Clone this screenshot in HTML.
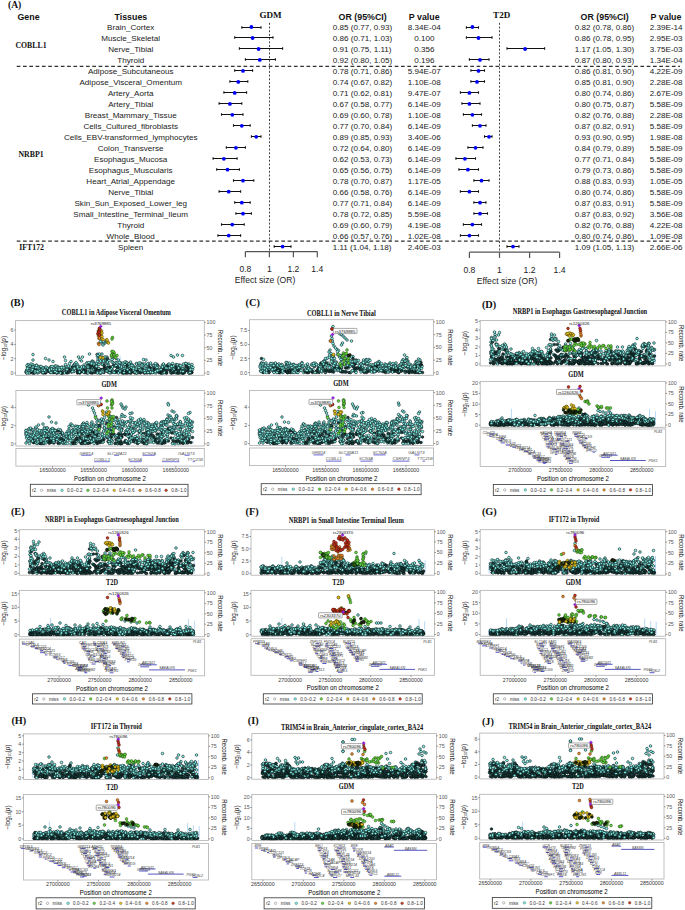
<!DOCTYPE html>
<html><head><meta charset="utf-8"><title>Figure</title><style>
html,body{margin:0;padding:0;background:#fff;width:685px;height:910px;overflow:hidden}
svg{display:block}
.s{font-family:"Liberation Sans",sans-serif}
.sb{font-family:"Liberation Sans",sans-serif;font-weight:bold;fill:#111}
.rb{font-family:"Liberation Serif",serif;font-weight:bold;fill:#111}
.fr{fill:none;stroke:#b4b4b4;stroke-width:0.85}
.lg{fill:none;stroke:#333;stroke-width:0.8}
.tk{fill:none;stroke:#555;stroke-width:0.6}
.tl{font-family:"Liberation Sans",sans-serif;font-size:5.3px;fill:#555}
.xt{font-family:"Liberation Sans",sans-serif;font-size:5.3px;fill:#333}
.yl{font-family:"Liberation Sans",sans-serif;font-size:6.4px;fill:#222}
.xl{font-family:"Liberation Sans",sans-serif;font-size:6.9px;fill:#000}
.lt{font-family:"Liberation Sans",sans-serif;font-size:4.6px;fill:#333}
.ll{font-family:"Liberation Sans",sans-serif;font-size:4.3px;fill:#111}
.gt{font-family:"Liberation Sans",sans-serif;font-style:italic;fill:#3a3a3a}
.gc{font-family:"Liberation Sans",sans-serif;font-style:italic;fill:#555}
.gb{fill:none;stroke:#2c2cb4;stroke-width:0.8}
.mcy{fill:none;stroke:none;marker-start:url(#kcy);marker-mid:url(#kcy);marker-end:url(#kcy)}.mc2{fill:none;stroke:none;marker-start:url(#kc2);marker-mid:url(#kc2);marker-end:url(#kc2)}.mc3{fill:none;stroke:none;marker-start:url(#kc3);marker-mid:url(#kc3);marker-end:url(#kc3)}.mdk{fill:none;stroke:none;marker-start:url(#kdk);marker-mid:url(#kdk);marker-end:url(#kdk)}.mdg{fill:none;stroke:none;marker-start:url(#kdg);marker-mid:url(#kdg);marker-end:url(#kdg)}.mgr{fill:none;stroke:none;marker-start:url(#kgr);marker-mid:url(#kgr);marker-end:url(#kgr)}.mye{fill:none;stroke:none;marker-start:url(#kye);marker-mid:url(#kye);marker-end:url(#kye)}.mor{fill:none;stroke:none;marker-start:url(#kor);marker-mid:url(#kor);marker-end:url(#kor)}.mre{fill:none;stroke:none;marker-start:url(#kre);marker-mid:url(#kre);marker-end:url(#kre)}.mpu{fill:none;stroke:none;marker-start:url(#kpu);marker-mid:url(#kpu);marker-end:url(#kpu)}</style></head>
<body><svg width="685" height="910" viewBox="0 0 685 910">
<defs><marker id="kcy" markerWidth="8" markerHeight="8" markerUnits="userSpaceOnUse" overflow="visible"><circle r="2.60" fill="#86f6ee" stroke="#0c1c1c" stroke-width="1.20"/></marker><marker id="kc2" markerWidth="8" markerHeight="8" markerUnits="userSpaceOnUse" overflow="visible"><circle r="2.60" fill="#4fb8b0" stroke="#0e1c1c" stroke-width="1.20"/></marker><marker id="kc3" markerWidth="8" markerHeight="8" markerUnits="userSpaceOnUse" overflow="visible"><circle r="2.60" fill="#1b3f3d" stroke="#061010" stroke-width="1.20"/></marker><marker id="kdk" markerWidth="8" markerHeight="8" markerUnits="userSpaceOnUse" overflow="visible"><circle r="2.78" fill="#1e2a10" stroke="#050a02" stroke-width="0.84"/></marker><marker id="kdg" markerWidth="8" markerHeight="8" markerUnits="userSpaceOnUse" overflow="visible"><circle r="2.78" fill="#2e6a1c" stroke="#0a1a05" stroke-width="0.84"/></marker><marker id="kgr" markerWidth="8" markerHeight="8" markerUnits="userSpaceOnUse" overflow="visible"><circle r="2.78" fill="#5fd63a" stroke="#1c2a14" stroke-width="0.84"/></marker><marker id="kye" markerWidth="8" markerHeight="8" markerUnits="userSpaceOnUse" overflow="visible"><circle r="2.78" fill="#e4c21c" stroke="#2d2505" stroke-width="0.84"/></marker><marker id="kor" markerWidth="8" markerHeight="8" markerUnits="userSpaceOnUse" overflow="visible"><circle r="2.78" fill="#e6892c" stroke="#2e1a08" stroke-width="0.84"/></marker><marker id="kre" markerWidth="8" markerHeight="8" markerUnits="userSpaceOnUse" overflow="visible"><circle r="2.78" fill="#c93219" stroke="#2e0d05" stroke-width="0.84"/></marker><marker id="kpu" markerWidth="8" markerHeight="8" markerUnits="userSpaceOnUse" overflow="visible"><circle r="2.78" fill="#9a1de0" stroke="#9a1de0" stroke-width="0.84"/></marker></defs>
<text class="rb" x="8" y="8.2" font-size="9.6">(A)</text>
<g class="sb" font-size="8.85">
<text x="28.5" y="20.3" text-anchor="middle">Gene</text>
<text x="130.9" y="20.3" text-anchor="middle">Tissues</text>
<text x="362.7" y="20.3" text-anchor="middle">OR (95%CI)</text>
<text x="424.2" y="20.3" text-anchor="middle">P value</text>
<text x="604.7" y="20.3" text-anchor="middle">OR (95%CI)</text>
<text x="666.0" y="20.3" text-anchor="middle">P value</text>
</g>
<text class="rb" x="270.5" y="18.1" font-size="9.1" text-anchor="middle">GDM</text>
<text class="rb" x="501.7" y="18.1" font-size="9.1" text-anchor="middle">T2D</text>
<g class="rb" font-size="7.8" text-anchor="middle">
<text x="31" y="47.5">COBLL1</text>
<text x="31" y="157.2">NRBP1</text>
<text x="31.6" y="250.1">IFT172</text>
</g>
<g stroke="#333" stroke-width="1.1" stroke-dasharray="3.7 2.6">
<line x1="16.7" y1="66.4" x2="680" y2="66.4"/>
<line x1="16.7" y1="241.1" x2="680" y2="241.1"/>
</g>
<g stroke="#333" stroke-width="0.9" stroke-dasharray="2 1.7">
<line x1="269.5" y1="22.8" x2="269.5" y2="251.6"/>
<line x1="499.5" y1="22.8" x2="499.5" y2="252.2"/>
</g>
<g class="s" font-size="8.1" fill="#222">
<text x="130.7" y="29.9" text-anchor="middle">Brain_Cortex</text>
<text x="332.7" y="29.9">0.85 (0.77, 0.93)</text>
<text x="424.3" y="29.9" text-anchor="middle">8.34E-04</text>
<text x="574.8" y="29.9">0.82 (0.78, 0.86)</text>
<text x="666.2" y="29.9" text-anchor="middle">2.39E-14</text>
<text x="130.7" y="40.9" text-anchor="middle">Muscle_Skeletal</text>
<text x="332.7" y="40.9">0.86 (0.71, 1.03)</text>
<text x="424.3" y="40.9" text-anchor="middle">0.100</text>
<text x="574.8" y="40.9">0.86 (0.78, 0.95)</text>
<text x="666.2" y="40.9" text-anchor="middle">2.95E-03</text>
<text x="130.7" y="51.9" text-anchor="middle">Nerve_Tibial</text>
<text x="332.7" y="51.9">0.91 (0.75, 1.11)</text>
<text x="424.3" y="51.9" text-anchor="middle">0.356</text>
<text x="574.8" y="51.9">1.17 (1.05, 1.30)</text>
<text x="666.2" y="51.9" text-anchor="middle">3.75E-03</text>
<text x="130.7" y="62.8" text-anchor="middle">Thyroid</text>
<text x="332.7" y="62.8">0.92 (0.80, 1.05)</text>
<text x="424.3" y="62.8" text-anchor="middle">0.196</text>
<text x="574.8" y="62.8">0.87 (0.80, 0.93)</text>
<text x="666.2" y="62.8" text-anchor="middle">1.34E-04</text>
<text x="130.7" y="73.8" text-anchor="middle">Adipose_Subcutaneous</text>
<text x="332.7" y="73.8">0.78 (0.71, 0.86)</text>
<text x="424.3" y="73.8" text-anchor="middle">5.94E-07</text>
<text x="574.8" y="73.8">0.86 (0.81, 0.90)</text>
<text x="666.2" y="73.8" text-anchor="middle">4.22E-09</text>
<text x="130.7" y="84.8" text-anchor="middle">Adipose_Visceral_Omentum</text>
<text x="332.7" y="84.8">0.74 (0.67, 0.82)</text>
<text x="424.3" y="84.8" text-anchor="middle">1.10E-08</text>
<text x="574.8" y="84.8">0.85 (0.81, 0.90)</text>
<text x="666.2" y="84.8" text-anchor="middle">2.28E-08</text>
<text x="130.7" y="95.8" text-anchor="middle">Artery_Aorta</text>
<text x="332.7" y="95.8">0.71 (0.62, 0.81)</text>
<text x="424.3" y="95.8" text-anchor="middle">9.47E-07</text>
<text x="574.8" y="95.8">0.80 (0.74, 0.86)</text>
<text x="666.2" y="95.8" text-anchor="middle">2.67E-09</text>
<text x="130.7" y="106.8" text-anchor="middle">Artery_Tibial</text>
<text x="332.7" y="106.8">0.67 (0.58, 0.77)</text>
<text x="424.3" y="106.8" text-anchor="middle">6.14E-09</text>
<text x="574.8" y="106.8">0.80 (0.75, 0.87)</text>
<text x="666.2" y="106.8" text-anchor="middle">5.58E-09</text>
<text x="130.7" y="117.7" text-anchor="middle">Breast_Mammary_Tissue</text>
<text x="332.7" y="117.7">0.69 (0.60, 0.78)</text>
<text x="424.3" y="117.7" text-anchor="middle">1.10E-08</text>
<text x="574.8" y="117.7">0.82 (0.76, 0.88)</text>
<text x="666.2" y="117.7" text-anchor="middle">2.28E-08</text>
<text x="130.7" y="128.7" text-anchor="middle">Cells_Cultured_fibroblasts</text>
<text x="332.7" y="128.7">0.77 (0.70, 0.84)</text>
<text x="424.3" y="128.7" text-anchor="middle">6.14E-09</text>
<text x="574.8" y="128.7">0.87 (0.82, 0.91)</text>
<text x="666.2" y="128.7" text-anchor="middle">5.58E-09</text>
<text x="130.7" y="139.7" text-anchor="middle">Cells_EBV-transformed_lymphocytes</text>
<text x="332.7" y="139.7">0.89 (0.85, 0.93)</text>
<text x="424.3" y="139.7" text-anchor="middle">3.40E-06</text>
<text x="574.8" y="139.7">0.93 (0.90, 0.95)</text>
<text x="666.2" y="139.7" text-anchor="middle">1.98E-08</text>
<text x="130.7" y="150.7" text-anchor="middle">Colon_Transverse</text>
<text x="332.7" y="150.7">0.72 (0.64, 0.80)</text>
<text x="424.3" y="150.7" text-anchor="middle">6.14E-09</text>
<text x="574.8" y="150.7">0.84 (0.79, 0.89)</text>
<text x="666.2" y="150.7" text-anchor="middle">5.58E-09</text>
<text x="130.7" y="161.7" text-anchor="middle">Esophagus_Mucosa</text>
<text x="332.7" y="161.7">0.62 (0.53, 0.73)</text>
<text x="424.3" y="161.7" text-anchor="middle">6.14E-09</text>
<text x="574.8" y="161.7">0.77 (0.71, 0.84)</text>
<text x="666.2" y="161.7" text-anchor="middle">5.58E-09</text>
<text x="130.7" y="172.6" text-anchor="middle">Esophagus_Muscularis</text>
<text x="332.7" y="172.6">0.65 (0.56, 0.75)</text>
<text x="424.3" y="172.6" text-anchor="middle">6.14E-09</text>
<text x="574.8" y="172.6">0.79 (0.73, 0.86)</text>
<text x="666.2" y="172.6" text-anchor="middle">5.58E-09</text>
<text x="130.7" y="183.6" text-anchor="middle">Heart_Atrial_Appendage</text>
<text x="332.7" y="183.6">0.78 (0.70, 0.87)</text>
<text x="424.3" y="183.6" text-anchor="middle">1.17E-05</text>
<text x="574.8" y="183.6">0.88 (0.83, 0.93)</text>
<text x="666.2" y="183.6" text-anchor="middle">1.05E-05</text>
<text x="130.7" y="194.6" text-anchor="middle">Nerve_Tibial</text>
<text x="332.7" y="194.6">0.66 (0.58, 0.76)</text>
<text x="424.3" y="194.6" text-anchor="middle">6.14E-09</text>
<text x="574.8" y="194.6">0.80 (0.74, 0.86)</text>
<text x="666.2" y="194.6" text-anchor="middle">5.58E-09</text>
<text x="130.7" y="205.6" text-anchor="middle">Skin_Sun_Exposed_Lower_leg</text>
<text x="332.7" y="205.6">0.77 (0.71, 0.84)</text>
<text x="424.3" y="205.6" text-anchor="middle">6.14E-09</text>
<text x="574.8" y="205.6">0.87 (0.83, 0.91)</text>
<text x="666.2" y="205.6" text-anchor="middle">5.58E-09</text>
<text x="130.7" y="216.6" text-anchor="middle">Small_Intestine_Terminal_Ileum</text>
<text x="332.7" y="216.6">0.78 (0.72, 0.85)</text>
<text x="424.3" y="216.6" text-anchor="middle">5.59E-08</text>
<text x="574.8" y="216.6">0.87 (0.83, 0.92)</text>
<text x="666.2" y="216.6" text-anchor="middle">3.56E-08</text>
<text x="130.7" y="227.5" text-anchor="middle">Thyroid</text>
<text x="332.7" y="227.5">0.69 (0.60, 0.79)</text>
<text x="424.3" y="227.5" text-anchor="middle">4.19E-08</text>
<text x="574.8" y="227.5">0.82 (0.76, 0.88)</text>
<text x="666.2" y="227.5" text-anchor="middle">4.22E-08</text>
<text x="130.7" y="238.5" text-anchor="middle">Whole_Blood</text>
<text x="332.7" y="238.5">0.66 (0.57, 0.76)</text>
<text x="424.3" y="238.5" text-anchor="middle">1.02E-08</text>
<text x="574.8" y="238.5">0.80 (0.74, 0.86)</text>
<text x="666.2" y="238.5" text-anchor="middle">1.09E-08</text>
<text x="130.7" y="249.5" text-anchor="middle">Spleen</text>
<text x="332.7" y="249.5">1.11 (1.04, 1.18)</text>
<text x="424.3" y="249.5" text-anchor="middle">2.40E-03</text>
<text x="574.8" y="249.5">1.09 (1.05, 1.13)</text>
<text x="666.2" y="249.5" text-anchor="middle">2.66E-06</text>
</g>
<g stroke="#111" stroke-width="1.1">
<path d="M241.8 27.5H261.0M241.8 26.2v2.6M261.0 26.2v2.6"/>
<path d="M466.4 27.5H478.5M466.4 26.2v2.6M478.5 26.2v2.6"/>
<path d="M234.7 37.5H273.0M234.7 36.2v2.6M273.0 36.2v2.6"/>
<path d="M466.4 37.5H492.0M466.4 36.2v2.6M492.0 36.2v2.6"/>
<path d="M239.4 48.5H282.6M239.4 47.2v2.6M282.6 47.2v2.6"/>
<path d="M507.0 48.5H544.6M507.0 47.2v2.6M544.6 47.2v2.6"/>
<path d="M245.4 59.5H275.4M245.4 58.2v2.6M275.4 58.2v2.6"/>
<path d="M469.4 59.5H489.0M469.4 58.2v2.6M489.0 58.2v2.6"/>
<path d="M234.7 70.5H252.6M234.7 69.2v2.6M252.6 69.2v2.6"/>
<path d="M470.9 70.5H484.5M470.9 69.2v2.6M484.5 69.2v2.6"/>
<path d="M229.9 81.5H247.8M229.9 80.2v2.6M247.8 80.2v2.6"/>
<path d="M470.9 81.5H484.5M470.9 80.2v2.6M484.5 80.2v2.6"/>
<path d="M223.9 92.5H246.6M223.9 91.2v2.6M246.6 91.2v2.6"/>
<path d="M460.4 92.5H478.5M460.4 91.2v2.6M478.5 91.2v2.6"/>
<path d="M219.1 103.5H241.8M219.1 102.2v2.6M241.8 102.2v2.6"/>
<path d="M461.9 103.5H480.0M461.9 102.2v2.6M480.0 102.2v2.6"/>
<path d="M221.5 114.5H243.0M221.5 113.2v2.6M243.0 113.2v2.6"/>
<path d="M463.4 114.5H481.5M463.4 113.2v2.6M481.5 113.2v2.6"/>
<path d="M233.5 125.5H250.2M233.5 124.2v2.6M250.2 124.2v2.6"/>
<path d="M472.4 125.5H486.0M472.4 124.2v2.6M486.0 124.2v2.6"/>
<path d="M251.4 136.5H261.0M251.4 135.2v2.6M261.0 135.2v2.6"/>
<path d="M484.5 136.5H492.0M484.5 135.2v2.6M492.0 135.2v2.6"/>
<path d="M226.3 147.5H245.4M226.3 146.2v2.6M245.4 146.2v2.6"/>
<path d="M467.9 147.5H483.0M467.9 146.2v2.6M483.0 146.2v2.6"/>
<path d="M213.1 158.5H237.1M213.1 157.2v2.6M237.1 157.2v2.6"/>
<path d="M455.9 158.5H475.5M455.9 157.2v2.6M475.5 157.2v2.6"/>
<path d="M216.7 169.5H239.4M216.7 168.2v2.6M239.4 168.2v2.6"/>
<path d="M458.9 169.5H478.5M458.9 168.2v2.6M478.5 168.2v2.6"/>
<path d="M233.5 180.5H253.8M233.5 179.2v2.6M253.8 179.2v2.6"/>
<path d="M473.9 180.5H489.0M473.9 179.2v2.6M489.0 179.2v2.6"/>
<path d="M219.1 191.5H240.6M219.1 190.2v2.6M240.6 190.2v2.6"/>
<path d="M460.4 191.5H478.5M460.4 190.2v2.6M478.5 190.2v2.6"/>
<path d="M234.7 202.5H250.2M234.7 201.2v2.6M250.2 201.2v2.6"/>
<path d="M473.9 202.5H486.0M473.9 201.2v2.6M486.0 201.2v2.6"/>
<path d="M235.9 213.5H251.4M235.9 212.2v2.6M251.4 212.2v2.6"/>
<path d="M473.9 213.5H487.5M473.9 212.2v2.6M487.5 212.2v2.6"/>
<path d="M221.5 224.5H244.2M221.5 223.2v2.6M244.2 223.2v2.6"/>
<path d="M463.4 224.5H481.5M463.4 223.2v2.6M481.5 223.2v2.6"/>
<path d="M217.9 235.5H240.6M217.9 234.2v2.6M240.6 234.2v2.6"/>
<path d="M460.4 235.5H478.5M460.4 234.2v2.6M478.5 234.2v2.6"/>
<path d="M274.2 246.5H291.0M274.2 245.2v2.6M291.0 245.2v2.6"/>
<path d="M507.0 246.5H519.0M507.0 245.2v2.6M519.0 245.2v2.6"/>
</g>
<g fill="#0000ff">
<circle cx="251.4" cy="27.0" r="1.9"/>
<circle cx="472.4" cy="27.0" r="1.9"/>
<circle cx="252.6" cy="38.0" r="1.9"/>
<circle cx="478.5" cy="38.0" r="1.9"/>
<circle cx="258.6" cy="49.0" r="1.9"/>
<circle cx="525.1" cy="49.0" r="1.9"/>
<circle cx="259.8" cy="59.9" r="1.9"/>
<circle cx="480.0" cy="59.9" r="1.9"/>
<circle cx="243.0" cy="70.9" r="1.9"/>
<circle cx="478.5" cy="70.9" r="1.9"/>
<circle cx="238.3" cy="81.9" r="1.9"/>
<circle cx="477.0" cy="81.9" r="1.9"/>
<circle cx="234.7" cy="92.9" r="1.9"/>
<circle cx="469.4" cy="92.9" r="1.9"/>
<circle cx="229.9" cy="103.9" r="1.9"/>
<circle cx="469.4" cy="103.9" r="1.9"/>
<circle cx="232.3" cy="114.8" r="1.9"/>
<circle cx="472.4" cy="114.8" r="1.9"/>
<circle cx="241.8" cy="125.8" r="1.9"/>
<circle cx="480.0" cy="125.8" r="1.9"/>
<circle cx="256.2" cy="136.8" r="1.9"/>
<circle cx="489.0" cy="136.8" r="1.9"/>
<circle cx="235.9" cy="147.8" r="1.9"/>
<circle cx="475.5" cy="147.8" r="1.9"/>
<circle cx="223.9" cy="158.8" r="1.9"/>
<circle cx="464.9" cy="158.8" r="1.9"/>
<circle cx="227.5" cy="169.7" r="1.9"/>
<circle cx="467.9" cy="169.7" r="1.9"/>
<circle cx="243.0" cy="180.7" r="1.9"/>
<circle cx="481.5" cy="180.7" r="1.9"/>
<circle cx="228.7" cy="191.7" r="1.9"/>
<circle cx="469.4" cy="191.7" r="1.9"/>
<circle cx="241.8" cy="202.7" r="1.9"/>
<circle cx="480.0" cy="202.7" r="1.9"/>
<circle cx="243.0" cy="213.7" r="1.9"/>
<circle cx="480.0" cy="213.7" r="1.9"/>
<circle cx="232.3" cy="224.6" r="1.9"/>
<circle cx="472.4" cy="224.6" r="1.9"/>
<circle cx="228.7" cy="235.6" r="1.9"/>
<circle cx="469.4" cy="235.6" r="1.9"/>
<circle cx="282.6" cy="246.6" r="1.9"/>
<circle cx="513.0" cy="246.6" r="1.9"/>
</g>
<g stroke="#555" stroke-width="1.2" fill="none">
<path d="M245.4 251.6H317.3"/>
<path d="M245.4 251.6V257.3"/>
<path d="M269.4 251.6V257.3"/>
<path d="M293.4 251.6V257.3"/>
<path d="M317.3 251.6V257.3"/>
<path d="M469.4 252.2H559.6"/>
<path d="M469.4 252.2V257.9"/>
<path d="M499.5 252.2V257.9"/>
<path d="M529.6 252.2V257.9"/>
<path d="M559.6 252.2V257.9"/>
</g>
<g class="s" font-size="8.6" fill="#222" text-anchor="middle">
<text x="245.4" y="271.6">0.8</text>
<text x="469.4" y="272.7">0.8</text>
<text x="269.4" y="271.6">1</text>
<text x="499.5" y="272.7">1</text>
<text x="293.4" y="271.6">1.2</text>
<text x="529.6" y="272.7">1.2</text>
<text x="317.3" y="271.6">1.4</text>
<text x="559.6" y="272.7">1.4</text>
<text x="265.1" y="283.3">Effect size (OR)</text>
<text x="507.0" y="283.7">Effect size (OR)</text>
</g>
<path d="M120.1 373.1V356.0M191.0 373.1V371.0" fill="none" stroke="#9cc8f2" stroke-width="0.7"/>
<g transform="scale(0.5)"><path d="M81 743m111-3m45 4m13-4m20 6m15-7m1 5m36-6m5 3m5 1m47 4" class="mc3"/><path d="M59 742m17-6m14-1m2 10m9-2m45-4m22-3m9-4m21 7m13-24m9 29m9-17m3 5m0-7m4 17m5-16m5 4m7-3m9 9m15 1m7-1m2 5m0-10m0 12m29-8m12-6m25 0m13-18m2 33" class="mcy"/><path d="M67 746m65-3m22-6m31 9m38-1m74-3m69 2" class="mc3"/><path d="M53 741m0 5m3-17m3 5m26 12m4-6m2-23m3 21m2 0m4 1m1-3m4 4m0 3m25-5m23-3m20-1m5 1m17-22m4-1m14 8m31 26m9-7m2 3m36-13m18 16m9-1m13-3m5-12m4 8m2 0m4 5m8-10m8 11" class="mcy"/><path d="M90 739m1 7m10-1m23-3m129 4m35-6m8 3m15-6m19-3m36 12m11-8m7 7" class="mc3"/><path d="M67 731m1 9m8 0m41 5m14-12m2 9m25-9m13 12m1-10m22-5m1-7m9-8m7 11m5 1m25-1m19 9m4-5m1 6m2-4m6-5m12 0m8 12m8-9m11 16m9 0m9-14m14 4m1-9" class="mcy"/><path d="M68 742m113 3m21-3m20-8m23 11m38-8m14-4m25 13m11 0m40-10m5 10" class="mc3"/><path d="M58 735m20 9m1-7m1 2m16 4m15-5m4-5m1 4m13-2m12 4m47-12m6-18m5 32m3-57m8 2m5 41m26 16m1-16m2 9m15-2m14-6m29 17m9-5m2 2m1-13m25 5m2 3m26 9m5-16" class="mcy"/><path d="M55 744m10-2m4 4m22-2m33 2m63-8m3 7m4-8m11 2m83 1m17 5m37 1m25-8" class="mc3"/><path d="M67 738m0-4m1 12m17-10m25-4m1 10m10-4m0 1m20-5m4 1m3 8m18-2m2-11m8-2m6 1m2 14m43-10m9 12m15-11m15 3m4 3m13 1m5 0m6-7m13-4m10 11m38-31" class="mcy"/><path d="M88 746m1-7m18 6m19 1m48 0m21-8m6 8m56-1m38-1m28 2" class="mc3"/><path d="M55 740m18 1m7-2m11 4m12-4m7 3m1-3m3 5m6-7m9 9m0-8m7-1m24 8m1-9m14 8m8-9m3-10m17-5m10 22m0-18m7 22m4-7m17 3m67-11m5 10m12-11m7 14m9 0m15 2m11-18" class="mcy"/><path d="M62 742m75 3m10-12m30-3m50 1m74 15m66-3" class="mc3"/><path d="M55 733m1 1m11 10m8 2m3-3m6 0m2 0m13-6m1 6m43 1m4-13m5 1m11-10m3 20m10-10m3 9m4-6m2-13m13 18m15-15m25 11m0-6m17 8m6-5m22-5m1 5m5 13m5-5m8 2m12-14m26 12m6 0m16 0" class="mcy"/><path d="M110 741m12 3m16-5m7-5m88 7m27 5m14 0m24-3m1 2m0-5m19 5m5-1" class="mc3"/><path d="M56 743m29 1m12-6m16 8m2-4m19-3m8-16m7 5m14 13m7-5m28 1m14-19m3 6m17 21m3-6m7-3m2 3m6-10m8-1m6 15m15-15m18-1m2 9m29 9m7-8m17 9m2-5m20-13" class="mcy"/><path d="M118 739m80 2m52 5m28-11m22 5m5-4m58 5m15 4" class="mc3"/><path d="M54 731m3 6m23-4m2 8m2-2m7-3m21-4m8 3m17-3m18 10m29 0m5-12m7-12m2 27m11-22m25 3m0 8m15 4m9-5m32-5m13 12m2-4m7-3m1-1m12 14m20-12m8-4m5 0m1 10m0-3m6 0m18 2" class="mcy"/><path d="M109 743m5 3m52-3m107-1m4 3m21-5m52 2m4-3m11 7m2 0" class="mc3"/><path d="M55 735m6-4m5 14m29-9m11-1m8 8m10-9m43 7m9 5m3-10m0-28m14 19m6-9m8-35m3 50m29-1m6-4m4 16m0-2m3-18m2 12m6-5m2 1m7 8m2-4m28 9m15-4m12 5m36-1m2-12" class="mcy"/><path d="M52 744m11 0m92 2m62-10m64 10m19-10m16-4m29 0m7 5m12 4m11 0" class="mc3"/><path d="M65 741m4-4m5-3m11 1m1 6m0 4m15-11m16 6m14-19m16 22m40-12m2 7m24-55m13 42m6 8m14 13m21-7m21 4m1-2m20-4m18-9m8 7m7-24m19 29m10-13m3 2m8 12m2-12m1 10" class="mcy"/><path d="M60 745m8-7m91 8m1-8m42 1m14-4m35 10m2-1m25-2m21 2m5-3m2 1m37-10m29 9" class="mc3"/><path d="M57 741m8-12m14 13m76-9m10-19m9 12m23 2m7 0m5-7m8 10m8-14m23 20m3 0m15-3m11 5m17-2m12 0m33-7m9 8m0 6m4 0m4 2m4-15m7 11m5-15m6 19" class="mcy"/><path d="M61 745m1-12m37 10m13 1m11-2m66-8m19 11m39 1m26-1m49-5m10 3" class="mc3"/><path d="M54 740m23 5m14-4m8 1m6 3m13-1m10-7m22-7m2-2m1 2m7-11m7 15m1 0m20 5m5-7m2 12m3-15m3-46m3 25m9-26m1 32m44 14m3-4m19 14m7-19m57 25m4 1m30-13m4 4" class="mcy"/><path d="M154 739m53 3m9 2m1-5m1-2m9 7m30-1m10 1m7-2m66-1m7 4m12 1m9-1" class="mc3"/><path d="M61 741m25-5m12-16m17 15m3 0m5 8m31-7m41-27m7 37m3-5m3-26m6 1m17 27m12-9m3-8m4-2m4 2m3 2m1 0m6 1m12 15m0-11m16-13m63 10m0 4m21 1m2-7" class="mcy"/><path d="M75 738m47 3m32-7m1 10m13-3m23-2m24-21m74 28m94-2" class="mc3"/><path d="M57 745m5-17m11 2m3 7m1 0m9 4m5 0m37-5m1-22m10 13m24 7m4 0m7-8m13-2m10-15m10 8m5 22m13-5m7-3m0-14m7 8m20 13m2 4m20-16m20 18m4-5m18-5m2 0m7 11m7-9m8-4" class="mcy"/><path d="M120 741m51 1m64-7m9 7m80 2m10-6m25 0" class="mc3"/><path d="M53 744m5-11m0 13m5-6m1 2m12-9m0 10m26-9m0 11m20-4m2 5m24-10m2-8m8 10m31-10m4 5m3-22m6 12m4-35m8 54m13 1m33-11m3 3m10 0m38-3m7 8m11 5m22-10m10 10m11-8m0-2m7-1m4 0" class="mcy"/><path d="M65 746m43-1m10-3m51 3m2-5m60 4m4-1m22-3m4 0m1 6" class="mc3"/><path d="M64 736m25 4m3-6m32 4m3-3m16 9m14-7m19-2m8-12m17-1m9 13m4 1m3 2m2 7m5-21m4 21m20 0m24-7m6-3m2 5m10-4m8 4m5 4m8-17m4 6m7 6m34-3m1 0m5 7m16-12" class="mcy"/><path d="M69 743m54 3m0 0m11 0m27-2m22-12m35 2m37 12m97-11m3 11m21-10m4 9" class="mc3"/><path d="M60 732m5 7m1-5m9 1m25 3m9 1m4 6m42-14m0 3m20-1m3 5m3-12m3-1m4 3m11 17m1 1m7-24m3-8m27 32m3-5m19 3m33-12m5 6m4 6m0-18m4 19m6-2m50-12" class="mcy"/><path d="M141 741m19 4m49-9m2 1m43 1m21 5m19 3m14-8m56 8m5-1m13 1" class="mc3"/><path d="M70 745m2-10m10-2m24 6m7 0m4-1m2 2m0-1m26 4m5-15m11 9m6 7m13-9m3-8m22 2m1 15m17-6m1-19m13 1m18 19m9-8m3 9m6 6m5-20m12 19m6 0m39-9m3-8m5 5" class="mcy"/><path d="M158 744m22-9m3 11m25-15m120 7m6-6m23 12m15-11" class="mc3"/><path d="M54 746m1-9m11-17m0-11m4 33m5 1m28-5m1-5m2-10m15 23m2-11m8-6m23-1m3-14m2 30m4-10m13 0m2-9m21-17m4 35m3-53m12 31m22 21m27-5m17-7m11-2m3 11m16-4m18 1m34 7m14 2m6-10" class="mcy"/><path d="M96 741m124 0m34-10m79 15m11 0" class="mc3"/><path d="M73 731m26 9m11 3m39-6m3-12m43 20m0 1m6-1m19-5m50 4m45-3m32-27m34 25" class="mcy"/><path d="M223 713m1-4m1-34m3 32m2 7m0 0" class="mgr"/><path d="M223 710m1-7m0-25m4 32m0-5m6 6" class="mgr"/><path d="M226 703m5 12" class="mgr"/><path d="M202 667m1-5m1 4m2 50m10-31m1 1" class="mye"/><path d="M201 715m1-38m2-4m2 6m7 1m1 0" class="mye"/><path d="M196 668m1 4m0 15m1-10m0 12m1-13" class="mor"/><path d="M197 662m0 0" class="mor"/><path d="M196 667m2-4m0 1m1-7m0 0m1 3" class="mre"/><path d="M199 670m0 0" class="mre"/></g>
<path d="M100.7 324.7l1.7 1.7-1.7 1.7-1.7-1.7z" fill="#9a1de0" stroke="#6a10a0" stroke-width="0.3"/>
<text x="100.9" y="324.8" text-anchor="middle" class="ll">rs3769885</text>
<path d="M193.0 443.8V441.0" fill="none" stroke="#9cc8f2" stroke-width="0.7"/>
<g transform="scale(0.5)"><path d="M93 874m44 3m9 8m23-7m7-6m16 0m23 4m1 7m17-48m25 33m36 6m0 13m43-5" class="mc3"/><path d="M62 869m20 12m26-16m22 22m2-14m2-5m2 7m16 8m29-29m1 2m24-13m1-3m18 25m4-10m32-12m35 14m6 18m7-26m12 2m0 17m1-15m4-10m31 44m4-3m10-43m7 31m3-27" class="mcy"/><path d="M68 872m11 0m41 9m68-8m12-19m66 25m49 3" class="mc3"/><path d="M71 882m22 1m4-11m10 1m20 2m8 6m3-9m5-20m4 8m0 8m9-10m5 2m11 3m11-16m11-3m9-6m14 20m1-27m6 39m0-11m34 14m18 7m9-12m26-22m3 40m0-17m7 4m2-23m0-6m13 21m8-27m6 19m6 19" class="mcy"/><path d="M79 883m27 2m77-11m3 3m37 3m21-6m0-16" class="mc3"/><path d="M55 868m5 6m12 11m16 2m4-27m3 22m4-12m7-6m27 12m47-13m7 4m6-17m4 19m16-45m5 37m20 6m20 20m23-9m8-31m7 12m5 1m1 5m2-3m6-8m4 28m14-35m15 9m1-34m4 21m13 17m2 5m13 8m6-29" class="mcy"/><path d="M73 883m8 3m56-16m8 16m8-8m5 0m17 2m196-5" class="mc3"/><path d="M74 887m1-19m9 2m16 12m3-12m9-2m7 19m2-4m27-22m9 13m9-26m8 1m5 8m5 6m40-1m20-50m7 51m23-14m7 0m7 26m5-18m18 5m3-15m3 10m5 8m3 5m0-7m1 9m4-10m9 3m38-27m3-13" class="mcy"/><path d="M99 886m1-4m19-2m43-3m9 10m73 0m51-7m17-2" class="mc3"/><path d="M85 878m0-13m20-4m2 10m3 2m16 14m4-13m11-9m17-10m28 25m5-48m6 34m1-14m5-8m19 2m21-13m2 9m0 11m4-2m3-37m5 50m27-23m3 4m6 15m2-15m22 24m0-10m19-29m3 4m9 31m25 3m6-6" class="mcy"/><path d="M68 885m10-14m0 9m23 2m4 1m53-2m79 4m88-20m60 10" class="mc3"/><path d="M55 882m7-8m0-3m20-6m25 3m5-22m10 39m1-4m5 3m5-18m9-17m0 39m29-16m14-56m5 64m2-2m0-7m48-22m25-12m3 8m4 5m5 1m16 21m8-22m4 26m19 10m5-5m5-20m6-7m26 14m11-16" class="mcy"/><path d="M61 881m32-1m75-17m51 23m43-14m120 13" class="mc3"/><path d="M78 872m21 6m22-17m14 2m0 5m5 9m8-11m3-14m16-6m6 23m5-1m5-15m15 4m20-25m10 9m13 36m3-48m26 47m1-15m6-13m0 34m4-30m0 9m25 2m12 21m3-28m1-10m4 16m6 22m16-60m5 7m1 36m8 1m21-13" class="mcy"/><path d="M85 883m24 0m132 5m2-17m76 13" class="mc3"/><path d="M80 880m17-2m1-44m0 31m3 11m1-17m1 4m0-19m2 41m12-16m0 18m21-29m10 4m17-12m2 11m20-8m11-12m25 46m18-39m24-3m0 18m12 16m13 0m3 9m6-4m2-21m10-8m3 2m1 20m2-5m27-32m7 11m13 32m7-3m2-11" class="mcy"/><path d="M60 879m25-7m37 9m79 4m35 0m23-9m50 4m8-6m22-12" class="mc3"/><path d="M52 865m22 11m0 8m12-3m0-33m6 26m26 11m43-30m4-6m3 18m2-13m21 21m27-19m1-21m12 4m5 3m3 24m10 18m24-40m2 27m6-14m10 9m2-1m3-6m18 25m25-41m4 12m15 13m19-23m0-18m1 35" class="mcy"/><path d="M184 880m24-1m69 6m41 1m18-29m10 24" class="mc3"/><path d="M54 872m14-3m9 1m18 1m17-10m4 20m22-19m9 10m2-3m9 13m14-23m10 8m1 13m3-26m6 29m1-45m6 14m37-7m23 36m1-30m0-7m2-3m6 23m13 10m12 3m15-19m19 3m5-19m2 0m1 30m1-28m14 44m5-18m6-14" class="mcy"/><path d="M93 875m15 11m0-7m38 8m16 0m40-5m21-21m98 17" class="mc3"/><path d="M52 867m5 2m10 13m39-5m4 0m8 0m34 10m4-34m13-4m16 18m2-7m9-8m20 22m2 9m3-19m6 10m13-17m1 10m9-34m9 22m10 7m2-7m7 27m28-2m5-18m25-55m0 71m27-24m3 20m10-24m0 26m9-32" class="mcy"/><path d="M155 875m34-9m43 13m43 8m4-22m72 18m7-2m8-11m12 8" class="mc3"/><path d="M52 861m0 25m12-9m4 4m32-16m58 11m8 1m3-7m2 10m19-2m9-22m1-6m6 34m2-28m1 18m3-16m13 24m5-12m3 14m5-26m26-32m11 23m6-11m9 45m12-16m19 4m8-27m25 32m6 2m4 3m19-34" class="mcy"/><path d="M88 886m13-1m164-7m8-1m28-9m5 3m47 11" class="mc3"/><path d="M72 856m9 31m3 0m3-16m11 2m20-11m7 4m1 19m4-2m0-9m26-17m1 8m10-6m5-9m2-1m1 34m17-5m4 2m0-29m8-6m3 26m13-26m33 21m29 0m14-12m14 7m20 18m1-34m7 18m13 2m16-14m5 10m1-26" class="mcy"/><path d="M120 861m40 18m61-10m73 1m50-4" class="mc3"/><path d="M74 887m1-20m2 1m22-4m3 13m1-18m4 4m0-4m0 23m18-13m3 13m1 1m13-35m4 11m14 1m28 19m0-29m17 23m1 11m15-44m12 33m8 2m1 10m7-41m3 26m5-15m36-10m5 23m5 4m4 13m13-8m15-8m15-31m21 48m11-31" class="mcy"/><path d="M98 886m70 0m2-4m159 0m13-6m35 7" class="mc3"/><path d="M52 861m6-3m21 16m3-12m7-7m31 29m7-12m4 1m8-3m19 13m6-7m19 7m8-21m5-4m1 3m1 14m38 9m0-5m2 1m15-19m2-1m5-10m31 2m9 14m37-24m6 19m8-8m7 21m2-31m1 1m2 9m3 1m7-9m6 4" class="mcy"/><path d="M179 870m14 14m42 3m30-30m48 22m32 7m33-2" class="mc3"/><path d="M52 870m1 6m1-8m16 17m5-21m3 7m0 12m1-20m16-7m2 11m18 7m1 0m23 0m4 7m15-21m6 4m1-15m2 29m22-52m18 36m13-25m21 9m11 19m8 14m4-12m12 19m1-24m2 0m9-21m13 14m20 31m31-51m8 24" class="mcy"/><path d="M109 880m68-2m19-9m55 12m39 3" class="mc3"/><path d="M58 858m5 1m7 14m5 2m10-14m23-2m12 24m3-15m23 9m14-23m6 0m14 9m3-16m5 25m27-29m2 25m1-14m0-9m3-12m16 35m5-60m4 8m5 36m12 4m7 17m26-5m2 3m7-22m16 27m6-26m19 27m1-30m6-9m3 37m8-26" class="mcy"/><path d="M92 884m88 2m18-3m16-19m28 19m30-4m22-14m21 20m10 1m4 0m27-36m11 29" class="mc3"/><path d="M70 872m7-22m7 12m3 11m1-11m5 8m7 1m1-7m17 11m3-15m10 19m7-26m9 13m4-4m41 5m17 6m6-30m8 30m2-10m31-20m5 15m21-14m1 40m2-25m15-6m2 23m20-3m57-15" class="mcy"/><path d="M149 887m34-4m45-29m7 33m2-12m49 4m89 5" class="mc3"/><path d="M65 860m0 22m1-22m1 6m0-1m22-8m4 0m24 2m22 7m2 15m4-20m9-8m13 23m3-16m0 1m2 2m12-19m1 38m13-12m6-24m19 34m11-9m19 14m12-9m9-23m13 28m1-42m20 18m4-5m12 31m0-29m30-21m31 30" class="mcy"/><path d="M92 864m71-1m0 6m30 2m57-2m58 5m16 13" class="mc3"/><path d="M80 882m13-20m16 6m14 12m3-2m0 3m1-6m6-3m16-14m7 14m1-9m2-9m39 10m6 3m5-16m14-13m1 19m16 14m10-53m11 17m2 48m23-27m9 19m2-28m9 5m7 3m13-9m8-2m19 21m3-17m4 0m9 34m4-17" class="mcy"/><path d="M79 886m86-3m190 0" class="mc3"/><path d="M53 867m5 10m24 0m10-5m2-9m5 6m5-11m1-1m8 21m4-3m34-14m13 2m12 15m3-21m6 24m9-17m11 5m9-27m12 7m9 38m4-36m7-3m17 20m3-3m13-19m9 4m11 26m5-23m6-3m13 10m7-1m2-9m14 5m4 13m12 5m11-18m6 18" class="mcy"/><path d="M65 878m51 8m34-5m44 6m3-1m8-6m17-6m53 11m40-17m25-10" class="mc3"/><path d="M65 873m7-4m10 6m25-14m0 5m1 18m17-17m27 2m16-16m4 19m4-12m52-4m5-10m4 5m6 11m8-16m8 40m11-2m2-30m7 8m22 11m21 5m1 4m1-2m3-16m1-20m25-12m2 16m20 0m7-4" class="mcy"/><path d="M115 862m42 4m56-19m37 37m5 3m32-20" class="mc3"/><path d="M67 865m0 5m6 6m1-10m2 14m5-1m1 0m4-1m2 8m22-25m4 17m14-2m8-9m1 0m30-11m1-7m9-39m11 77m4-23m28 15m40-7m17-32m12 7m9 7m0-4m1 18m16 5m5-15m14-20m0 12m6-18m40 11m1-1m1 14" class="mcy"/><path d="M97 877m69 8m8-12m11-9m14-13m43 36m32-10" class="mc3"/><path d="M55 873m7 5m12-8m17 12m7-14m3-8m1 2m12 9m11-5m20-15m31 0m5 25m6 2m3-5m2-21m17-17m12-2m0 18m13 0m5-12m5 9m11 11m33 23m4 4m1-37m28 6m3 0m2 17m1-3m20-9m2 16m30-7m1-14" class="mcy"/><path d="M79 886m81-11m16 12m190 0" class="mc3"/><path d="M58 882m1 5m16-28m0 21m4-19m10 5m5-10m0 23m13-2m11-4m14-5m3 19m24-7m0-13m0 2m13 8m3-13m37-35m31 31m10 22m3-9m6-15m8 26m4-7m19-26m9 6m12 24m8-34m9-3m3-5m14 13m15 22m5-6m1-6m6 16m9-25" class="mcy"/><path d="M66 884m17 3m44-7m100-12m10 17m138 1" class="mc3"/><path d="M69 863m13 19m10 4m13-25m45 3m10 17m1 1m26-61m0 59m13-38m3 34m2-31m4 26m3-7m2-4m5 18m0 9m0-37m16 6m11-24m14-5m5 34m21 9m6 17m4-21m1-1m32 5m4 10m1-16m0-25m8-4m6 21m23-9m3-4" class="mcy"/><path d="M67 885m54-17m1 9m43 10m65 0m8-18m11-1m18 15m44-1m18 0m32 4" class="mc3"/><path d="M59 863m2-7m8 20m2-20m5 28m0-11m14-12m53 1m0 11m24-20m16 30m9-30m17 3m5 16m8-28m31 0m7-2m2 34m6-24m10 33m45-12m11 4m6-20m5-14m0 44m3-33m2-5m6 9m13-22" class="mcy"/><path d="M153 877m90-8m42 15m3 3m13-16" class="mc3"/><path d="M65 882m4-16m2 9m1-21m35 27m7-2m6-9m32-15m14-2m4 33m4-41m4 9m4 3m89-11m31 38m9-32m2-7m24-35m7 50m15 7" class="mcy"/><path d="M198 859m16-57m3 61m6-53m1-10m0 2" class="mgr"/><path d="M214 867m3-14m6-6m1-39m1-3m0 31" class="mgr"/><path d="M191 835m24-19m7 35m2-17m1-27m2 26" class="mgr"/><path d="M217 849m0-17m2 6m5 2m0-24m2 48" class="mgr"/><path d="M223 803m4 56" class="mgr"/><path d="M205 822m1 2m0 5m10 0m1-5m2 0" class="mye"/><path d="M214 829m3-3" class="mye"/><path d="M197 811m0 0" class="mor"/><path d="M202 809m0 0" class="mre"/></g>
<path d="M101.2 396.4l1.7 1.7-1.7 1.7-1.7-1.7z" fill="#9a1de0" stroke="#6a10a0" stroke-width="0.3"/>
<rect x="76.9" y="399.6" width="23.6" height="5.2" rx="0.6" fill="#fff" stroke="#555" stroke-width="0.5"/>
<text x="88.7" y="403.7" text-anchor="middle" class="ll">rs3769885</text>
<text class="rb" x="10.4" y="305.7" font-size="10.3">(B)</text>
<text class="rb" x="116.4" y="315.0" font-size="7.2" text-anchor="middle" textLength="109.1" lengthAdjust="spacingAndGlyphs">COBLL1 in Adipose Visceral Omentum</text>
<text class="rb" x="109.2" y="386.8" font-size="7.2" text-anchor="middle" textLength="15.5" lengthAdjust="spacingAndGlyphs">GDM</text>
<rect x="15.6" y="320.6" width="188.7" height="54.7" class="fr"/>
<path d="M15.6 373.1h-1.5M15.6 358.7h-1.5M15.6 344.4h-1.5M15.6 330.0h-1.5M204.3 373.1h1.5M204.3 360.4h1.5M204.3 347.8h1.5M204.3 335.1h1.5M204.3 322.4h1.5" class="tk"/>
<g class="tl" text-anchor="end">
<text x="13.4" y="375.0">0</text>
<text x="13.4" y="360.6">2</text>
<text x="13.4" y="346.3">4</text>
<text x="13.4" y="331.9">6</text>
</g><g class="tl">
<text x="206.5" y="375.0">0</text>
<text x="206.5" y="362.3">25</text>
<text x="206.5" y="349.6">50</text>
<text x="206.5" y="337.0">75</text>
<text x="206.5" y="324.3">100</text>
</g>
<text class="yl" transform="translate(5.8 348.0) rotate(-90)" text-anchor="middle">&#8722;log<tspan font-size="3.6" dy="1.2">10</tspan><tspan dy="-1.2">(</tspan><tspan font-style="italic">p</tspan>)</text>
<text class="yl" transform="translate(217.6 348.0) rotate(90)" text-anchor="middle" textLength="36.4" lengthAdjust="spacingAndGlyphs">Recomb. rate</text>
<rect x="15.9" y="390.5" width="188.4" height="55.5" class="fr"/>
<path d="M15.9 443.8h-1.5M15.9 425.6h-1.5M15.9 407.4h-1.5M204.3 443.8h1.5M204.3 431.1h1.5M204.3 418.5h1.5M204.3 405.8h1.5M204.3 393.1h1.5" class="tk"/>
<g class="tl" text-anchor="end">
<text x="13.7" y="445.7">0</text>
<text x="13.7" y="427.5">2</text>
<text x="13.7" y="409.3">4</text>
</g><g class="tl">
<text x="206.5" y="445.7">0</text>
<text x="206.5" y="433.0">25</text>
<text x="206.5" y="420.4">50</text>
<text x="206.5" y="407.7">75</text>
<text x="206.5" y="395.0">100</text>
</g>
<text class="yl" transform="translate(5.8 418.2) rotate(-90)" text-anchor="middle">&#8722;log<tspan font-size="3.6" dy="1.2">10</tspan><tspan dy="-1.2">(</tspan><tspan font-style="italic">p</tspan>)</text>
<text class="yl" transform="translate(217.6 418.2) rotate(90)" text-anchor="middle" textLength="36.4" lengthAdjust="spacingAndGlyphs">Recomb. rate</text>
<rect x="15.9" y="448.5" width="188.4" height="17.6" class="fr"/>
<g class="xt" text-anchor="middle">
<text x="52.5" y="472.1">165000000</text>
<text x="93.6" y="472.1">165500000</text>
<text x="134.7" y="472.1">166000000</text>
<text x="175.8" y="472.1">166500000</text>
</g>
<path d="M52.5 466.1v1.6M93.6 466.1v1.6M134.7 466.1v1.6M175.8 466.1v1.6" class="tk"/>
<text class="xl" x="110.0" y="480.9" text-anchor="middle" textLength="72" lengthAdjust="spacingAndGlyphs">Position on chromosome 2</text>
<rect x="30.3" y="484.3" width="157.7" height="12.0" class="lg"/>
<text x="32.1" y="492.0" class="lt">r2</text>
<circle cx="41.6" cy="490.3" r="1.2" fill="none" stroke="#777" stroke-width="0.5"/>
<text x="46.7" y="492.0" class="lt">miss</text>
<circle cx="62.0" cy="490.3" r="1.35" fill="#74e6dc" stroke="#555" stroke-width="0.35"/>
<text x="67.0" y="492.0" class="lt">0.0−0.2</text>
<circle cx="87.9" cy="490.3" r="1.35" fill="#62d43c" stroke="#555" stroke-width="0.35"/>
<text x="93.1" y="492.0" class="lt">0.2−0.4</text>
<circle cx="114.2" cy="490.3" r="1.35" fill="#e3c11e" stroke="#555" stroke-width="0.35"/>
<text x="119.0" y="492.0" class="lt">0.4−0.6</text>
<circle cx="140.0" cy="490.3" r="1.35" fill="#e58a2e" stroke="#555" stroke-width="0.35"/>
<text x="145.3" y="492.0" class="lt">0.6−0.8</text>
<circle cx="166.1" cy="490.3" r="1.35" fill="#c8341c" stroke="#555" stroke-width="0.35"/>
<text x="171.2" y="492.0" class="lt">0.8−1.0</text>
<g class="gc" font-size="4.2" text-anchor="middle">
<text x="86.4" y="454.9">GRB14</text>
<path d="M81.2 455.4H91.5" stroke="#8f8fe2" stroke-width="1.25"/>
<text x="102.0" y="460.6">COBLL1</text>
<path d="M94.1 461.6H109.9" stroke="#8f8fe2" stroke-width="1.25"/>
<text x="116.9" y="454.9">SLC38A11</text>
<path d="M114.0 455.4H119.1" stroke="#8f8fe2" stroke-width="1.25"/>
<text x="135.0" y="460.6">SCN3A</text>
<path d="M129.3 461.6H141.6" stroke="#8f8fe2" stroke-width="1.25"/>
<text x="149.0" y="454.9">SCN2A</text>
<path d="M142.6 455.4H154.9" stroke="#8f8fe2" stroke-width="1.25"/>
<text x="170.7" y="460.6">CSRNP3</text>
<path d="M162.0 461.6H179.4" stroke="#8f8fe2" stroke-width="1.25"/>
<text x="186.5" y="454.9">GALNT3</text>
<path d="M184.5 455.4H189.6" stroke="#8f8fe2" stroke-width="1.25"/>
<text x="195.1" y="460.6">TTC21B</text>
<path d="M192.7 461.6H195.2" stroke="#8f8fe2" stroke-width="1.25"/>
</g>
<path d="M422.5 372.6V371.0" fill="none" stroke="#9cc8f2" stroke-width="0.7"/>
<g transform="scale(0.5)"><path d="M538 741m15-8m64 12m4-6m22 3m8 3m30-2m50-15m19 12m0-8m22 11m26 2m8-11m12 6" class="mc3"/><path d="M543 739m4 4m26-13m7 14m1-5m1-5m56 4m14-7m12-19m0-35m3 67m1-14m4 3m1-9m1-25m14 11m3 8m6 18m11-8m15-1m1 8m27 8m25-8m3 8m19-12m11-21" class="mcy"/><path d="M551 741m118-7m1-5m17 14m99-2m3-4m31 7m8 0" class="mc3"/><path d="M523 732m15 6m22 1m12-6m1 11m3-12m5 8m18 1m1-9m4-7m37 3m6 7m1-13m16 16m1-2m12-35m2 31m7-60m18 57m8-9m11 10m3 13m11-20m9 21m14-8m26 2m9-4m5-4m30 9m4-13m4 18m3-8" class="mcy"/><path d="M523 717m115 28m70-18m61 15m53-1m21-11" class="mc3"/><path d="M527 719m5 14m4-2m27-2m10-3m2 19m5-10m9 3m6-7m22 4m1 4m30-12m4-9m11-46m3 59m16-62m21 13m6 53m1-7m13 9m5 6m27-15m3-4m2 6m5 1m10 7m10 3m13 2m9-14m12 5m7 2m2-6m9-3m1 2" class="mcy"/><path d="M559 745m36-1m38-2m0 1m9-17m17 16m0-12m4 13m16-8m31 8m1-3m18 5m28-3m1-15m60 10" class="mc3"/><path d="M522 728m3 4m1 12m20-3m17-8m35 0m9 12m40-22m8-7m1 24m3-7m2 9m1-35m20 4m6 9m8 5m22 13m3-10m3 7m23-4m16 6m5 6m52-3m2-5m0 5" class="mcy"/><path d="M554 739m27 6m5-6m104-18m1 15m80 9m17-4m8 3m22 1m0 0m13-2m12-12" class="mc3"/><path d="M526 743m1-2m23-3m3-1m3-8m64 9m6 1m24-14m20 1m5-17m9 22m4 13m5 0m2-25m17 19m35 3m4-14m7 15m2-8m22-1m2 7m4-9m3-2m15 3m7-16m3 6m2 9m5 13" class="mcy"/><path d="M547 729m136 7m5-8m36 2m27 12m46 3m33 0m11-1" class="mc3"/><path d="M527 727m1 11m3-1m19-10m1 11m4-6m6 13m14-17m4 8m8-7m27 16m13-18m19 3m3 10m7-8m11-20m4 16m2 10m9-2m9-27m6 13m13 3m1 17m12-13m17 4m8 11m10-21m6 16m10-9m10 10m0 3m32-1" class="mcy"/><path d="M592 744m6-6m123 2m11-2" class="mc3"/><path d="M523 726m2 15m21-7m14 1m5-5m3 9m0-5m4-9m17 12m1 0m8-5m52 9m0-17m10-24m5 20m2 10m7 8m11-52m5-10m3 50m1-10m22 20m3-4m21 10m5-2m25-12m5 10m32-16m0 2m7-3m1 4m6 4m5 14m6-20m0 2m9 12" class="mcy"/><path d="M545 734m34 8m35 3m10-3m5-9m30 10m3-2m19-2m32-3m14 5m16-4m49 0m14-5" class="mc3"/><path d="M591 742m0-10m7 5m3-8m4 6m8-1m3 1m7-5m17 1m10 6m18-20m15-27m8 32m8 10m29 10m8-13m2-10m6 17m12-3m7-6m7 14m1-8m24 10m4-1m11-19m28 13m6-3" class="mcy"/><path d="M548 739m23 3m177-2m40 3m19-3m6-6m5 8" class="mc3"/><path d="M538 744m5-4m6-2m9-10m4 3m18-3m13 3m21 1m0 2m19-5m1 15m6-3m4-6m4-12m3-6m0 21m13-9m2-76m13 61m1-3m5 1m25 9m20 17m7-1m18-12m2 8m23-6m7 5m16-5m10-4m4 16m9 4m6-13" class="mcy"/><path d="M613 742m5 0m35-2m48 5m65-2m19 0m24-20m30 22" class="mc3"/><path d="M530 740m12-4m21 6m4-6m12 5m2 3m12-7m37-11m4 18m0-1m3-11m3 2m3 5m4-4m5-7m1-2m3 0m12 6m0-40m23 30m9 9m5 1m29 11m32-7m8 4m15-12m3-2m20-5m2-6m20 9m1 12m4-8" class="mcy"/><path d="M653 727m15 10m30 8m41-6m5-6m9 3m76 8" class="mc3"/><path d="M523 726m0 2m22-1m7 3m27 8m7-9m2 0m5 15m12-11m17 6m30-9m19-34m4 45m8-22m6 11m8-6m2-3m4 1m11-1m13 2m4 0m6 16m6 5m9-4m9 1m1-1m6-4m21-2m24-3m5-3m4 4m5 8m12-13" class="mcy"/><path d="M562 743m52-3m18 4m134-2m38-3m33 6" class="mc3"/><path d="M521 731m10-1m5 5m5-8m12 17m3-11m20 12m18-7m2 7m8-18m20 1m1 15m25 1m13-23m2-2m2 11m3 10m5-37m7 16m7 8m11 6m32-14m2 10m4 8m10 5m1 1m2-13m1 0m21 2m12 12m6-12m15 1m31-15m3 2" class="mcy"/><path d="M526 745m8-4m75-1m1 4m15 1m84-6m46 0m41 1m49 5" class="mc3"/><path d="M522 737m7 7m11-10m8 11m4-8m5 4m9 4m6-10m12 0m27 5m15-9m13 5m4 1m1-3m1-9m13-21m7-22m1 5m17 47m2-21m7 30m8-17m14-4m22 5m30 16m5-12m27 4m5 7m3-23m23 18m1-6" class="mcy"/><path d="M555 737m20 7m10 0m33 0m6-1m70-7m13 5m29 2m76 1m30-19" class="mc3"/><path d="M521 742m21-12m6 1m50 6m1-8m12 2m6 3m4 6m19-5m3-2m4-1m18-8m5 0m1 1m17-11m6 12m12-13m9 14m6 10m6-17m32 19m4 3m1-5m2 4m13-5m22 1m9 8m20-11m1-2m4-5" class="mcy"/><path d="M634 742m2-5m60-4m19 3m117-3m2 12" class="mc3"/><path d="M533 740m18-14m21 8m2-9m21 13m4-6m34-3m7 5m7-5m19-16m3 14m10-60m25 56m3 7m5 13m9-6m8 1m1 4m3-21m1-1m3 15m6-6m3 1m21 7m3 3m2-10m8-4m8 6m14-4m6 11m21-6m7-1m0 11m7-6" class="mcy"/><path d="M538 745m22-6m13 3m2 3m5-2m104 1m26-16m58 14m14-4m43 5" class="mc3"/><path d="M522 743m6-6m4-11m1 19m9-18m3 12m11-7m8 4m12-9m11 15m3-2m10-5m28-4m2 14m9-7m5 6m15-34m8 34m14-3m1-16m18-3m3 21m1-14m18-1m18-7m37 23m26-7m2-15m11 11m22-7" class="mcy"/><path d="M579 744m68-11m9 9m10 1m12-7m29-2m13 3m34-5m38 9m27 0m5 3" class="mc3"/><path d="M521 731m20 4m14-5m10 12m12-4m2-12m6 18m3 1m17-12m10-5m1 10m1-1m10-10m16 15m7-8m9 1m0-20m4 2m4 14m23-6m13-11m40 24m17 0m2 3m8-3m8-9m32-7m1 9m29 14" class="mcy"/><path d="M558 745m20-5m72 2m35 1m6 1m15-27m27 28m19-14m41 12m2-6m16 6" class="mc3"/><path d="M526 736m76 5m12 0m33-13m16-5m6-6m5 16m2 7m3-11m15-8m11 20m5-19m2 23m5-24m5 23m3-13m2-6m7 2m5 9m12-8m3 10m17-2m1 1m15-3m4-2m1 4m12-13m17 11m17 6" class="mcy"/><path d="M558 745m38-4m207 1m38-12" class="mc3"/><path d="M520 734m6-6m3 9m18-6m7 14m28-14m8 0m8 4m8-3m14 8m68-32m6-28m1 50m36 6m19 0m6-9m20 17m2-13m8-4m14 8" class="mcy"/><path d="M682 732m3-19m2-7m0 5m3-3m4-8" class="mgr"/><path d="M677 709m11 13m1 6m4-21m3 13m1-4" class="mgr"/><path d="M680 727m10-10m7 9" class="mgr"/><path d="M667 710m0-1" class="mye"/><path d="M697 711m1 0m2-1" class="mdk"/><path d="M661 682m0 0" class="mor"/><path d="M664 658m0 0" class="mre"/></g>
<path d="M332.5 332.8l1.7 1.7-1.7 1.7-1.7-1.7z" fill="#9a1de0" stroke="#6a10a0" stroke-width="0.3"/>
<rect x="333.4" y="328.4" width="23.6" height="5.2" rx="0.6" fill="#fff" stroke="#555" stroke-width="0.5"/>
<text x="345.2" y="332.5" text-anchor="middle" class="ll">rs3769885</text>
<path d="M422.8 443.5V440.7" fill="none" stroke="#9cc8f2" stroke-width="0.7"/>
<g transform="scale(0.5)"><path d="M559 874m43 2m9 9m22-8m7-6m15 0m23 4m2 8m16-48m24 32m36 7m0 12m41-5" class="mc3"/><path d="M528 868m20 12m26-16m22 22m2-14m1-4m2 6m16 8m28-29m1 2m24-13m0-3m18 25m4-9m31-13m35 15m6 18m6-26m12 2m0 17m1-15m4-11m30 45m4-3m10-44m7 31m3-26" class="mcy"/><path d="M534 871m11 0m40 9m67-7m12-19m64 24m48 4" class="mc3"/><path d="M538 881m21 2m4-11m10 0m19 2m8 6m3-9m5-19m3 8m1 7m8-9m5 2m11 2m11-15m11-3m9-6m13 20m1-27m6 38m1-10m33 13m17 7m9-11m25-23m3 41m1-18m6 4m2-22m0-7m13 21m8-27m5 19m6 20" class="mcy"/><path d="M546 882m26 2m75-10m3 3m36 3m21-6m0-16" class="mc3"/><path d="M522 867m5 6m12 11m15 3m4-28m3 22m4-12m7-6m26 12m46-13m7 4m6-17m3 20m16-46m5 37m20 7m20 20m22-10m8-30m6 11m5 2m1 4m3-2m6-9m3 28m14-34m15 9m1-34m4 21m13 16m1 5m13 9m6-29" class="mcy"/><path d="M540 883m7 2m55-16m8 16m8-8m5 0m17 2m191-5" class="mc3"/><path d="M540 886m2-18m9 1m15 13m3-13m8-2m8 19m1-3m27-22m9 13m9-26m7 1m5 8m5 5m39 0m20-50m7 51m22-15m7 0m7 26m5-18m17 5m3-15m4 11m4 8m3 4m0-7m1 9m3-10m10 4m37-28m2-13" class="mcy"/><path d="M565 886m1-5m19-2m42-2m9 10m71-1m50-7m17-2" class="mc3"/><path d="M551 877m0-13m20-3m2 9m3 3m16 13m3-13m11-9m16-9m28 24m5-47m5 33m1-13m6-8m19 2m20-14m2 10m0 11m4-3m3-36m5 49m26-22m3 3m5 16m3-16m21 25m0-11m19-29m3 4m8 31m25 4m6-6" class="mcy"/><path d="M534 884m10-14m0 9m23 2m3 1m52-2m78 4m86-19m59 9" class="mc3"/><path d="M522 881m7-8m0-2m19-7m25 4m4-23m10 39m2-4m4 3m6-18m8-17m0 39m28-16m14-55m5 63m2-1m0-7m47-22m24-12m3 8m4 4m5 1m16 22m8-22m4 25m18 11m5-6m4-19m7-8m25 14m11-16" class="mcy"/><path d="M527 880m32-1m74-16m49 22m43-14m117 14" class="mc3"/><path d="M545 871m20 6m21-17m14 3m1 4m4 10m8-12m3-13m15-6m6 22m5 0m5-15m14 4m21-25m9 8m12 37m4-48m26 46m0-14m6-14m0 34m4-29m0 9m24 1m13 21m2-27m1-10m4 15m6 23m15-60m6 7m1 35m7 2m21-13" class="mcy"/><path d="M552 882m23 0m129 5m2-17m74 14" class="mc3"/><path d="M546 880m17-3m1-43m0 30m3 11m1-17m1 4m0-18m2 41m11-16m0 18m21-30m10 4m17-12m1 12m20-9m11-11m24 46m18-40m23-2m1 18m11 16m12 0m4 8m6-4m2-21m9-8m3 3m1 20m2-6m27-31m6 11m13 31m7-3m1-11" class="mcy"/><path d="M527 878m24-7m37 9m77 5m34 0m22-10m50 4m8-6m21-11" class="mc3"/><path d="M519 865m21 11m1 7m11-3m1-32m5 25m25 11m42-30m5-6m2 19m2-14m21 21m27-18m1-22m11 5m5 2m3 24m9 18m25-40m1 28m5-14m11 9m1-1m3-6m19 24m24-40m4 11m14 13m19-22m0-18m1 35" class="mcy"/><path d="M648 879m23-1m68 6m40 1m18-28m10 23" class="mc3"/><path d="M521 872m14-3m8 0m18 2m17-10m4 20m21-19m9 10m2-4m9 13m14-22m9 8m1 12m3-25m6 29m1-45m6 13m36-6m22 36m1-31m0-7m2-2m6 22m13 11m12 2m15-18m18 3m4-19m3-1m1 30m1-27m14 43m5-17m5-14" class="mcy"/><path d="M559 875m14 11m1-7m37 8m16-1m38-4m21-21m96 16" class="mc3"/><path d="M519 867m5 1m10 14m38-6m3 0m8 1m34 10m4-35m12-3m16 17m2-7m9-7m20 22m1 8m3-18m7 9m11-16m2 9m9-34m8 23m10 7m2-7m7 26m27-2m6-18m24-55m0 72m26-25m3 21m10-25m0 26m8-32" class="mcy"/><path d="M620 875m33-9m42 12m42 8m4-22m70 19m7-2m8-11m11 7" class="mc3"/><path d="M519 861m0 25m12-10m3 5m32-17m56 11m8 2m3-8m2 10m19-2m9-21m1-7m5 34m3-28m0 18m4-16m12 24m5-12m3 15m5-26m25-33m11 23m6-11m9 45m12-16m18 5m7-28m25 32m7 2m3 3m19-34" class="mcy"/><path d="M554 886m13-2m160-6m8-1m28-9m5 2m45 12" class="mc3"/><path d="M539 856m9 31m3-1m2-16m11 2m20-11m7 5m0 18m4-1m0-9m26-17m1 7m9-6m5-9m2-1m2 35m16-6m3 3m1-29m8-6m2 26m13-26m32 20m29 0m14-11m13 6m20 19m0-34m8 17m13 3m15-14m5 10m0-26" class="mcy"/><path d="M585 861m39 18m60-10m72 1m48-5" class="mc3"/><path d="M541 886m0-19m3 0m21-3m3 13m1-18m4 4m0-4m0 23m18-14m2 14m2 0m12-34m4 11m13 1m28 19m0-29m16 23m2 10m14-43m12 32m8 2m0 10m8-40m3 25m4-15m35-9m6 22m4 5m4 12m14-8m14-7m14-32m21 48m11-30" class="mcy"/><path d="M564 885m69 1m2-5m155 0m13-5m34 7" class="mc3"/><path d="M519 860m5-2m21 16m3-12m8-8m30 30m7-12m4 1m7-3m18 13m7-8m18 8m8-22m5-4m1 4m1 14m36 8m1-4m2 0m15-18m1-1m6-11m29 2m10 15m36-25m6 19m7-8m7 22m2-32m1 2m2 8m3 1m7-9m6 5" class="mcy"/><path d="M644 869m12 14m42 4m29-30m47 21m32 7m32-1" class="mc3"/><path d="M519 870m1 5m1-8m15 17m6-21m2 7m0 12m1-20m16-6m2 10m18 7m0 0m23 0m3 8m15-21m6 4m1-15m3 29m21-52m18 36m12-25m21 9m11 19m7 13m4-12m12 19m1-23m2 0m9-22m13 14m19 32m31-51m7 24" class="mcy"/><path d="M575 879m67-2m17-9m55 13m37 3" class="mc3"/><path d="M525 858m4 0m7 15m5 2m10-14m22-3m12 24m4-14m21 8m15-22m5 0m14 8m3-16m5 26m26-29m3 24m0-13m1-10m2-11m16 34m5-59m4 8m4 36m12 3m7 17m26-4m2 2m6-22m17 27m5-25m18 27m2-30m5-10m3 38m8-26" class="mcy"/><path d="M558 883m86 2m18-3m15-19m28 20m29-5m22-14m20 20m10 1m4 1m27-37m10 30" class="mc3"/><path d="M536 871m7-21m7 12m3 10m2-11m4 9m7 1m1-8m17 12m2-15m10 19m8-27m8 13m3-4m41 5m17 6m5-29m8 29m2-10m31-19m4 14m21-14m1 41m2-26m15-5m1 22m20-2m56-16" class="mcy"/><path d="M614 886m33-3m44-30m7 34m2-13m48 4m87 6" class="mc3"/><path d="M531 860m1 21m0-21m2 5m0-1m21-7m4-1m24 2m21 7m2 16m4-21m8-7m13 22m3-15m1 0m1 2m12-18m1 38m13-13m6-24m19 35m10-10m19 15m12-10m8-23m12 29m2-42m19 17m4-5m12 32m0-30m29-21m31 31" class="mcy"/><path d="M558 863m69 0m1 5m29 3m56-2m56 5m16 12" class="mc3"/><path d="M547 881m12-20m16 7m13 12m3-2m0 3m2-6m5-3m15-14m7 14m2-9m1-9m39 9m5 3m5-16m14-12m1 19m16 14m10-53m11 16m2 48m21-27m10 20m2-29m8 6m7 3m13-10m8-1m18 20m4-17m3 1m9 34m4-18" class="mcy"/><path d="M546 886m83-3m186-1" class="mc3"/><path d="M520 867m5 9m23 0m10-5m2-8m5 5m5-11m1 0m8 21m4-4m33-14m12 3m12 14m4-20m5 24m9-17m11 5m8-28m12 8m9 37m4-35m7-3m16 19m3-2m13-19m9 4m10 25m5-23m6-2m13 9m7 0m2-9m13 4m5 13m11 6m11-18m6 18" class="mcy"/><path d="M532 878m50 7m33-4m42 6m3-1m9-7m16-6m52 12m40-18m23-10" class="mc3"/><path d="M531 872m7-3m10 5m25-14m0 6m0 17m17-17m27 3m15-16m4 19m4-12m51-4m5-11m4 5m6 12m8-16m7 39m11-1m2-30m7 8m22 11m20 4m1 4m1-1m3-17m1-20m24-12m2 17m20-1m7-3" class="mcy"/><path d="M580 862m42 4m55-20m35 37m5 4m32-21" class="mc3"/><path d="M533 865m1 4m6 7m0-11m2 15m6-2m0 1m4-1m2 7m22-25m3 17m14-2m8-8m1 0m30-11m0-8m9-38m11 76m4-22m27 14m39-6m17-33m12 7m8 8m1-5m1 19m15 4m6-14m12-21m0 13m6-18m40 10m0 0m2 13" class="mcy"/><path d="M563 876m68 9m8-13m10-9m14-12m42 36m31-10" class="mc3"/><path d="M522 872m7 5m11-7m17 12m7-15m3-8m1 2m11 9m11-5m20-15m30 0m5 26m6 1m3-5m2-21m17-17m12-1m0 18m12-1m5-11m5 8m10 12m33 23m4 3m1-36m27 5m3 1m2 17m1-3m20-10m2 16m29-7m1-14" class="mcy"/><path d="M546 886m79-11m15 12m186 0" class="mc3"/><path d="M525 881m1 5m16-27m0 20m3-18m10 4m5-10m0 23m13-1m10-5m14-5m3 20m23-8m1-12m0 2m13 8m2-14m37-35m29 31m10 23m4-10m5-14m8 25m4-6m19-26m9 6m11 23m8-34m9-3m3-5m13 13m15 23m5-6m1-6m5 15m9-25" class="mcy"/><path d="M533 883m16 4m44-8m97-11m10 17m135 0" class="mc3"/><path d="M536 863m13 18m9 4m13-25m44 4m10 16m1 1m25-60m0 59m13-38m3 34m2-32m4 26m3-7m1-4m5 19m1 9m0-37m15 5m11-24m14-5m4 34m21 9m6 18m4-22m1 0m31 4m4 10m1-16m0-25m8-4m6 22m22-9m3-4" class="mcy"/><path d="M534 884m52-17m1 10m43 9m63 0m8-18m11-1m17 15m43-1m18 1m31 4" class="mc3"/><path d="M525 863m3-7m8 20m1-21m5 28m0-10m14-12m52 0m0 11m23-20m16 30m8-29m17 3m5 15m9-28m30 1m7-2m1 34m6-25m10 33m44-12m11 5m6-20m4-14m1 44m2-34m3-5m5 10m13-22" class="mcy"/><path d="M617 876m89-7m41 15m3 2m13-15" class="mc3"/><path d="M532 882m4-17m2 9m0-20m35 27m7-3m5-9m31-15m14-1m5 32m3-41m4 10m4 2m87-10m30 37m9-31m2-7m24-35m7 49m14 8" class="mcy"/><path d="M661 859m16-57m3 60m7-52m0-10m1 1" class="mgr"/><path d="M677 867m4-14m5-7m2-38m0-3m0 31" class="mgr"/><path d="M655 835m23-20m7 36m2-17m1-27m2 25" class="mgr"/><path d="M681 849m0-17m1 5m5 2m1-24m1 48" class="mgr"/><path d="M687 802m3 57" class="mgr"/><path d="M669 822m1 1m0 5m10 0m0-4m3 0" class="mye"/><path d="M677 829m4-4" class="mye"/><path d="M661 811m0 0" class="mor"/><path d="M665 809m0 0" class="mre"/></g>
<path d="M333.0 396.2l1.7 1.7-1.7 1.7-1.7-1.7z" fill="#9a1de0" stroke="#6a10a0" stroke-width="0.3"/>
<rect x="309.0" y="399.4" width="23.6" height="5.2" rx="0.6" fill="#fff" stroke="#555" stroke-width="0.5"/>
<text x="320.8" y="403.5" text-anchor="middle" class="ll">rs3769885</text>
<text class="rb" x="245.6" y="305.7" font-size="10.3">(C)</text>
<text class="rb" x="341.3" y="315.7" font-size="7.2" text-anchor="middle" textLength="68.8" lengthAdjust="spacingAndGlyphs">COBLL1 in Nerve Tibial</text>
<text class="rb" x="340.9" y="385.6" font-size="7.2" text-anchor="middle" textLength="15.5" lengthAdjust="spacingAndGlyphs">GDM</text>
<rect x="249.5" y="319.7" width="184.1" height="55.6" class="fr"/>
<path d="M249.5 372.6h-1.5M249.5 358.6h-1.5M249.5 344.5h-1.5M249.5 330.5h-1.5M433.6 372.8h1.5M433.6 360.1h1.5M433.6 347.4h1.5M433.6 334.6h1.5M433.6 321.9h1.5" class="tk"/>
<g class="tl" text-anchor="end">
<text x="247.3" y="374.5">0.0</text>
<text x="247.3" y="360.5">2.5</text>
<text x="247.3" y="346.4">5.0</text>
<text x="247.3" y="332.4">7.5</text>
</g><g class="tl">
<text x="435.8" y="374.7">0</text>
<text x="435.8" y="362.0">25</text>
<text x="435.8" y="349.2">50</text>
<text x="435.8" y="336.5">75</text>
<text x="435.8" y="323.8">100</text>
</g>
<text class="yl" transform="translate(235.1 347.5) rotate(-90)" text-anchor="middle">&#8722;log<tspan font-size="3.6" dy="1.2">10</tspan><tspan dy="-1.2">(</tspan><tspan font-style="italic">p</tspan>)</text>
<text class="yl" transform="translate(447.6 347.5) rotate(90)" text-anchor="middle" textLength="36.4" lengthAdjust="spacingAndGlyphs">Recomb. rate</text>
<rect x="249.5" y="390.4" width="184.1" height="55.1" class="fr"/>
<path d="M249.5 443.5h-1.5M249.5 425.4h-1.5M249.5 407.2h-1.5M433.6 443.5h1.5M433.6 430.8h1.5M433.6 418.1h1.5M433.6 405.3h1.5M433.6 392.6h1.5" class="tk"/>
<g class="tl" text-anchor="end">
<text x="247.3" y="445.4">0</text>
<text x="247.3" y="427.2">2</text>
<text x="247.3" y="409.1">4</text>
</g><g class="tl">
<text x="435.8" y="445.4">0</text>
<text x="435.8" y="432.7">25</text>
<text x="435.8" y="419.9">50</text>
<text x="435.8" y="407.2">75</text>
<text x="435.8" y="394.5">100</text>
</g>
<text class="yl" transform="translate(235.1 417.9) rotate(-90)" text-anchor="middle">&#8722;log<tspan font-size="3.6" dy="1.2">10</tspan><tspan dy="-1.2">(</tspan><tspan font-style="italic">p</tspan>)</text>
<text class="yl" transform="translate(447.6 417.9) rotate(90)" text-anchor="middle" textLength="36.4" lengthAdjust="spacingAndGlyphs">Recomb. rate</text>
<rect x="249.5" y="448.0" width="184.1" height="17.6" class="fr"/>
<g class="xt" text-anchor="middle">
<text x="285.4" y="471.9">165000000</text>
<text x="325.6" y="471.9">165500000</text>
<text x="365.8" y="471.9">166000000</text>
<text x="406.0" y="471.9">166500000</text>
</g>
<path d="M285.4 465.6v1.6M325.6 465.6v1.6M365.8 465.6v1.6M406.0 465.6v1.6" class="tk"/>
<text class="xl" x="341.5" y="480.6" text-anchor="middle" textLength="72" lengthAdjust="spacingAndGlyphs">Position on chromosome 2</text>
<rect x="261.2" y="483.7" width="159.9" height="11.0" class="lg"/>
<text x="263.0" y="490.9" class="lt">r2</text>
<circle cx="272.7" cy="489.2" r="1.2" fill="none" stroke="#777" stroke-width="0.5"/>
<text x="277.8" y="490.9" class="lt">miss</text>
<circle cx="293.3" cy="489.2" r="1.35" fill="#74e6dc" stroke="#555" stroke-width="0.35"/>
<text x="298.4" y="490.9" class="lt">0.0−0.2</text>
<circle cx="319.6" cy="489.2" r="1.35" fill="#62d43c" stroke="#555" stroke-width="0.35"/>
<text x="324.9" y="490.9" class="lt">0.2−0.4</text>
<circle cx="346.3" cy="489.2" r="1.35" fill="#e3c11e" stroke="#555" stroke-width="0.35"/>
<text x="351.1" y="490.9" class="lt">0.4−0.6</text>
<circle cx="372.4" cy="489.2" r="1.35" fill="#e58a2e" stroke="#555" stroke-width="0.35"/>
<text x="377.8" y="490.9" class="lt">0.6−0.8</text>
<circle cx="398.9" cy="489.2" r="1.35" fill="#c8341c" stroke="#555" stroke-width="0.35"/>
<text x="404.1" y="490.9" class="lt">0.8−1.0</text>
<g class="gc" font-size="4.2" text-anchor="middle">
<text x="318.5" y="454.4">GRB14</text>
<path d="M313.5 454.9H323.5" stroke="#4848c8" stroke-width="0.85"/>
<text x="333.8" y="460.1">COBLL1</text>
<path d="M326.1 461.1H341.5" stroke="#4848c8" stroke-width="0.85"/>
<text x="348.4" y="454.4">SLC38A11</text>
<path d="M345.5 454.9H350.5" stroke="#4848c8" stroke-width="0.85"/>
<text x="366.1" y="460.1">SCN3A</text>
<path d="M360.5 461.1H372.6" stroke="#4848c8" stroke-width="0.85"/>
<text x="379.8" y="454.4">SCN2A</text>
<path d="M373.5 454.9H385.6" stroke="#4848c8" stroke-width="0.85"/>
<text x="401.0" y="460.1">CSRNP3</text>
<path d="M392.5 461.1H409.5" stroke="#4848c8" stroke-width="0.85"/>
<text x="416.5" y="454.4">GALNT3</text>
<path d="M414.5 454.9H419.5" stroke="#4848c8" stroke-width="0.85"/>
<text x="424.9" y="460.1">TTC21B</text>
<path d="M422.5 461.1H425.0" stroke="#4848c8" stroke-width="0.85"/>
</g>
<path d="M489.5 364.0V360.0M655.3 364.0V351.0" fill="none" stroke="#9cc8f2" stroke-width="0.7"/>
<g transform="scale(0.5)"><path d="M989 708m15 19m11-13m7 6m4 0m0 4m56-2m3-2m11-6m26 13m21 1m18-8m3-7m8 5m2-2m13 12m5-24m26 16m24 6m6-8m15 4m24 3m8-3" class="mc3"/><path d="M1038 705m4 12m18-4m4-6m0-2m29-10m30 14m10-8m45 10m19 3m42-9m6-11m19 9m20-10m7-2m2 12m15-17" class="mcy"/><path d="M995 703m1 18m51 4m5 2m13-11m16 8m13 4m6-6m20-4m8 4m9 1m33-7m40-1m20 2m9-1m11 12m10-1m3-14m10 15" class="mc3"/><path d="M987 699m11 6m24-7m13 17m24-7m38-4m44-17m17 14m31 17m2-20m1 5m3-5m23 15m6-9m6 11m5-4m18-2m18-11m9 7m24 5m5-11" class="mcy"/><path d="M982 707m8-3m28 21m32-9m1 10m8 2m2-9m22-9m42 13m43 4m5-1m1-13m12 4m28-15m6 16m48 0m7 10m14-1m14-3m2 3" class="mc3"/><path d="M983 685m1 10m31 10m13 21m34 0m13-19m3 1m48-13m21 4m1 1m15 6m9-9m25 21m2-5m18-9m10 2m13 4m4 1m21-15m33-9" class="mcy"/><path d="M983 713m34 12m3 3m4 0m1-7m14 0m16-5m18 9m11 3m11-7m1 0m5-42m12 39m2-29m8 35m0-13m16 5m12-2m28-9m29 16m2-15m70 19" class="mc3"/><path d="M982 690m4 29m12-15m11-16m5 18m13 6m45 1m0-1m29-13m49 11m14 10m31-17m23 3m13 5m10-7m21-9m10 28m34-23" class="mcy"/><path d="M1062 718m12-10m48 1m22 16m22-10m9 11m40 2m5-8m32 7m25-1m11-1m6-21" class="mc3"/><path d="M983 692m1 16m13 1m2-12m8-5m7 7m2 6m12 9m19-4m4 11m8-7m13-5m21 10m6-16m27 6m10-10m13 18m26 6m17-24m1-18m7 30m23 3m6 0m1 5m35-9m5-15m9 7m10 14" class="mcy"/><path d="M985 712m53 10m37 2m15 0m32-12m33 12m16-11m16 10m2-12m1-2m33 7m12 9m19-1m1-2m18 6m2-26m2 23m2-1m7 3" class="mc3"/><path d="M1044 710m5 4m7 8m16-12m1-5m0 11m12-1m43-14m33 8m0 3m9 6m3-7m3 13m8-6m6-8m5-2m50 11m4-10m13 1m1 5m32-17" class="mcy"/><path d="M1004 720m21 6m22 0m32-8m12 8m5 1m28-2m15 2m8-1m1 1m31-4m4 1m14-13m65-4m2 0m3 8m18-3m4 1m17 7" class="mc3"/><path d="M983 675m7-6m17 53m3-2m4-19m16 9m12-2m43 0m13-18m27 10m13-7m7 31m35-3m1-12m5-5m42 11m12-12m32 4m13-13m11 8m2 11" class="mcy"/><path d="M996 720m27-3m7 7m46 4m13-3m26 3m39-5m2 1m7-16m6 17m3 1m6-16m3 7m5-4m5 7m22 0m31-2m7 3m4-4" class="mc3"/><path d="M995 711m2-2m8 3m16 1m10 4m8-2m4-9m5 16m4-12m6 12m1-4m6-3m22-3m4 8m28 3m18-7m16-12m52 12m64-11m20-14m19 30" class="mcy"/><path d="M1000 716m25 7m0 5m34-5m28-5m6 2m6 7m25-1m2-3m12 1m27-2m26 2m16-5m30 2m1-4m3-5m14 11m9-13m1-4m5-7m10 21m4 7m2-13" class="mc3"/><path d="M982 684m8-11m15 26m16 15m12-7m8 6m61-21m20 18m90 0m8-1m4-6m43 16m20-9m1-23m8 5m7 3m1 29" class="mcy"/><path d="M996 717m27-5m0 8m26 6m13-7m16-5m39 10m59 3m2-8m2 6m3 0m9-15m19 15m18-13m5 2m48 0m23 13" class="mc3"/><path d="M985 709m9-2m1-18m16 1m42 17m4 3m13-8m26 4m21-23m32 28m33-1m5 6m5-12m13 10m20 1m6-13m2 0m17 17m23-17m16-14m8-1m3 18m6 10" class="mcy"/><path d="M985 684m2 44m11-31m13 26m18 3m7-1m0-3m26-10m8 14m6 0m24-11m2 1m11 0m34 11m13 0m9 1m2-14m1 11m84-2m1-1m3-6m13 10" class="mc3"/><path d="M982 703m26-4m33 20m4-3m59-26m13 6m5 14m10 17m2-29m15 5m34 1m29-3m4 18m5-20m45-9m8-13m19 43m3-22" class="mcy"/><path d="M991 720m20 6m9 0m6-9m12 9m39 2m6-9m24 8m33-2m5-18m66 16m25-13m12 15m4 3m7-10m10-10m24-7" class="mc3"/><path d="M983 709m52 3m19 13m15-3m10 4m4-10m20-48m6 9m3 0m4 23m4 12m1 3m19-23m7 12m1 6m36-3m27 0m24 16m10-21m9 4m7-5m34 4m13-5" class="mcy"/><path d="M1015 727m18-10m29 10m8-2m16 2m25-16m0 2m35 8m39-2m5-6m23 0m28 14m10-8m7 9m3-6m3-1" class="mc3"/><path d="M990 680m5 45m2-55m8 21m15 26m19-10m26 1m14-4m3-1m19-5m11-18m26 28m18 1m4-3m26-4m3 3m13-3m17 15m0-18m18 3m15 10m20-2m17 5m17-16" class="mcy"/><path d="M991 719m9 6m40-12m8 7m45 8m90-19m1 17m35-10m14-7m24-1m11 1m11 17" class="mc3"/><path d="M984 678m5 43m28-3m16-8m3-2m26 20m32-14m2-2m10-31m1 28m24-21m47 34m17-6m6-7m11 8m2-4m1-4m19-5m13 7m0-7m7-3m4 3m1 16m4-23m1 6m24 6m1 7m9-29" class="mcy"/><path d="M1006 708m2 13m9-2m26 9m25-14m16 3m8 6m4 0m1-4m61 7m12 1m7-12m1 13m10-11m0 5m14 5m17-12m6-4m10 17m4-13m23-11m6 15m22 0" class="mc3"/><path d="M1016 706m53-4m11 14m14-7m26-12m10 4m2 9m18 12m35-19m22 4m26 5m2 14m3-23m7 8m10-6m25-1m17-3" class="mcy"/><path d="M1005 716m16 11m3 0m17-10m11 5m3 6m4-1m9-8m61 3m41 6m9-9m11 3m54-1m7 4m27-15m14 4" class="mc3"/><path d="M986 681m3-17m10 1m8 30m5 6m4 18m7-11m5 8m12-6m28-5m3 9m8 1m18-14m12-31m32 24m14 16m4-11m8-3m19 24m10-19m71-9m9 17m5 14m16-33" class="mcy"/><path d="M983 714m21 13m11 1m0 0m38-6m48 6m10-5m17-2m0 1m18 6m12 0m4-26m22 22m23-2m17 6m9-10m65 10m11-16" class="mc3"/><path d="M982 704m45 13m8-3m18-1m4 14m7-18m8 3m5-6m0-9m6 16m1-9m35-5m28 6m15-4m3 25m0-29m8 5m19 6m58 17m18-5m23-31m14 11" class="mcy"/><path d="M1092 727m2-9m9 7m8-1m4-21m14 11m102 1m18 1m7 8m4-2m4-1m28 4" class="mc3"/><path d="M981 719m2-42m28 31m5 9m3-11m2 13m4-6m0-4m7 3m16 3m5-4m15 17m1-17m3 1m19-1m12-38m7 5m8 46m1-33m4 20m30 0m22 12m3-15m9-8m47 24m23-25m11-6m38 24" class="mcy"/><path d="M981 726m9-7m35-2m3 9m45-10m7 7m7-1m45-10m0-3m6 19m13-7m13-1m8-1m24 8m18 1m19-18m54 2m6 7m2 5" class="mc3"/><path d="M983 706m10-26m1 12m5 9m20 19m3 0m28-4m15-14m13 3m5-2m18 1m37 13m11-12m45-5m37 11m16-1m10-14m7 22m14-17m23-3m0 13" class="mcy"/><path d="M992 707m14 20m11-1m2-6m2 5m13 0m15 0m3-2m1-1m30 2m16-16m1-2m17 10m1-15m10 21m4-22m35 23m8-4m6-1m15-2m22 1m17 11m33-11m10-13m2 6m3-7m6-10m9 34m3-4" class="mc3"/><path d="M1061 707m13 8m9 6m21-44m31 16m20 17m18-8m20-2m16 22m26-28m62-2" class="mcy"/><path d="M992 688m11 26m10 0m14 6m72 3m10-13m7 5m8-1m2-19m5 24m17-6m9-7m1 18m0 1m4 2m1-19m16 13m5-14m0 21m22-1m16-7m9 1m49-6" class="mc3"/><path d="M988 713m21-19m24 33m9-18m36-2m17 11m4-6m1-23m58 15m11 2m11 13m3-13m7 4m43 4m53-17m10-1m3 5" class="mcy"/><path d="M986 724m9-4m18 5m7-10m4 10m18 2m1 0m26-8m6 7m13-9m6 11m2-2m6-23m56 18m14 5m19-21m50 11m4-2m16 10m17-7" class="mc3"/><path d="M990 674m5 54m69-20m7-5m59-11m4 32m12-31m0 6m15 12m28 14m12-16m17-9m7 23m3-15m13-2m6 12m11-25m7 23m5-28m16 4" class="mcy"/><path d="M1010 700m0 25m23-15m16 15m0 1m6-5m19 0m5-10m3 3m1 12m9 1m20-27m24 13m41 12m3 2m42-23m4 22m4 1m25-1m1-12m13-2" class="mc3"/><path d="M987 713m13-20m13 1m33 17m13 3m15-8m30-28m31 19m81 12m0-2m2 8m20 1m22-18m5-5m12 12m6 7m2-22m12 24m4-10" class="mcy"/><path d="M989 726m9-28m0 27m2-5m35-3m19 5m9-6m5-7m28 18m6-2m7-36m56 35m2-8m57 10m61 0m10 0m6-1" class="mc3"/><path d="M985 703m8-14m19 21m22-3m5 13m6-7m1 0m1-10m6 20m12-20m75 3m11 18m22-19m14-5m4 20m24-9m20 5m37-5m22-3m5 8m1 4m4-24m0 27" class="mcy"/><path d="M1088 728m29-15m33 11m7 1m41-8m4 2m26 1m9-2m62-10" class="mc3"/><path d="M984 698m26 24m12-14m7 8m16 5m16 1m4-25m77 20m76-13m9 3m12 15m33-3" class="mcy"/><path d="M1131 702m14-3m17-8m1-5m17 4m28 2" class="mgr"/><path d="M1137 699m2-19m11 3m16 9m4-4m25 8" class="mgr"/><path d="M1139 700m7-21m66 18m5-5m5 4m0-4" class="mgr"/><path d="M1129 695m7-1m3 0m6 2m11-18m27 15" class="mgr"/><path d="M1131 693m9-14m11-1m2 11m27-4m26 6" class="mgr"/><path d="M1138 700m16-23m5 12m3-2m1 4m39 4" class="mgr"/><path d="M1131 700m19-14m18 4m8 4m11 2m2-3" class="mgr"/><path d="M1129 699m14-21m5 13m2 11m17-16m32 6" class="mgr"/><path d="M1140 699m39-3" class="mgr"/><path d="M1149 681m6-3m2 3" class="mdk"/><path d="M1138 669m1-3m6 4" class="mye"/><path d="M1149 678m2 4" class="mdk"/><path d="M1135 669m0 0" class="mye"/><path d="M1156 679m0 0" class="mdk"/><path d="M1135 668m0 0" class="mye"/><path d="M1136 682m18-2m2-1" class="mdk"/><path d="M1133 668m6 4" class="mye"/><path d="M1136 681m14 0" class="mdk"/><path d="M1136 667m6 0m3 1m0 3m2-1" class="mye"/><path d="M1148 681m0 0" class="mdk"/><path d="M1161 665m1 7m0-3" class="mor"/><path d="M1136 657m24 0m1 4" class="mre"/></g>
<path d="M579.2 323.9l1.7 1.7-1.7 1.7-1.7-1.7z" fill="#9a1de0" stroke="#6a10a0" stroke-width="0.3"/>
<text x="579.3" y="324.7" text-anchor="middle" class="ll">rs1260326</text>
<path d="M490.3 425.2V421.0M511.4 425.2V408.9M649.5 425.2V409.0M655.4 425.2V411.3" fill="none" stroke="#9cc8f2" stroke-width="0.7"/>
<g transform="scale(0.5)"><path d="M1013 842m5 7m48-5m24 5m2-6m57 3m16 4m5 0m14-1m15 0m0 0m48-2m4-1m31 2m1 1m21-1m2-4" class="mc3"/><path d="M1015 845m18-6m3 6m4 3m24-8m2 7m15-7m4 1m19-3m11 2m0 6m25-6m36-7m3 15m10-3m24-1m17-11m8 10m11-6m4 9m28 0m8-8m1 11" class="mcy"/><path d="M987 850m16-7m4 7m19-1m2 0m4 0m46 1m15-5m17 4m13-1m12 2m20-4m7 3m24-10m19-1m4 10m16 2m25 0" class="mc3"/><path d="M997 848m8-5m21 2m2-1m5 1m41-4m0 5m1-2m33-6m14 4m37 2m14-12m10 13m18-2m14-11m3-10m9 9m0 10m5-10m34 6m3-1m23 2" class="mcy"/><path d="M982 849m12 1m2 0m18-3m13 3m24-1m4 1m11 0m17-8m40 7m1 0m32-2m2 1m32 2m44-15m16 10m13 4m8-8m18 8" class="mc3"/><path d="M993 842m21 7m19-2m9-4m5-3m2-1m9 2m8 9m12-4m5-1m24-10m15 11m4 4m17-16m38 5m3 3m53 4m21-16m2 2m4 8m17-2" class="mcy"/><path d="M995 849m26-5m9 2m19 0m42 3m32-5m6-3m14-1m4 10m6 0m23-6m42 1m1 4m10-4m8 3m20-6m12 0m15 4m18 3" class="mc3"/><path d="M992 849m28-9m37 4m25-7m23 1m3 3m20-6m25 14m15-11m8 4m19 1m5 4m10-16m12 13m15 2m15-3m26-6m12 8m5 4m2-8m1 6" class="mcy"/><path d="M992 850m57 0m9-7m51 5m15 1m15-1m36-4m43 6m6-13m32 13m23-5m9-9m9 14m5-2" class="mc3"/><path d="M1002 848m15 0m11 1m19-9m47 1m1 3m18-4m1 2m1-7m1 3m26 5m15-10m3 6m6 6m43-6m12-10m1 9m1-2m6-1m12 8m6-12m4 6m20 3m5-6m1 1m7 5" class="mcy"/><path d="M981 846m9 0m27 2m2 0m1 0m7-4m22 2m9 1m6-4m4-3m11 9m50 0m53-2m2 3m5 0m3-9m38-1m11 6m34 1m31-7" class="mc3"/><path d="M1008 845m15 5m8-10m2 2m3-1m5 2m9 2m8 3m24-10m3 1m45-5m40-1m13 13m5-14m16 1m2-9m13 14m4-7m15 1m64 14" class="mcy"/><path d="M988 849m35-1m36 1m47-5m22 1m12-2m1-2m0-2m42 9m3-5m1-2m17 9m9-2m28-8m3 8m18 1m30 1" class="mc3"/><path d="M996 844m20 1m1-3m17-2m57 4m32-2m11 7m3-18m0 12m28-14m1 7m8-5m21 8m6 1m2-8m8 5m2 0m9-1m14-3m7-2m1 2m4 6m28-3" class="mcy"/><path d="M985 849m15 1m1 0m37 0m34-9m29 5m5 3m20-12m46 11m16-2m30-1m19 4m18-5m5 6m15-6m30 4" class="mc3"/><path d="M982 844m2 5m11-7m8-2m24 7m17-5m27 2m33 4m1-8m34-10m7 10m11-7m5 11m11-13m11 2m7 5m5-3m29-4m6 10m8-1m38 3m8-4m3 5m9-4" class="mcy"/><path d="M995 850m17-1m0-1m7 0m5-1m34 3m4-5m18 4m9 1m49-10m7 1m5-4m1 3m5 1m22 8m23-1m15 0m1-2m32 3" class="mc3"/><path d="M989 849m14-8m83-3m1 2m0-3m12-2m1 2m26-5m10 11m2 7m4-18m0 3m0-3m8 13m48-10m30 13m1-9m30 3m23 7m4-16m11 11" class="mcy"/><path d="M992 847m15 3m1-2m1 2m20-5m6 4m68 0m5 1m3-8m4 7m37 0m59-2m30-2m22 1m1 1m16 2m4-2m2-7m2 9m19-1" class="mc3"/><path d="M1004 836m29 3m13 3m34 6m12-4m18-1m14 3m4-9m13 4m3 6m2 0m12-31m29 32m25-22m25 13m11-7m3 2m37 2m1 1m13 7" class="mcy"/><path d="M981 849m5-5m10 2m3-2m27 3m61 0m2-4m14 7m30-1m5 1m57-8m38 8m23-3m11-4m17 6m12-7" class="mc3"/><path d="M999 844m1-3m3 9m43-7m11 5m10-5m3-12m8 18m10-10m9-2m25-4m11 8m18-2m6 4m5-9m28 5m10-16m19 13m31 8m15-3m3 1m2 5m30 1m7-1" class="mcy"/><path d="M1018 846m4 2m1 1m7 1m22-6m16 3m25 2m14 0m1-4m6 3m8-4m56 2m35-3m4-2m9 7m39-3m37 5" class="mc3"/><path d="M983 843m29-1m19-1m12 0m29 0m11-4m28 3m8 7m20-11m12 2m37-5m9 13m4-4m1-2m1-5m5 9m6-9m7 2m2 0m31 3m5-7m8 7m11-8" class="mcy"/><path d="M988 849m16-1m4-1m10-2m20 3m1-1m33 0m1-4m24 1m77 5m0-4m17 0m2-8m57-4m14 14m25-1m8 3m1-3" class="mc3"/><path d="M1000 840m20 0m11 1m8 5m10-4m9-3m10 8m41-7m10 4m17-6m3 11m11-12m1 12m10-7m2-3m32-3m10 6m7 0m12-3m14-4m22 4m36 6" class="mcy"/><path d="M997 844m1 6m16-3m43-1m45-4m2 5m26 3m33-12m36 6m1 6m2-3m4-1m13-3m10 2m1-10m26 14" class="mc3"/><path d="M993 847m3-6m46 8m26-7m48-4m4-4m10 13m5-13m10 0m17 2m2 5m19-4m4-4m9 14m46-1m1-14m7-1m2 2m13 2m1 14m1-8m18-2m10 6m12-7" class="mcy"/><path d="M1004 849m25 1m6-2m28 2m18-5m47 0m6 5m3-4m4 3m5-7m2-7m7 12m3 3m1-8m6 1m8-4m40 9m0-2" class="mc3"/><path d="M995 846m12 0m32 4m3-9m6 2m3 3m6-8m2 5m23-2m6-2m5 3m5 3m12-9m6-1m25-3m5 4m0-5m8 6m9-3m11 6m18 6m40-10" class="mcy"/><path d="M995 848m2 2m19 0m4-4m43 2m2 2m3-8m13 6m3-1m7-4m18 7m48-8m23 5m8 3m30-12m14 9m52 3m2-3m5-4m4 7" class="mc3"/><path d="M995 844m19-2m3 4m0-6m74 5m12-7m36-5m11 2m19-4m30 8m22-13m5 17m30-8m7 7m0-4m7 5m3 3m6-11m3 9m22-3" class="mcy"/><path d="M1000 849m4-5m20 4m2-1m21 3m29-1m30 1m59-3m10 1m23-2m13-7m0 8m7 1m8-10m35 11m23 0m14 1m9-5" class="mc3"/><path d="M989 849m12-1m11-5m1 0m21-3m22 2m6-3m2 2m3 1m7-1m6-3m6 0m32-5m38 7m12-3m72 6m38-8m1 5m17 1m0 1m3-4m5 0" class="mcy"/><path d="M998 848m18-3m20 5m32-3m40 0m1-9m14 0m17 9m17-7m5 9m19 1m6-3m24-2m3-5m1 5m8 3m25-4m13 6m23-3m17 2m4-6" class="mc3"/><path d="M996 843m48 4m20-5m12 4m8-7m23 6m10-6m4 0m18-4m5-2m43 0m9 8m5-1m35 5m1 1m31-11m19 5m4 0m10-2" class="mcy"/><path d="M981 847m18 0m45-3m7 5m52-2m13 3m39-2m12 1m11-5m2 4m22-4m2 5m4-1m6-2m13-8m19 8m4-2m14 5m32 1" class="mc3"/><path d="M996 848m35-8m3-1m13 7m24-5m18-1m7 0m20-6m16 3m43-1m0 7m41-3m2-2m20 9m14-15m6 6m9-2m13-5m0 1m19 17m1-11" class="mcy"/><path d="M982 850m8 0m17 0m4 0m4-9m21 8m10-7m42 6m1-8m2 8m14-10m27 7m12-5m16 9m60-3m18 2m6 1m8-6m34 7" class="mc3"/><path d="M991 845m6-2m11 0m1-1m20 2m22-2m19 2m5 0m2-1m1-5m4 3m18-2m32-2m6-6m8 14m11-1m0 3m49-10m3 8m17-6m62-1" class="mcy"/><path d="M998 850m1-2m18-4m2 2m23 1m17 2m78 0m39 1m7-9m44 8m43-10m0 7m20 2m13 1" class="mc3"/><path d="M987 846m4-2m13-3m13-1m38 2m5 4m9 4m6-6m2-1m14-3m8-3m0 9m5 1m23-11m7-2m11 7m9-2m40-9m0 6m8-3m14 0m32 4m13-2m29 9m3-2m10-1" class="mcy"/><path d="M981 848m64 0m40-7m27 7m16-9m26 10m8-12m8-9m2 13m8 8m9 1m4-9m20-3m26 11m15-3m21-8m8 2m14 10m2 0m2 0" class="mc3"/><path d="M987 844m17 2m13-5m11 5m1 1m29 2m28-1m6-7m4 5m3-9m38 6m3-12m8 2m3 10m10 2m14-7m27-5m15 17m28-14m57 13" class="mcy"/><path d="M987 847m3 1m15-1m2 3m4-2m50 1m3 1m10-2m0 1m73-4m19-16m2 15m34 6m23 0m13-9m43 7m4 0m11 2m10 0" class="mc3"/><path d="M1005 841m19 0m2 0m3 0m9 6m3-6m16-1m3 1m2 0m29 7m7-10m2-1m57 11m39-27m24 10m9 4m3 0m1 7m38 2m3-9m2 11" class="mcy"/><path d="M1001 845m13 4m43 1m19-3m83 3m3 0m3-2m27 2m12-2m2-5m4 4m17 0m3-1m15-4m6 8m7-14m0 10m6 2m34 1m3-2" class="mc3"/><path d="M983 847m24-3m14-1m14 7m3-5m7 5m17-1m5-6m8 1m13-4m87 0m12-2m1 5m29-5m2-7m15 0m28 4m2 1m27 3m16 0" class="mcy"/><path d="M1000 845m50-1m220 2" class="mc3"/><path d="M1029 849m15-8m34-2m4 9m51-14m61 1" class="mcy"/><path d="M1159 822m11-19m8 5m19 7m1 0m15 1" class="mgr"/><path d="M1144 826m11-1m19-22m1-1m28 13m18 1" class="mgr"/><path d="M1142 819m2 2m12-2m19-16m28 10m13 3" class="mgr"/><path d="M1149 822m4 5m8-3m13-20m20 8m3 2" class="mgr"/><path d="M1146 819m0 0" class="mgr"/><path d="M1130 825m18 1m1-5m1 5m2-3m10-3" class="mdk"/><path d="M1143 825m0 0" class="mdk"/><path d="M1128 816m0 0" class="mye"/><path d="M1127 820m10 2" class="mdk"/><path d="M1131 814m3 4m9-8m4 2" class="mye"/><path d="M1132 826m6-6m3 2" class="mdk"/><path d="M1145 817m1 0" class="mye"/><path d="M1135 825m5 0" class="mdk"/><path d="M1133 813m0 0" class="mye"/><path d="M1152 824m0 0" class="mdk"/><path d="M1135 815m15 2" class="mye"/><path d="M1159 825m0 0" class="mdk"/><path d="M1159 790m2 4m2 3" class="mor"/><path d="M1137 774m23-1m3 9" class="mre"/></g>
<path d="M579.2 387.1l1.7 1.7-1.7 1.7-1.7-1.7z" fill="#9a1de0" stroke="#6a10a0" stroke-width="0.3"/>
<rect x="556.5" y="389.4" width="23.6" height="5.2" rx="0.6" fill="#fff" stroke="#555" stroke-width="0.5"/>
<text x="568.3" y="393.5" text-anchor="middle" class="ll">rs1260326</text>
<text class="rb" x="481.9" y="308.0" font-size="10.3">(D)</text>
<text class="rb" x="580.0" y="313.7" font-size="7.2" text-anchor="middle" textLength="134.3" lengthAdjust="spacingAndGlyphs">NRBP1 in Esophagus Gastroesophageal Junction</text>
<text class="rb" x="576.0" y="376.8" font-size="7.2" text-anchor="middle" textLength="15.5" lengthAdjust="spacingAndGlyphs">GDM</text>
<rect x="480.2" y="320.6" width="185.5" height="45.3" class="fr"/>
<path d="M480.2 364.0h-1.5M480.2 355.5h-1.5M480.2 347.0h-1.5M480.2 338.4h-1.5M480.2 329.9h-1.5M480.2 321.4h-1.5M665.7 363.9h1.5M665.7 353.4h1.5M665.7 342.9h1.5M665.7 332.4h1.5M665.7 321.9h1.5" class="tk"/>
<g class="tl" text-anchor="end">
<text x="478.0" y="365.9">0</text>
<text x="478.0" y="357.4">1</text>
<text x="478.0" y="348.9">2</text>
<text x="478.0" y="340.3">3</text>
<text x="478.0" y="331.8">4</text>
<text x="478.0" y="323.3">5</text>
</g><g class="tl">
<text x="667.9" y="365.8">0</text>
<text x="667.9" y="355.3">25</text>
<text x="667.9" y="344.8">50</text>
<text x="667.9" y="334.3">75</text>
<text x="667.9" y="323.8">100</text>
</g>
<text class="yl" transform="translate(467.1 343.2) rotate(-90)" text-anchor="middle">&#8722;log<tspan font-size="3.6" dy="1.2">10</tspan><tspan dy="-1.2">(</tspan><tspan font-style="italic">p</tspan>)</text>
<text class="yl" transform="translate(678.5 343.2) rotate(90)" text-anchor="middle" textLength="36.4" lengthAdjust="spacingAndGlyphs">Recomb. rate</text>
<rect x="480.2" y="381.4" width="185.5" height="45.9" class="fr"/>
<path d="M480.2 425.2h-1.5M480.2 414.6h-1.5M480.2 404.1h-1.5M480.2 393.5h-1.5M480.2 382.9h-1.5M665.7 425.0h1.5M665.7 414.5h1.5M665.7 403.9h1.5M665.7 393.4h1.5M665.7 382.9h1.5" class="tk"/>
<g class="tl" text-anchor="end">
<text x="478.0" y="427.1">0</text>
<text x="478.0" y="416.5">5</text>
<text x="478.0" y="405.9">10</text>
<text x="478.0" y="395.4">15</text>
<text x="478.0" y="384.8">20</text>
</g><g class="tl">
<text x="667.9" y="426.9">0</text>
<text x="667.9" y="416.4">25</text>
<text x="667.9" y="405.8">50</text>
<text x="667.9" y="395.3">75</text>
<text x="667.9" y="384.8">100</text>
</g>
<text class="yl" transform="translate(467.1 404.4) rotate(-90)" text-anchor="middle">&#8722;log<tspan font-size="3.6" dy="1.2">10</tspan><tspan dy="-1.2">(</tspan><tspan font-style="italic">p</tspan>)</text>
<text class="yl" transform="translate(678.5 404.4) rotate(90)" text-anchor="middle" textLength="36.4" lengthAdjust="spacingAndGlyphs">Recomb. rate</text>
<rect x="480.2" y="429.0" width="185.5" height="37.5" class="fr"/>
<g class="xt" text-anchor="middle">
<text x="520.0" y="472.1">27000000</text>
<text x="560.6" y="472.1">27500000</text>
<text x="601.1" y="472.1">28000000</text>
<text x="641.7" y="472.1">28500000</text>
</g>
<path d="M520.0 466.5v1.6M560.6 466.5v1.6M601.1 466.5v1.6M641.7 466.5v1.6" class="tk"/>
<text class="xl" x="572.9" y="481.1" text-anchor="middle" textLength="72" lengthAdjust="spacingAndGlyphs">Position on chromosome 2</text>
<rect x="493.3" y="484.4" width="159.3" height="11.1" class="lg"/>
<text x="495.1" y="491.6" class="lt">r2</text>
<circle cx="504.7" cy="489.9" r="1.2" fill="none" stroke="#777" stroke-width="0.5"/>
<text x="509.9" y="491.6" class="lt">miss</text>
<circle cx="525.3" cy="489.9" r="1.35" fill="#74e6dc" stroke="#555" stroke-width="0.35"/>
<text x="530.4" y="491.6" class="lt">0.0−0.2</text>
<circle cx="551.5" cy="489.9" r="1.35" fill="#62d43c" stroke="#555" stroke-width="0.35"/>
<text x="556.7" y="491.6" class="lt">0.2−0.4</text>
<circle cx="578.1" cy="489.9" r="1.35" fill="#e3c11e" stroke="#555" stroke-width="0.35"/>
<text x="582.9" y="491.6" class="lt">0.4−0.6</text>
<circle cx="604.1" cy="489.9" r="1.35" fill="#e58a2e" stroke="#555" stroke-width="0.35"/>
<text x="609.5" y="491.6" class="lt">0.6−0.8</text>
<circle cx="630.5" cy="489.9" r="1.35" fill="#c8341c" stroke="#555" stroke-width="0.35"/>
<text x="635.6" y="491.6" class="lt">0.8−1.0</text>
<g class="gt" font-size="3.4">
<text x="482.5" y="433.5">C2orf70</text>
<path d="M489.8 434.1h4.2" class="gb"/>
<text x="486.5" y="435.7">CENPA</text>
<path d="M489.3 436.3h2.7" class="gb"/>
<text x="491.7" y="437.9">SLC35F6</text>
<path d="M500.7 438.5h3.0" class="gb"/>
<text x="495.9" y="440.1">OST4</text>
<path d="M498.3 440.7h3.9" class="gb"/>
<text x="500.2" y="442.3">AGBL5</text>
<path d="M500.7 442.9h4.2" class="gb"/>
<text x="505.1" y="444.5">TCF23</text>
<path d="M505.8 445.1h4.4" class="gb"/>
<text x="510.1" y="446.7">ABHD1</text>
<path d="M512.3 447.3h3.6" class="gb"/>
<text x="514.4" y="448.8">TMEM214</text>
<path d="M521.1 449.4h2.4" class="gb"/>
<text x="519.0" y="451.0">EMILIN1</text>
<path d="M524.3 451.6h3.8" class="gb"/>
<text x="523.6" y="453.2">FNDC4</text>
<path d="M528.8 453.8h2.4" class="gb"/>
<text x="527.7" y="455.4">MRPL33</text>
<path d="M532.1 456.0h3.1" class="gb"/>
<text x="532.5" y="457.6">UCN</text>
<path d="M533.3 458.2h3.3" class="gb"/>
<text x="536.9" y="459.8">GAREM2</text>
<path d="M538.3 460.4h2.8" class="gb"/>
<text x="542.2" y="462.0">KHK</text>
<path d="M542.4 462.6h4.8" class="gb"/>
<text x="540.1" y="433.5">HADHA</text>
<path d="M545.3 434.1h2.7" class="gb"/>
<text x="540.9" y="436.0">FNDC4</text>
<path d="M544.3 436.6h4.4" class="gb"/>
<text x="542.1" y="438.6">CENPA</text>
<path d="M544.5 439.2h4.6" class="gb"/>
<text x="543.6" y="441.1">SLC4A1AP</text>
<path d="M549.5 441.7h3.4" class="gb"/>
<text x="545.2" y="443.6">C2orf16</text>
<path d="M547.4 444.2h4.6" class="gb"/>
<text x="545.7" y="446.2">KCNK3</text>
<path d="M546.2 446.8h3.6" class="gb"/>
<text x="547.8" y="448.7">EMILIN1</text>
<path d="M552.4 449.3h4.5" class="gb"/>
<text x="549.2" y="451.2">TRIM54</text>
<path d="M555.7 451.8h3.0" class="gb"/>
<text x="550.2" y="453.8">GPR113</text>
<path d="M554.9 454.4h2.4" class="gb"/>
<text x="553.8" y="433.5">TRIM54</text>
<path d="M555.7 434.1h4.9" class="gb"/>
<text x="554.5" y="435.9">CENPA</text>
<path d="M559.5 436.5h3.4" class="gb"/>
<text x="556.2" y="438.4">IFT172</text>
<path d="M556.8 439.0h4.6" class="gb"/>
<text x="556.6" y="440.8">CCDC121</text>
<path d="M565.6 441.4h3.0" class="gb"/>
<text x="557.6" y="443.2">C2orf70</text>
<path d="M560.2 443.9h4.4" class="gb"/>
<text x="559.2" y="445.7">MAPRE3</text>
<path d="M564.5 446.3h4.6" class="gb"/>
<text x="560.3" y="448.1">EMILIN1</text>
<path d="M563.1 448.7h4.8" class="gb"/>
<text x="561.4" y="450.6">SUPT7L</text>
<path d="M567.2 451.2h2.8" class="gb"/>
<text x="561.8" y="453.0">EIF2B4</text>
<path d="M566.8 453.6h2.4" class="gb"/>
<text x="563.1" y="455.4">FAM59B</text>
<path d="M563.4 456.0h2.3" class="gb"/>
<text x="564.6" y="457.9">RBKS</text>
<path d="M566.5 458.5h4.3" class="gb"/>
<text x="565.2" y="460.3">ABCG5</text>
<path d="M569.0 460.9h4.4" class="gb"/>
<text x="567.0" y="462.8">PPM1G</text>
<path d="M568.9 463.4h3.9" class="gb"/>
<text x="572.2" y="433.5">PREB</text>
<path d="M573.7 434.1h3.9" class="gb"/>
<text x="574.0" y="435.8">IFT172</text>
<path d="M574.6 436.4h4.5" class="gb"/>
<text x="576.2" y="438.0">DNAJC5G</text>
<path d="M584.8 438.6h2.9" class="gb"/>
<text x="577.0" y="440.2">GCKR</text>
<path d="M578.2 440.9h3.4" class="gb"/>
<text x="579.0" y="442.5">CAD</text>
<path d="M579.1 443.1h3.5" class="gb"/>
<text x="580.8" y="444.8">GCKR</text>
<path d="M582.4 445.4h4.2" class="gb"/>
<text x="582.0" y="447.0">GCKR</text>
<path d="M583.9 447.6h2.5" class="gb"/>
<text x="583.7" y="449.2">HADHB</text>
<path d="M588.6 449.9h2.9" class="gb"/>
<text x="585.9" y="451.5">IFT172</text>
<path d="M592.6 452.1h2.5" class="gb"/>
<text x="533.9" y="457.5">SNX17</text>
<path d="M537.0 458.1h2.7" class="gb"/>
<text x="535.5" y="460.1">CGREF1</text>
<path d="M536.6 460.7h4.9" class="gb"/>
<text x="538.1" y="462.8">GTF3C2</text>
<path d="M543.2 463.4h2.5" class="gb"/>
<path d="M601.3 455.2H617.7" class="gb"/>
<text x="609.5" y="454.8" text-anchor="middle">ABCG11</text>
<path d="M601.3 457.3H610.0" class="gb"/>
<text x="605.6" y="456.8" text-anchor="middle">GPR113</text>
<path d="M610.0 460.5H645.8" class="gb"/>
<text x="627.9" y="460.0" text-anchor="middle">SAEALKN</text>
<text x="648.6" y="462.4">PGK1</text>
<text x="654.0" y="433.2">PLB1</text>
</g>
<path d="M28.6 573.4V569.4M194.4 573.4V560.4" fill="none" stroke="#9cc8f2" stroke-width="0.7"/>
<g transform="scale(0.5)"><path d="M67 1127m15 19m11-13m7 6m4 0m0 4m56-2m3-2m11-6m26 13m21 1m18-8m4-7m8 4m1-1m13 12m6-24m25 16m24 6m6-8m15 3m24 4m8-3" class="mc3"/><path d="M117 1124m3 12m19-4m3-7m1-1m28-10m30 14m10-8m45 10m20 2m41-9m6-10m19 8m20-9m7-2m2 11m15-16" class="mcy"/><path d="M73 1121m1 19m52 4m5 2m12-12m16 9m13 3m6-5m20-5m8 5m9 1m33-7m40-1m20 2m9-1m12 12m9-1m3-14m10 15" class="mc3"/><path d="M65 1118m11 6m24-8m14 18m23-7m38-4m45-17m16 14m31 17m2-20m2 4m2-5m23 15m7-8m5 11m5-5m18-1m18-11m9 7m24 5m5-12" class="mcy"/><path d="M61 1126m8-3m28 21m32-10m0 11m8 2m2-9m22-10m42 14m43 4m5-1m1-13m12 4m28-15m6 16m48 0m7 9m15 0m14-3m1 3" class="mc3"/><path d="M61 1104m1 10m31 10m14 21m34 0m12-20m3 1m49-12m21 4m0 1m15 6m9-9m25 21m2-5m18-9m11 2m13 4m4 1m20-15m33-9" class="mcy"/><path d="M61 1132m34 12m4 2m3 0m2-6m14 0m15-5m19 8m10 4m12-7m0 0m5-42m13 39m1-29m8 34m0-12m16 5m13-2m27-9m29 16m2-15m70 19" class="mc3"/><path d="M60 1109m4 29m12-15m11-16m5 18m13 6m45 1m0-1m29-13m49 11m15 9m30-16m24 3m12 5m10-8m22-9m9 29m34-23" class="mcy"/><path d="M140 1137m12-10m48 1m22 16m22-11m9 12m40 2m5-9m32 8m25-1m11-1m6-21" class="mc3"/><path d="M62 1111m0 15m13 2m2-12m8-5m8 7m1 6m12 9m19-4m5 10m7-6m13-5m21 9m6-16m28 6m9-10m13 19m26 6m17-24m1-18m7 30m23 3m6 0m1 5m35-9m5-15m9 7m10 14" class="mcy"/><path d="M63 1131m53 10m37 1m15 0m32-11m34 12m16-11m16 10m1-12m2-2m32 7m13 8m18 0m2-2m17 6m3-26m1 23m2-1m7 3" class="mc3"/><path d="M123 1129m5 4m7 8m15-12m1-6m1 12m11-2m43-14m33 9m1 2m8 7m3-7m3 13m9-7m5-7m5-2m50 11m4-11m13 1m1 6m32-17" class="mcy"/><path d="M82 1138m21 7m22 0m33-8m11 8m5 1m28-2m15 2m9-1m0 1m31-4m4 1m14-14m66-3m2 0m2 7m19-2m3 0m18 8" class="mc3"/><path d="M62 1094m6-6m17 53m3-2m4-19m16 9m12-2m44 0m12-18m28 10m12-8m8 32m35-3m0-12m5-5m42 11m12-12m32 4m13-13m11 7m2 12" class="mcy"/><path d="M74 1139m27-3m7 7m46 4m13-3m26 3m39-5m2 1m7-16m6 17m3 1m7-16m3 7m4-4m5 7m23 0m30-2m7 3m5-4" class="mc3"/><path d="M73 1130m2-3m9 4m16 1m9 4m8-2m4-9m5 16m4-12m7 12m0-5m6-2m22-3m4 8m28 3m18-8m16-11m52 12m65-11m20-14m18 30" class="mcy"/><path d="M79 1135m24 7m0 5m34-6m29-4m5 2m6 7m25-1m2-3m13 1m27-2m25 2m16-5m30 2m1-4m3-5m14 11m9-13m1-4m5-7m10 21m4 6m2-12" class="mc3"/><path d="M60 1103m8-11m16 25m15 15m12-6m8 6m61-22m21 19m89 0m9-1m3-7m43 17m20-10m1-23m8 6m8 2m0 30" class="mcy"/><path d="M74 1135m27-5m0 8m26 7m13-7m16-5m39 9m59 3m2-8m2 7m3 0m10-15m18 15m19-13m4 2m48-1m23 14" class="mc3"/><path d="M63 1128m9-3m1-17m16 1m42 17m5 3m12-8m26 4m21-23m32 28m33-1m6 6m4-13m13 11m21 1m5-13m2 0m17 16m23-16m16-14m8-2m3 19m6 10" class="mcy"/><path d="M63 1103m2 43m11-30m13 25m18 4m7-1m1-4m25-9m8 14m7 0m23-11m2 1m12 0m34 10m13 1m9 0m1-13m1 11m84-3m1 0m3-6m13 10" class="mc3"/><path d="M60 1122m26-5m33 21m4-4m60-25m12 6m6 14m9 17m3-30m14 5m35 2m28-3m5 18m4-21m46-9m7-12m20 43m3-22" class="mcy"/><path d="M70 1139m19 6m10 0m6-10m12 10m38 2m6-9m24 8m34-2m4-18m66 15m25-12m12 15m4 3m7-10m10-10m24-7" class="mc3"/><path d="M61 1128m52 3m20 13m14-4m10 5m4-10m20-48m6 9m4 0m4 23m3 12m2 3m19-23m7 12m0 6m36-3m27 0m24 16m11-21m9 4m6-6m34 5m13-5" class="mcy"/><path d="M93 1145m18-9m30 9m7-1m17 2m24-16m1 2m34 7m40-1m4-6m23 0m28 14m10-9m7 9m3-6m3 0" class="mc3"/><path d="M68 1099m5 44m2-54m8 21m15 26m19-10m27 0m13-3m3-1m19-6m11-17m26 28m18 1m4-3m26-4m3 3m13-3m17 15m1-18m17 3m15 10m20-2m17 5m17-16" class="mcy"/><path d="M69 1137m9 7m40-12m9 6m44 9m90-19m1 17m35-10m15-7m23-1m12 1m11 17" class="mc3"/><path d="M62 1097m5 43m28-3m17-9m2-1m26 20m32-14m2-2m10-31m1 28m25-22m46 35m17-6m6-8m11 9m2-5m2-3m18-5m13 7m0-8m8-3m4 3m0 17m4-23m1 6m25 6m1 7m8-29" class="mcy"/><path d="M84 1127m2 12m9-2m26 9m26-14m16 4m7 6m4 0m1-5m61 7m12 2m8-12m0 13m10-12m0 6m14 4m17-11m6-4m10 16m5-12m22-11m6 15m23 0" class="mc3"/><path d="M94 1125m53-4m11 13m15-6m25-12m10 3m2 10m18 12m36-19m21 3m26 6m2 14m3-23m8 8m9-6m25-2m17-3" class="mcy"/><path d="M83 1135m16 11m3-1m17-9m11 5m3 6m4-2m9-7m61 3m41 6m9-10m11 4m54-1m8 3m26-15m14 4" class="mc3"/><path d="M64 1100m3-17m11 1m7 30m5 6m4 17m7-10m5 8m12-6m28-5m4 8m7 2m18-14m12-31m32 24m15 15m3-10m9-3m18 23m10-18m71-9m9 16m5 15m16-33" class="mcy"/><path d="M62 1133m21 13m10 0m1 0m37-5m49 6m10-5m16-2m1 1m17 6m13 0m3-26m22 21m24-1m16 6m10-10m64 10m11-16" class="mc3"/><path d="M60 1122m45 14m8-4m18 0m4 14m8-18m8 2m4-5m0-9m6 16m1-9m35-6m28 6m15-3m3 25m0-30m8 5m20 7m57 17m18-5m23-31m14 11" class="mcy"/><path d="M171 1146m1-10m9 8m8-1m4-21m14 11m102 1m19 1m6 8m4-2m4-1m29 4" class="mc3"/><path d="M59 1138m3-42m28 31m5 8m2-10m3 13m3-6m0-4m8 3m16 2m5-3m14 16m1-17m4 2m18-2m12-37m7 5m8 46m1-33m4 20m31-1m21 13m3-16m9-7m47 24m23-26m11-5m38 24" class="mcy"/><path d="M59 1145m9-7m36-2m2 9m45-10m8 6m6-1m45-10m0-2m6 19m13-7m13-1m8-1m25 8m17 1m19-18m54 2m6 7m2 4" class="mc3"/><path d="M61 1125m10-26m1 12m5 9m20 19m3-1m28-3m16-14m13 3m4-3m18 2m37 12m12-11m44-5m38 10m15-1m10-13m8 22m14-17m22-3m1 13" class="mcy"/><path d="M70 1126m14 20m12-1m1-6m2 5m14 0m14 0m3-2m1-1m30 2m17-16m0-2m17 10m2-15m10 21m4-22m34 23m8-4m6-1m15-3m22 2m17 11m33-11m10-13m2 6m4-7m6-11m9 35m3-4" class="mc3"/><path d="M139 1126m13 8m9 6m22-44m30 16m20 17m18-8m21-2m16 21m25-27m62-2" class="mcy"/><path d="M70 1107m12 26m9 0m14 6m72 3m10-13m7 5m8-1m2-20m6 25m16-6m10-7m0 18m1 1m3 2m1-19m16 13m5-14m0 21m22-2m16-6m10 1m48-6" class="mc3"/><path d="M66 1132m21-19m24 33m10-18m35-2m18 11m3-6m1-23m58 15m11 2m11 12m3-12m7 4m43 4m53-17m10-1m3 5" class="mcy"/><path d="M64 1142m9-4m19 6m7-10m3 10m19 2m0-1m26-8m6 8m13-9m6 10m2-1m6-23m56 18m14 5m19-22m50 12m4-2m16 10m17-7" class="mc3"/><path d="M69 1093m5 54m68-20m8-5m58-11m4 32m12-31m0 6m15 12m28 13m12-15m17-9m8 23m2-16m13-1m6 12m11-25m7 23m5-28m16 4" class="mcy"/><path d="M88 1119m1 24m22-14m16 15m0 0m7-4m19 0m4-10m3 2m2 13m9 1m19-27m24 13m41 12m3 2m42-23m4 22m4 1m25-1m1-12m13-2" class="mc3"/><path d="M65 1131m13-19m13 1m33 16m13 3m16-8m29-27m31 18m81 13m1-2m1 7m21 2m21-19m5-4m12 11m6 8m2-22m12 24m4-10" class="mcy"/><path d="M67 1145m9-28m0 27m2-5m35-3m20 5m8-6m5-7m28 18m6-2m7-36m56 35m2-8m57 10m62 0m9 0m6-2" class="mc3"/><path d="M63 1122m8-14m19 21m22-3m5 13m6-7m1 0m1-10m6 20m12-20m76 3m10 18m22-19m15-5m3 20m24-10m20 6m37-6m22-2m6 8m0 4m4-24m1 27" class="mcy"/><path d="M166 1147m29-15m33 10m7 2m42-8m3 2m26 1m9-3m62-10" class="mc3"/><path d="M62 1117m26 24m12-15m7 9m16 5m16 1m5-25m76 20m76-13m9 3m13 15m32-3" class="mcy"/><path d="M209 1120m14-2m18-8m0-6m17 5m28 1" class="mgr"/><path d="M216 1118m1-19m11 3m16 8m4-4m26 9" class="mgr"/><path d="M217 1118m7-20m66 18m6-5m4 3m0-3" class="mgr"/><path d="M207 1114m7-1m3 0m6 2m11-18m27 15" class="mgr"/><path d="M209 1112m10-14m10-1m2 10m27-3m26 6" class="mgr"/><path d="M216 1119m16-23m5 12m3-3m1 5m39 4" class="mgr"/><path d="M210 1118m18-13m18 4m8 4m11 1m2-2" class="mgr"/><path d="M208 1118m14-21m5 13m1 11m17-16m32 6" class="mgr"/><path d="M218 1118m39-3" class="mgr"/><path d="M227 1100m6-3m2 3" class="mdk"/><path d="M216 1088m1-3m6 3" class="mye"/><path d="M227 1097m2 4" class="mdk"/><path d="M213 1087m0 0" class="mye"/><path d="M234 1098m0 0" class="mdk"/><path d="M213 1087m0 0" class="mye"/><path d="M214 1101m18-2m2-1" class="mdk"/><path d="M211 1086m7 5" class="mye"/><path d="M214 1099m14 1" class="mdk"/><path d="M214 1085m6 1m3 1m0 3m2-1" class="mye"/><path d="M227 1099m0 0" class="mdk"/><path d="M240 1084m0 7m0-3" class="mor"/><path d="M215 1076m24 0m0 4" class="mre"/></g>
<path d="M118.3 533.3l1.7 1.7-1.7 1.7-1.7-1.7z" fill="#9a1de0" stroke="#6a10a0" stroke-width="0.3"/>
<text x="118.4" y="534.1" text-anchor="middle" class="ll">rs1260326</text>
<path d="M50.5 634.7V617.9M188.5 634.7V619.0M194.4 634.7V621.3M29.5 634.7V632.0" fill="none" stroke="#9cc8f2" stroke-width="0.7"/>
<g transform="scale(0.5)"><path d="M77 1269m7 0m7 0m17-1m26 1m1-5m103 0m6 5m20 0m4 0m39-6m13 0m15 6m10-1m3 1m1-3m16-2m21-2" class="mc3"/><path d="M75 1263m3 2m28-7m15 5m9 0m1-5m10 4m23-1m14-4m7 2m1-9m25 12m38-4m8 3m50 1m4-2m7 9m17-4m4-5m1-6m29 10m4-2" class="mcy"/><path d="M100 1268m1-2m14-2m9 3m21 2m10-5m6 4m2 0m40-1m31-6m6 6m12 2m7-4m13-2m9-2m2 2m34 5m10-1m11 2" class="mc3"/><path d="M86 1260m48-3m5 0m1 4m26 4m0 1m6-10m17-1m11 2m17 12m4-8m15 5m8-7m6-17m11 23m11 0m27-7m2 8m31-4m18 4m2 2" class="mcy"/><path d="M120 1269m29-3m67-2m31 1m7 3m0 1m5-2m8 0m12-1m18 3m12-7m13 4m13-2m5-3m10 2m34 4" class="mc3"/><path d="M65 1265m20-2m11-1m64-10m25 16m1-11m1-1m26 1m5-1m3 9m5-3m21-4m2 5m21 2m0-7m16 2m1-1m3 5m5 0m12-5m48 7m2-8m2 4m25-1" class="mcy"/><path d="M86 1266m19 0m43 2m2-5m5 5m12-2m53-2m30 3m23-1m8 2m5-2m29 3m12-2m24-3m7 3m13 0m5 2" class="mc3"/><path d="M61 1267m5 1m5-6m9-1m13 1m3-11m2 5m50 9m4 0m23-4m9 5m51-4m6-5m6 1m15-1m23 5m7-1m38 1m4 0m3 1m1 5m6-7m9 0" class="mcy"/><path d="M94 1267m27 2m32-1m62 1m5-3m1-4m37 4m9 2m35 0m38-1m19 2m3-3" class="mc3"/><path d="M71 1263m3-4m13 0m5 7m4-8m45 0m1 2m12 1m28 4m26-9m3-1m21 12m9-11m5 4m11 8m5-9m14 4m2 2m1-6m2 4m24 3m1-3m1-3m2 3m23 6m13-8m16 6m8-2" class="mcy"/><path d="M64 1268m1 1m75-2m20-6m19 7m1 0m17-1m9-3m76 3m23 1m16-1m5 2m5-1" class="mc3"/><path d="M63 1263m27 2m9-8m5 7m16-2m10 4m16-5m13 2m3-2m1-3m5 9m16-8m32 5m11-7m3-1m20 6m15 0m6-1m32 6m6-8m11 1m20 1m20 3m10 1m2-3m5-2m8 5" class="mcy"/><path d="M66 1265m20 4m20-3m32-1m8 1m0 1m14-4m67-4m40-2m9 8m22 1m1 0m15 0m6-7m10 10m21 0m24 0" class="mc3"/><path d="M116 1255m8 5m1 9m0-7m8-4m14 3m26-8m15 11m18-7m15 3m2 7m3-3m7-3m6-5m11 8m3 0m16 2m2-5m3 7m13-9m50 1m18 3m17-10" class="mcy"/><path d="M83 1269m23-3m1 2m8-2m20 1m32-2m2-5m11 2m5 4m21-1m11-1m38 2m0-1m3-1m28-4m11 6m14 3m37-5" class="mc3"/><path d="M60 1266m14-3m38-7m9 10m0 2m7-8m0 9m9-13m7 9m6-8m6 3m14 4m2-7m0-1m8 11m12-5m26-1m15-4m26 9m12 2m72-9m17-4" class="mcy"/><path d="M65 1269m12-1m16 0m2-1m40 0m3 1m27-5m43 1m21 2m8 0m9 1m19-3m22 2m24 0m21 1m2 1m13 1m6-5m26 5m5 0" class="mc3"/><path d="M62 1261m2 4m12-6m9 3m16-1m7 5m8-11m51 7m17 4m29-5m14-6m10 7m2-4m28-1m19 7m49 0m11-2m4 3m4-6m29 3" class="mcy"/><path d="M67 1266m14 0m5-7m15 10m60-1m5-6m49 7m51-3m27 3m21-3m4-1m8 3m7-6m1 7m22-1m10 1m21 0" class="mc3"/><path d="M68 1267m4 0m13-5m1 2m12-3m11-2m9 1m1 0m2 1m2 6m15-4m8 0m2 3m4-3m30 1m50 5m3-11m29 1m72 4m12 1m7-6m22 2m3-5" class="mcy"/><path d="M89 1269m26-1m9-2m42 1m42-7m26 8m5-1m51-3m0 1m13-1m2-4m9 5m14-1m31-4" class="mc3"/><path d="M79 1261m28-5m11 11m1 2m2-4m4-5m5-3m22 5m3 3m6-8m2 6m2-5m4-2m0 2m25-1m1 5m4 7m38-9m16 0m22 3m6-5m7 7m31-7m8 7m1-4m58 1" class="mcy"/><path d="M107 1265m12 3m0-1m7 2m74-6m7 6m17-6m19 4m13 2m2-5m18-2m9-3m1 10m21-3m13 2m37 0m27 0" class="mc3"/><path d="M63 1264m18-3m1 2m3 5m19-18m36 17m2-8m16 6m54-2m3-1m5-7m6 13m5-6m25-3m14 9m13 1m5-4m13-4m2-1m21 4m23 3m6-1m34 3" class="mcy"/><path d="M78 1262m12 4m8-5m5 7m21-1m48-7m17 9m30-5m1-3m0 8m11-1m4-3m29-2m4 1m11 1m56-4m18 8" class="mc3"/><path d="M82 1262m44-5m8-1m8 12m4-9m27 6m51-9m17-1m0 9m15 1m7-9m8 2m1 3m2-1m14 0m24 7m4-7m17 5m4-5m8 7m7-7m7 1m4 3" class="mcy"/><path d="M72 1268m53 0m31 0m102 1m8-2m19 2m15-2m22 0m25-1m12 2m22-2" class="mc3"/><path d="M65 1261m4 0m11-1m5 1m8 1m1 7m45-13m9 8m1-6m3 7m82 4m4-1m21-5m11 2m1-8m3 3m7 5m2 2m16-8m7 1m0 3m1-2m5 2m8-10m8 7m7 1m18-2m2 2m15 0" class="mcy"/><path d="M71 1269m12-8m1 8m32 0m28-6m15 5m10 1m14-1m8 1m11-2m23-5m0 6m11 0m2-2m9 0m24-4m49 1m17 6m10-1m9-2" class="mc3"/><path d="M75 1266m20-2m6 3m11-2m8-3m21 1m1 6m0-11m4 6m62 4m23-7m15 8m10-29m32 29m31-2m21-4m12-4m24 6m4 2m4-6" class="mcy"/><path d="M60 1269m2-4m0-2m3 6m6-2m1-3m0 5m20-1m1-1m10 0m10 2m4-7m45 3m50 2m36-3m5 1m34 2m1 2m17-10m28 9m1-5m40 4m4-2m0 4" class="mc3"/><path d="M74 1269m16-5m23-7m7-11m16 14m3 2m20-5m4 5m11-8m23 15m49-7m12-4m5-2m59 4m3-1m13 7" class="mcy"/><path d="M69 1268m22 0m10-7m30 8m10-6m10 5m38 1m35-2m7 0m32 2m14-3m13-2m13 1m72 2" class="mc3"/><path d="M60 1261m10 7m10-15m10 5m52 7m23-8m11 7m7 5m1-3m19-11m23 6m10-1m1 5m10-3m7 4m14-6m6 3m50-2m6 3m4 3m6-6m1 0m4 4m6-2m23-4m2 4" class="mcy"/><path d="M101 1263m68 3m1-4m7 7m12 0m3 0m23-3m27-1m22-2m9 5m1 1m22 0m51-5m27 5m8-7" class="mc3"/><path d="M74 1264m19-5m29 10m10-18m10 8m16 8m6-5m17 1m7-5m1 1m0 5m6-5m6 1m12 1m1-5m29-17m1 28m48-3m4 2m22 1m24 0m27-1m11-5m4 2m1 0" class="mcy"/><path d="M61 1268m13 1m22-5m38 4m39-9m15 6m42 4m1-5m8 0m26 2m1 3m32-1m57-2m17 2m15-2" class="mc3"/><path d="M69 1266m6-7m6 4m7 0m10 2m24-3m9 4m5-10m3 1m10 10m6-11m21-8m15 14m5-5m22 7m0 1m11-5m17 1m4 6m38-4m22 5m18-1m8-4m35-3m9 3" class="mcy"/><path d="M81 1267m19 0m26-5m26 2m19-2m60 7m51-8m30 5m15 2m30-7" class="mc3"/><path d="M85 1262m9-4m1-2m1 3m1-4m3 5m16 4m6 2m18-1m9 2m9 1m18-14m16 10m14 0m29-4m14 3m20-6m4 5m1-3m1 1m9-1m9 5m3-3m29 2m24-1m15 7m9-9m4 2m8-1m1 3" class="mcy"/><path d="M83 1269m20-5m26 2m9 3m88-1m5 1m1-1m26-1m4-1m25 0m13 2m2-4m16 0m21 3m17 2m17-6" class="mc3"/><path d="M83 1265m27-7m1-3m81 4m13 6m12-5m8 5m1 2m10-3m2 1m0 0m7-7m3 6m11-3m11-1m2 0m18 1m23 2m1 1m32-1m7 3m9-6m5 2m14 5" class="mcy"/><path d="M60 1269m5-2m33 2m28-5m1 5m77-8m1-2m15 4m14 5m19-3m36 1m28 3m17-6m27 6m8 0m11-1" class="mc3"/><path d="M73 1259m3 4m20 1m4-5m20 1m3 2m4 0m10-6m13-6m44-3m10 13m19-5m16 14m3-6m32-17m19 17m6 6m1-8m1 0m6-2m1 2m11-2m38 7m14-4" class="mcy"/><path d="M62 1269m7-4m6 0m6 2m9-1m4 2m3-2m11 0m19 3m62-3m13-10m29 12m39-2m32 3m3-2m3 1m7 0m6-4m58 3" class="mc3"/><path d="M81 1260m70-2m0 3m14 7m11-8m65 4m7-6m33 6m12-1m5 1m2-5m0-5m17 4m6 3m5 0m7 6m12 1m5-9m0 8m10-2m11-2" class="mcy"/><path d="M77 1269m25 0m11 0m42-2m24-5m3 5m16 0m15-3m14 5m5-1m29 0m0-4m14 0m2 4m8 1m11-6m59 5m1-9m26 9" class="mc3"/><path d="M65 1260m21 4m12-4m30 1m4 5m1-6m1-4m47 1m16-4m2 8m23 2m1-9m3 5m32 5m10-22m25 22m14-4m43 9m10-8m1-1m22 1" class="mcy"/><path d="M65 1269m74-1m54-3m6-1m5 1m41 4m20-1m16 0" class="mc3"/><path d="M81 1259m42 7m75-2m8-15m39 19m5-8m1 4m11-20m8 15m41 2m7 1m2-2m33-1m5 0m27 8" class="mcy"/><path d="M215 1226m19 2m18 9m11 5m5 0m31 3" class="mgr"/><path d="M212 1219m13 7m9 0m2-6m15 18m3-7" class="mgr"/><path d="M215 1226m0-8m7 8m3-5m19 15m19 5" class="mgr"/><path d="M209 1220m5-2m28 20m21-1m16 7m21 2" class="mgr"/><path d="M207 1222m5 20m40-5m3 2m15-2m23 9" class="mgr"/><path d="M238 1222m29 17" class="mgr"/><path d="M211 1218m1 1m14 7m9-3m2-3m21 19" class="mdk"/><path d="M211 1228m12-6m42 15" class="mdk"/><path d="M230 1222m0 0" class="mye"/><path d="M218 1220m0 0" class="mdk"/><path d="M220 1222m0 0" class="mye"/><path d="M210 1218m9 2" class="mdk"/><path d="M221 1220m0 0" class="mye"/><path d="M212 1219m11-2m11 10m3-7m21 19m5 2" class="mdk"/><path d="M221 1216m0 0" class="mye"/><path d="M211 1228m2 0m1-3" class="mdk"/><path d="M229 1218m0 0" class="mye"/><path d="M208 1225m44 14m12 0" class="mdk"/><path d="M238 1197m2 7m0 3" class="mor"/><path d="M215 1195m24 6" class="mre"/></g>
<path d="M118.3 594.3l1.7 1.7-1.7 1.7-1.7-1.7z" fill="#9a1de0" stroke="#6a10a0" stroke-width="0.3"/>
<text x="118.6" y="595.1" text-anchor="middle" class="ll">rs1260326</text>
<text class="rb" x="10.9" y="515.4" font-size="10.3">(E)</text>
<text class="rb" x="111.9" y="521.9" font-size="7.2" text-anchor="middle" textLength="133.8" lengthAdjust="spacingAndGlyphs">NRBP1 in Esophagus Gastroesophageal Junction</text>
<text class="rb" x="112.1" y="585.3" font-size="7.2" text-anchor="middle" textLength="12.0" lengthAdjust="spacingAndGlyphs">T2D</text>
<rect x="19.3" y="529.7" width="185.3" height="45.5" class="fr"/>
<path d="M19.3 573.4h-1.5M19.3 564.9h-1.5M19.3 556.4h-1.5M19.3 547.8h-1.5M19.3 539.3h-1.5M19.3 530.8h-1.5M204.6 573.9h1.5M204.6 563.3h1.5M204.6 552.8h1.5M204.6 542.2h1.5M204.6 531.6h1.5" class="tk"/>
<g class="tl" text-anchor="end">
<text x="17.1" y="575.3">0</text>
<text x="17.1" y="566.8">1</text>
<text x="17.1" y="558.3">2</text>
<text x="17.1" y="549.7">3</text>
<text x="17.1" y="541.2">4</text>
<text x="17.1" y="532.7">5</text>
</g><g class="tl">
<text x="206.8" y="575.8">0</text>
<text x="206.8" y="565.2">25</text>
<text x="206.8" y="554.6">50</text>
<text x="206.8" y="544.1">75</text>
<text x="206.8" y="533.5">100</text>
</g>
<text class="yl" transform="translate(5.8 552.5) rotate(-90)" text-anchor="middle">&#8722;log<tspan font-size="3.6" dy="1.2">10</tspan><tspan dy="-1.2">(</tspan><tspan font-style="italic">p</tspan>)</text>
<text class="yl" transform="translate(217.6 552.5) rotate(90)" text-anchor="middle" textLength="36.4" lengthAdjust="spacingAndGlyphs">Recomb. rate</text>
<rect x="19.3" y="590.4" width="185.3" height="46.3" class="fr"/>
<path d="M19.3 634.7h-1.5M19.3 621.0h-1.5M19.3 607.4h-1.5M19.3 593.7h-1.5M204.6 634.7h1.5M204.6 624.2h1.5M204.6 613.8h1.5M204.6 603.4h1.5M204.6 592.9h1.5" class="tk"/>
<g class="tl" text-anchor="end">
<text x="17.1" y="636.6">0</text>
<text x="17.1" y="622.9">5</text>
<text x="17.1" y="609.3">10</text>
<text x="17.1" y="595.6">15</text>
</g><g class="tl">
<text x="206.8" y="636.6">0</text>
<text x="206.8" y="626.1">25</text>
<text x="206.8" y="615.7">50</text>
<text x="206.8" y="605.2">75</text>
<text x="206.8" y="594.8">100</text>
</g>
<text class="yl" transform="translate(5.8 613.5) rotate(-90)" text-anchor="middle">&#8722;log<tspan font-size="3.6" dy="1.2">10</tspan><tspan dy="-1.2">(</tspan><tspan font-style="italic">p</tspan>)</text>
<text class="yl" transform="translate(217.6 613.5) rotate(90)" text-anchor="middle" textLength="36.4" lengthAdjust="spacingAndGlyphs">Recomb. rate</text>
<rect x="19.3" y="639.1" width="185.3" height="36.7" class="fr"/>
<g class="xt" text-anchor="middle">
<text x="59.1" y="682.1">27000000</text>
<text x="99.7" y="682.1">27500000</text>
<text x="140.2" y="682.1">28000000</text>
<text x="180.8" y="682.1">28500000</text>
</g>
<path d="M59.1 675.8v1.6M99.7 675.8v1.6M140.2 675.8v1.6M180.8 675.8v1.6" class="tk"/>
<text class="xl" x="112.0" y="690.6" text-anchor="middle" textLength="72" lengthAdjust="spacingAndGlyphs">Position on chromosome 2</text>
<rect x="32.4" y="693.8" width="159.5" height="10.2" class="lg"/>
<text x="34.2" y="700.6" class="lt">r2</text>
<circle cx="43.8" cy="698.9" r="1.2" fill="none" stroke="#777" stroke-width="0.5"/>
<text x="49.0" y="700.6" class="lt">miss</text>
<circle cx="64.5" cy="698.9" r="1.35" fill="#74e6dc" stroke="#555" stroke-width="0.35"/>
<text x="69.5" y="700.6" class="lt">0.0−0.2</text>
<circle cx="90.7" cy="698.9" r="1.35" fill="#62d43c" stroke="#555" stroke-width="0.35"/>
<text x="95.9" y="700.6" class="lt">0.2−0.4</text>
<circle cx="117.3" cy="698.9" r="1.35" fill="#e3c11e" stroke="#555" stroke-width="0.35"/>
<text x="122.1" y="700.6" class="lt">0.4−0.6</text>
<circle cx="143.4" cy="698.9" r="1.35" fill="#e58a2e" stroke="#555" stroke-width="0.35"/>
<text x="148.7" y="700.6" class="lt">0.6−0.8</text>
<circle cx="169.8" cy="698.9" r="1.35" fill="#c8341c" stroke="#555" stroke-width="0.35"/>
<text x="174.9" y="700.6" class="lt">0.8−1.0</text>
<g class="gt" font-size="3.4">
<text x="21.6" y="643.5">SLC5A6</text>
<path d="M22.0 644.1h4.4" class="gb"/>
<text x="25.8" y="645.7">DPYSL5</text>
<path d="M30.3 646.3h4.7" class="gb"/>
<text x="30.9" y="647.8">CCDC121</text>
<path d="M34.7 648.4h3.4" class="gb"/>
<text x="35.1" y="650.0">TMEM214</text>
<path d="M40.2 650.6h3.0" class="gb"/>
<text x="39.7" y="652.1">CCDC121</text>
<path d="M40.1 652.7h5.0" class="gb"/>
<text x="44.1" y="654.3">UCN</text>
<path d="M45.0 654.9h2.4" class="gb"/>
<text x="49.1" y="656.4">KCNK3</text>
<path d="M52.7 657.0h4.8" class="gb"/>
<text x="53.5" y="658.6">MPV17</text>
<path d="M56.0 659.2h2.3" class="gb"/>
<text x="58.2" y="660.7">PREB</text>
<path d="M61.6 661.3h2.8" class="gb"/>
<text x="62.8" y="662.8">ABCG5</text>
<path d="M63.4 663.4h2.1" class="gb"/>
<text x="66.8" y="665.0">EIF2B4</text>
<path d="M68.4 665.6h4.7" class="gb"/>
<text x="72.2" y="667.1">TMEM214</text>
<path d="M77.7 667.7h4.4" class="gb"/>
<text x="76.6" y="669.3">CAD</text>
<path d="M77.2 669.9h3.6" class="gb"/>
<text x="80.8" y="671.4">GAREM2</text>
<path d="M84.0 672.0h2.4" class="gb"/>
<text x="79.0" y="643.5">CAD</text>
<path d="M80.7 644.1h2.8" class="gb"/>
<text x="80.3" y="646.0">TMEM214</text>
<path d="M82.8 646.6h3.4" class="gb"/>
<text x="81.1" y="648.5">SELI</text>
<path d="M82.4 649.1h3.9" class="gb"/>
<text x="82.9" y="651.0">CCDC121</text>
<path d="M86.6 651.6h3.5" class="gb"/>
<text x="84.2" y="653.4">PREB</text>
<path d="M86.5 654.0h3.6" class="gb"/>
<text x="85.3" y="655.9">C2orf16</text>
<path d="M93.3 656.5h2.2" class="gb"/>
<text x="86.8" y="658.4">CAD</text>
<path d="M87.8 659.0h2.4" class="gb"/>
<text x="88.3" y="660.9">EMILIN1</text>
<path d="M94.6 661.5h4.6" class="gb"/>
<text x="89.6" y="663.4">C2orf16</text>
<path d="M91.6 664.0h4.1" class="gb"/>
<text x="92.5" y="643.5">SLC30A3</text>
<path d="M93.7 644.1h2.2" class="gb"/>
<text x="93.8" y="645.9">CGREF1</text>
<path d="M97.0 646.5h3.5" class="gb"/>
<text x="95.3" y="648.3">DPYSL5</text>
<path d="M99.0 648.9h3.8" class="gb"/>
<text x="95.8" y="650.7">ATRAID</text>
<path d="M101.4 651.3h3.2" class="gb"/>
<text x="96.7" y="653.1">MIR4263</text>
<path d="M103.6 653.7h3.7" class="gb"/>
<text x="97.7" y="655.5">XAB1</text>
<path d="M99.9 656.1h4.1" class="gb"/>
<text x="99.5" y="657.8">AGBL5</text>
<path d="M102.5 658.4h3.5" class="gb"/>
<text x="100.3" y="660.2">CIB4</text>
<path d="M101.8 660.8h3.0" class="gb"/>
<text x="101.4" y="662.6">MAPRE3</text>
<path d="M102.8 663.2h4.3" class="gb"/>
<text x="102.8" y="665.0">HADHB</text>
<path d="M108.7 665.6h2.5" class="gb"/>
<text x="103.0" y="667.4">CAD</text>
<path d="M105.1 668.0h2.2" class="gb"/>
<text x="104.4" y="669.8">ATRAID</text>
<path d="M110.2 670.4h2.9" class="gb"/>
<text x="105.5" y="672.2">EMILIN1</text>
<path d="M109.7 672.8h3.8" class="gb"/>
<text x="111.7" y="643.5">EMILIN1</text>
<path d="M112.8 644.1h3.1" class="gb"/>
<text x="113.2" y="645.7">EMILIN1</text>
<path d="M121.4 646.3h3.6" class="gb"/>
<text x="115.1" y="647.9">MRPL33</text>
<path d="M115.2 648.5h3.2" class="gb"/>
<text x="116.5" y="650.1">EMILIN1</text>
<path d="M123.5 650.7h2.5" class="gb"/>
<text x="117.8" y="652.3">ABCG5</text>
<path d="M121.7 652.9h4.0" class="gb"/>
<text x="119.8" y="654.5">MPV17</text>
<path d="M121.9 655.1h3.4" class="gb"/>
<text x="121.2" y="656.7">ZNF512</text>
<path d="M122.3 657.3h2.2" class="gb"/>
<text x="122.8" y="659.0">FNDC4</text>
<path d="M127.3 659.6h3.1" class="gb"/>
<text x="124.6" y="661.2">PPM1G</text>
<path d="M126.9 661.8h3.0" class="gb"/>
<text x="72.6" y="667.0">SLC30A3</text>
<path d="M77.7 667.6h4.8" class="gb"/>
<text x="75.3" y="669.6">ABCG5</text>
<path d="M77.9 670.2h3.4" class="gb"/>
<text x="77.4" y="672.2">EMILIN1</text>
<path d="M84.8 672.8h2.5" class="gb"/>
<path d="M140.4 664.8H156.8" class="gb"/>
<text x="148.6" y="664.3" text-anchor="middle">ABCG11</text>
<path d="M140.4 666.8H149.1" class="gb"/>
<text x="144.7" y="666.3" text-anchor="middle">GPR113</text>
<path d="M149.1 669.9H184.9" class="gb"/>
<text x="167.0" y="669.4" text-anchor="middle">SAEALKN</text>
<text x="187.7" y="671.9">PGK1</text>
<text x="193.1" y="643.2">PLB1</text>
</g>
<path d="M281.8 573.4V556.9M419.4 573.4V558.0M425.2 573.4V560.3M261.0 573.4V571.0" fill="none" stroke="#9cc8f2" stroke-width="0.7"/>
<g transform="scale(0.5)"><path d="M534 1145m42-1m26 0m39 0m3-16m13-8m20 21m2 0m6-6m8 11m94-3m5-2m15 5" class="mc3"/><path d="M527 1132m0 2m18 1m6 1m6-1m1 4m4 4m30 1m2-9m18 7m0-8m10-2m9 12m14-13m10-2m3-3m18 7m6 1m17 11m36-12m15 1m2 0m50-7m15 13m6-6m6-8m8 9" class="mcy"/><path d="M566 1147m15-1m11-10m18 10m28 0m12-23m14 7m25 5m9 9m9-2m10 1m27-5m6 5m1-8m55 11" class="mc3"/><path d="M528 1141m15-1m8 4m22 0m5-4m3-5m31 11m5-6m3-3m44-17m3 3m3 16m10-7m10 4m50-1m12-1m18-1m11-3m3 3m1-2m10 5m34 3m0-5m2 2m9 1" class="mcy"/><path d="M584 1147m13-1m1 0m5-1m11 1m13-5m37-2m4-4m44 12m13-3m18-5m24 3m27 5m36-5m6-3" class="mc3"/><path d="M546 1132m20 4m3 3m28-3m7 3m5 7m15-6m1 6m17-11m15-7m2 0m7 6m14 4m24 1m25 2m13-8m15 6m4 7m17-14m15 6m4 5m7-12m1 1m15 13m11-2" class="mcy"/><path d="M535 1142m23 0m8 2m8 2m31-6m5 4m3 1m16-1m12-12m79 12m1-1m9-3m21 7m30-19m19 5m8 14m1-9m10 6" class="mc3"/><path d="M525 1133m13 7m14-4m54 2m17 7m1-4m9 1m4-9m13-7m26 4m9 13m60 3m23-17m6 4m10 13m3-4m0-2m14-12m5 7m6 2m13 9m20-12" class="mcy"/><path d="M530 1144m10 1m11 2m4-3m1-1m20 3m6-3m5 4m2-6m25 5m18 0m19-16m69 15m1-2m3 3m7 1m14-6m47 3m40-7" class="mc3"/><path d="M525 1140m4 6m9-4m88 0m4-3m0-4m17-24m0 15m9-12m6 29m16-11m7-10m4 3m4 22m2-16m18 5m21 1m19 1m28-5m43 5m19-11" class="mcy"/><path d="M536 1139m4 5m31 2m17-1m19-7m51-3m6 11m12-1m1-14m19 11m11 0m7-2m27 3m7 2m2-2m9 0m24-6m5 1m7 3m4 6m19-6" class="mc3"/><path d="M530 1138m5 2m64 1m1 2m17-3m3 2m13 1m8-17m20 15m1-18m7 11m16 12m8-17m11 13m54-8m6-1m24-26m6 39m36-13" class="mcy"/><path d="M575 1146m3-4m29 2m7 0m2 2m16-1m25 2m26-3m8-2m64-2m22 2m2 2m16-9m24 8m18 3" class="mc3"/><path d="M523 1135m10 0m2 4m2 1m28 4m0-8m11-1m4 0m19 10m8-6m3 0m26-2m19-18m14 22m19-9m11-2m47-3m0 12m7-9m16 4m13-10m10 12m1-6m16-9m29 20" class="mcy"/><path d="M589 1141m80-9m11-1m11 14m1 0m14-13m11 7m1 3m26-1m18-6m17 9m16 3m25-1m1-6m2 2m0-6m19-3" class="mc3"/><path d="M526 1134m1 1m38-1m16 10m3-7m9-4m2 4m19 7m25-10m11-8m4 2m3 18m0-3m11-25m37 11m40 8m17 7m20-16m12 0m2 16m2-14m6 7m6-2" class="mcy"/><path d="M528 1137m1 4m7 5m27-3m36 0m0 0m35 3m23-23m5 23m3-3m24-7m1 3m28-10m52 14m24 3m37-6m2 3m7-1" class="mc3"/><path d="M523 1139m15-3m16 0m13 8m8-5m2-1m26-1m28 2m17-18m4-10m7 22m38-4m1 4m6-3m13 6m39 6m12-14m48 2m3 7m5 0m2-7m7 3" class="mcy"/><path d="M533 1142m1 3m30-10m60 11m3 0m8-7m18 6m25-13m5 8m13 6m43-12m24 10m35-1m49-1" class="mc3"/><path d="M525 1132m24 7m9-1m2-5m7 6m1 1m6-14m27 10m53 3m0-13m5 4m4 7m15-15m21 6m6 10m5-5m11-2m0 8m15 5m54 1m7-9m4-7m2 1m22-2m7 10m11-6" class="mcy"/><path d="M551 1145m10 2m7-1m4-12m38 12m28 0m34-17m41 1m20 16m18-4m15 3m17-8m9-2m27 6" class="mc3"/><path d="M523 1141m20 0m1-7m14 2m8 2m18-1m20 5m13 1m13 0m36-16m7-5m0-1m10 2m20 8m1-2m7-1m2-2m26 4m4 8m15-4m29 0m4-1m17 8m9-10m21 9m1 4" class="mcy"/><path d="M531 1137m8 8m4-2m4-1m21 0m14 4m21-2m32 2m31-13m70 12m8 1m11-6m2 5m46-4m18-3" class="mc3"/><path d="M525 1140m15-4m22-2m18 5m32 5m8-9m5 2m3 1m12-6m16-10m27 3m25 12m2-1m8-3m14 6m0-9m13 2m3 2m10 9m28 1m2-1m10-15m6 14m20-4m22-9" class="mcy"/><path d="M544 1146m1-1m37-4m21 0m11 6m3-3m5 1m1-2m1-7m12 4m1 1m9-1m14 6m13-19m23 19m78-3m15 3m48-5" class="mc3"/><path d="M537 1136m21 9m19 0m17-6m6 4m31 1m5-4m6-8m11 0m8-3m4-17m6 21m1-6m13-5m5 14m7 0m12-6m13 0m1 9m100 3m17-17m2 12" class="mcy"/><path d="M557 1144m53-8m41-4m25 8m3 2m27-4m5 3m16 6m18-7m46-5m1 3m10-1m17 5" class="mc3"/><path d="M522 1145m10-6m7 4m1-6m4-4m17 12m1 0m9-10m4-2m8 9m15-2m25-8m3 12m6-5m3 3m12 3m5-18m13-4m19 19m3-10m16 1m1-5m33 12m48 1m6-8m44 2m5 0" class="mcy"/><path d="M540 1142m14-5m14 7m47 0m19 3m48-1m8-12m16-3m13 8m6 5m25-1m1-2m19 3m19-3m40 5" class="mc3"/><path d="M543 1142m3-9m8 11m11-2m1-1m16 1m24 3m19-10m20 5m24-16m7 22m6-24m19 14m5-3m25-26m5 38m10-7m1-6m15 13m2-19m7 16m29-6m13-12m8 10m14-1" class="mcy"/><path d="M539 1140m6-2m53 6m5 2m22-4m1-2m14-5m1 8m4-16m9 18m81 1m23-2m0-8" class="mc3"/><path d="M556 1143m8-9m37 4m44-14m5 12m1-16m6 1m3 15m1-11m2-10m0 8m19 16m1-17m5 0m4 12m12-1m3 10m38-4m48-10m0 16m2-3m11-4m3-5m13-2m2 8m3 3m2-7" class="mcy"/><path d="M568 1145m4 1m7-2m32 3m4-4m52 1m21-1m3-9m13 12m8-8m8 7m22-4m18-2m35-6m0 9m12-2m16-2m12 2" class="mc3"/><path d="M549 1136m8-4m1 7m21 1m11-5m16 8m19-6m27-16m1-5m33 3m0 1m20 8m12 5m5 2m2 4m14-10m19 12m19-3m8-1m17 0m24 9m11-4" class="mcy"/><path d="M561 1146m15-1m21-1m70 0m31-13m15 15m12-16m3 8m11 7m20 1m29-2m8 0m9-7m2 0" class="mc3"/><path d="M524 1138m2 2m39 1m11-3m5-1m19-13m9 12m6 3m10-5m12 7m61-3m8-4m11 4m2-7m10 0m6 9m8 6m4-13m7 3m5-4m9 10m3-1m10-1m20-12m1 0m11 2" class="mcy"/><path d="M528 1145m3-1m2 1m0 1m30-3m35 1m3-8m24 11m6-4m16 2m24 1m8-2m4 3m19-3m50-1m3-12m3 11m20 3m6-7m31-4m30 13" class="mc3"/><path d="M531 1136m6 4m11-3m20 5m35-7m19 7m3-1m20-8m17-6m11 8m20-4m34 2m5-4m2 2m1 5m2-5m17 12m41 2m46-5" class="mcy"/><path d="M525 1141m38 3m11-5m74 6m23-21m3 21m6-15m3-3m16 17m5-15m12 14m20 2m9-5m3-2" class="mc3"/><path d="M539 1135m5 10m11-9m15 9m8-6m13-5m7 4m6-4m9 6m1-1m8-1m10 2m3 0m14-21m4 11m6-11m4 7m28 8m24 6m0-13m66 15m9 2m4-12m16-4m6 7m24 3" class="mcy"/><path d="M551 1145m5-4m9 1m9-3m22 3m10 3m51 0m2-4m7 0m7-13m23 14m6 0m66-3m25 6m18-16m28 16m4 0m3-1" class="mc3"/><path d="M528 1144m8-1m2-7m0 1m11 0m28 8m4-12m11 0m23 1m2 0m6 1m1 11m24-22m3-5m25 11m73 5m8-5m3 4m25-2m9 8m30-5m5 1" class="mcy"/><path d="M527 1144m18-7m58 3m8 4m19-2m14-6m36 8m6-4m19 4m14-6m29 7m44 1m11-10m3 1m2 5m11 1m3 0m22 3" class="mc3"/><path d="M522 1134m8 1m46-3m5 12m28-1m4-5m7 0m6 5m15-18m10-12m18 20m0 2m18-14m6 8m15 2m3-1m7-3m43 6m25-4m3 9m25-10m7 11" class="mcy"/><path d="M523 1147m2-4m3 0m53 2m24 1m1-10m17 11m60-15m58 15m30-7m0-10m2 1m9 8m22 2m2-3m4-4m20 11m13 1" class="mc3"/><path d="M530 1138m14 5m11-8m6-2m2 4m14-2m30 8m17-10m10 7m51 0m10-14m24 5m46-3m2 9m28-4m15-1m0-1m4 9m6-5m15 2m3-16m7 12" class="mcy"/><path d="M727 1114m0 0" class="mgr"/><path d="M645 1108m0 0" class="mdg"/><path d="M653 1108m2 2m55 14m4-10m12 5m6-15" class="mgr"/><path d="M658 1114m54-9" class="mgr"/><path d="M647 1113m72 15" class="mdg"/><path d="M653 1112m12-13m13 12m38 10" class="mgr"/><path d="M710 1129m0 0" class="mdg"/><path d="M654 1116m0 0" class="mgr"/><path d="M652 1112m0 0" class="mdg"/><path d="M654 1107m0 0" class="mgr"/><path d="M645 1110m62 16" class="mdg"/><path d="M641 1105m0 0" class="mgr"/><path d="M709 1131m7-2" class="mdg"/><path d="M714 1127m0 0" class="mgr"/><path d="M707 1130m0 0" class="mdg"/><path d="M654 1116m70 10m3-19" class="mgr"/><path d="M714 1127m0 0" class="mdg"/><path d="M641 1115m10-4m3 4m6 2m53 3m16 11" class="mgr"/><path d="M649 1107m34 6m32 14m10 3m1-21m2 16" class="mgr"/><path d="M647 1109m0 0" class="mdg"/><path d="M657 1105m1 11m11-1m45 2" class="mgr"/><path d="M648 1110m0 0" class="mdg"/><path d="M660 1116m9 0m8-1m38 6m6 8m5-11" class="mgr"/><path d="M710 1130m0 0" class="mdg"/><path d="M663 1092m37 8" class="mye"/><path d="M663 1098m9-2m4 8m3-10m17 7m2-4" class="mor"/><path d="M666 1098m1-3m1 24m8-6m8 1m14-17" class="mor"/><path d="M670 1098m3 19m4-5m4-1m1 7m2-7" class="mor"/><path d="M664 1094m4 18m8 5m22-26m1 6" class="mor"/><path d="M668 1083m4 10m8-14m1-4m2 3m12 8" class="mre"/><path d="M672 1090m0-4m4 16m3-4m15-18m0 5" class="mre"/><path d="M672 1101m2-7m15 1m4-9m2-5m1 15" class="mre"/><path d="M673 1097m4-20m2-4m6 26m2-22m4 9" class="mre"/><path d="M679 1099m2 2m5-21m4-4m2 17m2-2" class="mre"/><path d="M667 1088m2 2m13 10m10-10m3-1m3-4" class="mre"/></g>
<path d="M342.6 533.3l1.7 1.7-1.7 1.7-1.7-1.7z" fill="#9a1de0" stroke="#6a10a0" stroke-width="0.3"/>
<text x="343.0" y="534.0" text-anchor="middle" class="ll">rs2303370</text>
<path d="M281.8 634.7V617.9M419.0 634.7V619.0M424.7 634.7V621.3M261.0 634.7V632.0" fill="none" stroke="#9cc8f2" stroke-width="0.7"/>
<g transform="scale(0.5)"><path d="M567 1267m9-9m32 3m13 8m4-1m27-7m17-1m30 6m26 1m16 2m4-3m12 3m4-5m9 2m60 1" class="mc3"/><path d="M532 1260m8-8m3 9m2 2m6-5m12 1m5 1m7 3m3 4m16-3m19 2m21-7m1 0m5-2m20 6m37-4m11 5m45-2m28 1m6-2m4 0m11 0m4 3m4 3m34-4" class="mcy"/><path d="M534 1267m10-1m13-3m25 4m10-8m14 5m4-2m10 4m14 3m11-1m3-3m5 3m2-11m9 8m29-3m1 5m4 1m3-5m24 4m38 0m11-3m30 5" class="mc3"/><path d="M545 1260m1 0m28-3m43-1m24 12m33-10m13 6m17-2m13 2m19-6m1 0m1 3m19-1m9 1m6 1m32 6m12-7m4-7" class="mcy"/><path d="M551 1269m51 0m6-1m0-12m2 12m8-4m14-2m12 3m57-1m8-1m13 2m11 4m14 0m6-5m17-3m8 6m13 0m8-1m7 1m24 2m15 0" class="mc3"/><path d="M523 1260m12 4m4 1m17-3m11 3m14-5m30 5m77-9m11 6m7 4m8-3m3 0m43 1m0 3m8-2m12-12m23 11m0-4m13 1" class="mcy"/><path d="M566 1268m1-6m10 5m16-11m15 11m31 1m12-2m10 2m0-2m48 2m3 0m17-1m8-10m23 10m10 0m34 1m2-3m25 2" class="mc3"/><path d="M524 1264m2 2m20-5m0 2m37-6m0 7m5-3m8 4m9-10m36 12m1-7m0 6m24-1m10 1m17-7m0 2m1 5m10-4m26-2m64 6m1 0m15-3" class="mcy"/><path d="M542 1265m7-6m67 10m36-3m34 2m34-1m64 2m18 0m13-1m0-2" class="mc3"/><path d="M531 1265m24 0m4-5m21 9m28-16m10 2m19 7m7-1m5-5m18 5m2-3m4 3m2 1m11-1m4 7m13-7m20-4m22 3m1 2m0-3m4 0m3-1m2 3m8-1m9 3m0 0m2 2m10 3m19-9m13 1" class="mcy"/><path d="M529 1265m6 4m2 0m28-3m11 3m2-6m14 5m20 1m5-8m22 8m24 0m29-7m27 6m22-3m10 2m27-2" class="mc3"/><path d="M561 1269m21-9m10 5m4-3m16 4m9-10m3 8m0-1m8 4m4-7m27 9m28-10m15 6m35-5m4 1m2 5m22-5m4 4m2 2m29-1m8-4m12 5m12-6m9 5" class="mcy"/><path d="M532 1269m3 0m85-2m7-1m4 2m64 1m92-3m15 0" class="mc3"/><path d="M538 1259m10 0m2 2m16 2m0-9m8 14m3-14m4 10m12-4m4-2m11 5m21 1m17-9m1 4m6 4m19 1m26-4m31 1m1 1m7-3m7 4m2-2m4 3m5 5m8-10m14 6m28 0m2-2m12 1m17-9m7 7m3 5" class="mcy"/><path d="M567 1259m7-1m38 11m1-10m7 7m8 2m11 1m18-2m6-6m91 5m11 2m4-3m23 1m22-1m33 2" class="mc3"/><path d="M540 1269m0-2m14-10m8-1m22 3m12-7m54 10m1-2m13 2m1-3m1 3m27-5m18 1m1 9m6-4m10-2m8-4m24 4m5-2m9 9m23-9m19 0m10 5m13 3m2-3" class="mcy"/><path d="M529 1263m8 4m17-6m81 7m101-5m30 6m5-3m7 3m6-6m5 6m8 0m6-1m1 1m14 0m1 0m22-1" class="mc3"/><path d="M538 1261m0 1m10-2m3 4m4-2m41-5m5 1m4 9m33-9m4 9m24 0m0-6m21-4m19 5m28-4m13 10m6-22m6 13m12 6m3-6m23 1m21 0m21 7m3-3" class="mcy"/><path d="M552 1263m28-1m15 2m11 4m0-8m6 9m7-1m1 1m3-3m14-1m45 2m9-5m15 5m3 2m13-2m1 0m3 2m13-6m5 2m41-3m19 5m43 1" class="mc3"/><path d="M523 1263m8-1m50-4m3-8m2 10m24 4m81-2m42 3m7-2m17-2m20 5m4-3m20 1m9 0m2 1m3 0m18-4m5-1" class="mcy"/><path d="M525 1269m1-7m24 0m17-1m13 7m26 1m6-4m0 0m36-1m4 1m43 4m4-2m5 1m58 0m3 1m20-4m1 4m18-2" class="mc3"/><path d="M561 1268m14-5m12-3m39 5m23-6m19 4m39 1m27 1m13-3m7-3m9 5m2-3m2 1m0-3m26 1m5 7m4-4m8 5m7-4m5-2m20 1m1-1" class="mcy"/><path d="M565 1266m11-4m1-1m22 6m10 1m28 0m36-3m19 3m20-1m1-3m6-1m10 3m10 0m11-4m29 5m27 0m0 0m2 1m12-1m6 2" class="mc3"/><path d="M552 1263m28-3m34 2m25-1m1 1m8 2m14-5m22 0m38-2m17 3m18-14m8 12m12 10m1-5m3-1m6 2m37 3m5 2m2-10m1 10" class="mcy"/><path d="M530 1268m2-2m12 3m2-8m5 4m57-4m35 7m7-2m6-1m11 3m0-3m2-1m57 0m3 4m28-5m11 4m1-1m46 3" class="mc3"/><path d="M541 1256m4 2m18 4m17-2m46 3m3 0m5-3m18 0m8-3m25 9m18-4m2 1m13 2m20-3m1-3m1 2m20-1m27 0m5 4m1-4m45 4m7 2" class="mcy"/><path d="M533 1265m15 4m21-12m0 9m11-8m3 7m2 2m2 0m23 2m23-1m40-3m1 4m35-1m32 1m5-4m3 2m22 1m21 1m5-3m5 3m15-4" class="mc3"/><path d="M530 1263m34-3m6 4m18-4m9 5m14-2m21-4m20 1m25 4m6-2m8 1m34-3m4 2m5-3m3 8m2-1m10 0m74-5m10 0" class="mcy"/><path d="M577 1261m22 8m22-1m5 1m4 0m4-6m97-1m5 7m12-2m11-4m34-1m9-3m44 9" class="mc3"/><path d="M523 1264m1-3m8-2m5 5m27-3m19-2m19 3m38 2m19-5m3-1m17 3m8-3m1-1m0 8m14-5m16 9m7-3m1-3m11 4m9-5m21 5m0-4m24-5m8 1m18 10m0-2m4-2" class="mcy"/><path d="M556 1269m5-8m22 8m20-8m16 8m13 0m34 0m1-2m2-4m7-5m16 8m19 3m10 0m12-1m18-4m3 3m7-1m39 3m9-5m12 5m23-7" class="mc3"/><path d="M528 1267m26 0m7-1m7-9m11-2m4 4m50 1m12-3m32 11m2-9m5-4m25 3m6 3m3 1m63-1m13 0m31 4m1 2m13 1" class="mcy"/><path d="M532 1268m2-2m37-1m1 1m3 3m77-4m14 4m5-4m60 2m20 1m28-3m28-5m4 8m12 0m14 1m6-5" class="mc3"/><path d="M554 1258m2 5m2-6m12-6m9 14m22-6m16-4m2 9m42 1m1-8m3 6m43-1m1-2m7-30m20 32m14-1m4 1m9-4m3 0m3 9m2-7m7 0m7 8m49-9" class="mcy"/><path d="M527 1266m21-3m10 2m6 4m24-5m4-4m2 2m35 1m13 4m10 0m52 2m1 0m40-1m4-5m25 6m3-3m16 0m11 2m7-1" class="mc3"/><path d="M523 1262m3 2m29-1m6 5m8-7m20 4m31-14m17 3m32 4m61-5m1 11m3-4m19-1m2 4m12 3m6-1m10-4m5 0m12-9m12 13m31 2" class="mcy"/><path d="M527 1268m10-2m22 2m36-2m19-5m18 8m7-1m49-5m6 6m12-2m28 0m8-7m2 9m4 0m2-8m7 8m50-2m34 0" class="mc3"/><path d="M527 1263m0 6m17-12m1 1m25 7m7-10m15 3m19-2m2 11m69-11m29 9m1 1m15-4m3 0m21-4m7 1m5 2m35-2m32 4m4 6m6-8m3 7" class="mcy"/><path d="M529 1260m51 8m2 0m25-2m1-9m10 3m6 9m2-3m12-5m27 8m2-2m2 1m0 0m1 1m126-5m18 4m18-2" class="mc3"/><path d="M526 1266m0-6m16 3m14-3m4 8m77-7m2 7m9-10m15 6m19 2m4-6m1-1m19 2m9 6m4 1m1-2m24-3m1-1m13 4m10-4m50-3m2 4m23-1" class="mcy"/><path d="M525 1268m4-1m0 1m25-7m10-1m40 5m24 4m7 0m36-3m10-9m11 11m7 0m3-2m21 3m12 0" class="mc3"/><path d="M523 1264m28 4m16-8m17 2m4-5m23 0m23 3m5 0m2-3m5 6m1 1m21-4m7-3m43 5m0-5m26 3m0 8m15-7m8-1m3 5m6-4m9 6m4-6m10 0m2 5" class="mcy"/><path d="M530 1269m27-1m55-3m5-2m28-4m16 3m39-1m19 7m5-4m30 3m8 1m13 1m32 0m4-2m35-3" class="mc3"/><path d="M557 1256m6 4m13-4m31-8m60 12m14 1m7-4m3 4m3 2m10-3m5 5m21 1m0-1m1 1m4-6m4 4m6-2m7-2m5-1m19 6m10-5m15 9m4-4m1-4m18 0" class="mcy"/><path d="M527 1265m20-4m8 8m71 0m1-2m23-8m20-1m2 9m6-3m59 4m2 1m12-5m8 5m8 0m8-1m11-6" class="mc3"/><path d="M546 1264m0-5m36 8m6-3m10 2m11-6m1-5m22-5m13 12m12 3m2-9m1 12m54-2m2-1m5-5m0 3m14-2m8 5m4-5m18 0m7 3m12-4m22 7m28-8" class="mcy"/><path d="M537 1267m9 2m24-6m40 6m25-3m49-3m26 2m7 4m18-1m12 0m21-4m7 5m8-4m12 4m3 0m14-2m12 2m22-3" class="mc3"/><path d="M547 1257m11-9m21 15m8-5m35 2m22-5m7 2m2 12m16-9m5 5m12-5m8 1m5 2m15-1m11 6m6 1m12-9m19 6m20 3m4-3m6-7m20 4" class="mcy"/><path d="M566 1267m111 2m42 0m24-7m1 5m103 1" class="mc3"/><path d="M591 1258m104 6m14-1m39-1m14-16m1 12m11 7m2 0m13-4m21 2m30-1" class="mcy"/><path d="M672 1248m1 1m1-5m37 3m7 2m17-4" class="mgr"/><path d="M660 1251m7 4m9-12m11 5m11-52m24 53" class="mgr"/><path d="M668 1255m33-16m21-1m8 0m6 6m1 1" class="mgr"/><path d="M676 1254m13-4m0 7m17-6m2-7m25-3" class="mgr"/><path d="M652 1247m31-30m0-1m17-16m2 43m40 0" class="mgr"/><path d="M656 1242m25 8m27-15m1 9m27 5m2-4" class="mgr"/><path d="M662 1252m0-8m7 1m3 12m34-15m15 9" class="mgr"/><path d="M665 1252m16-8m20-39" class="mgr"/><path d="M673 1242m0 0" class="mye"/><path d="M686 1220m36 17m5 6" class="mdk"/><path d="M675 1244m0 0" class="mye"/><path d="M687 1226m20 16" class="mdk"/><path d="M662 1250m0-5m6 1m3-2m7 4" class="mye"/><path d="M678 1221m8 1m11 1m1-2m24 25" class="mdk"/><path d="M697 1192m0 0" class="mye"/><path d="M679 1224m13 1m14 20m3-5m15 5m4 0" class="mdk"/><path d="M677 1195m0 0" class="mye"/><path d="M668 1219m2 1m8-1m4-1m0-1m3 3" class="mor"/><path d="M666 1220m1 2m4 3m10-7m15 17m0-12" class="mre"/><path d="M670 1220m0 3m5 4m1-4m12-4m6 9" class="mre"/><path d="M666 1219m4 6m5-1m10-3m3 6m10-4" class="mre"/><path d="M675 1222m6 5m1-3m2-5m15 3" class="mre"/></g>
<path d="M343.2 610.3l1.7 1.7-1.7 1.7-1.7-1.7z" fill="#9a1de0" stroke="#6a10a0" stroke-width="0.3"/>
<rect x="318.6" y="612.7" width="23.6" height="5.2" rx="0.6" fill="#fff" stroke="#555" stroke-width="0.5"/>
<text x="330.4" y="616.8" text-anchor="middle" class="ll">rs2303370</text>
<text class="rb" x="245.6" y="515.4" font-size="10.3">(F)</text>
<text class="rb" x="346.3" y="523.3" font-size="7.2" text-anchor="middle" textLength="115.0" lengthAdjust="spacingAndGlyphs">NRBP1 in Small Intestine Terminal Ileum</text>
<text class="rb" x="338.3" y="585.1" font-size="7.2" text-anchor="middle" textLength="12.0" lengthAdjust="spacingAndGlyphs">T2D</text>
<rect x="251.0" y="529.7" width="183.5" height="45.5" class="fr"/>
<path d="M251.0 573.4h-1.5M251.0 561.1h-1.5M251.0 548.8h-1.5M251.0 536.5h-1.5M434.5 573.4h1.5M434.5 563.0h1.5M434.5 552.5h1.5M434.5 542.0h1.5M434.5 531.6h1.5" class="tk"/>
<g class="tl" text-anchor="end">
<text x="248.8" y="575.3">0.0</text>
<text x="248.8" y="563.0">2.5</text>
<text x="248.8" y="550.7">5.0</text>
<text x="248.8" y="538.4">7.5</text>
</g><g class="tl">
<text x="436.7" y="575.3">0</text>
<text x="436.7" y="564.9">25</text>
<text x="436.7" y="554.4">50</text>
<text x="436.7" y="543.9">75</text>
<text x="436.7" y="533.5">100</text>
</g>
<text class="yl" transform="translate(236.0 552.5) rotate(-90)" text-anchor="middle">&#8722;log<tspan font-size="3.6" dy="1.2">10</tspan><tspan dy="-1.2">(</tspan><tspan font-style="italic">p</tspan>)</text>
<text class="yl" transform="translate(448.1 552.5) rotate(90)" text-anchor="middle" textLength="36.4" lengthAdjust="spacingAndGlyphs">Recomb. rate</text>
<rect x="251.0" y="590.4" width="183.5" height="45.8" class="fr"/>
<path d="M251.0 634.7h-1.5M251.0 621.0h-1.5M251.0 607.4h-1.5M251.0 593.7h-1.5M434.5 634.5h1.5M434.5 624.0h1.5M434.5 613.4h1.5M434.5 602.8h1.5M434.5 592.3h1.5" class="tk"/>
<g class="tl" text-anchor="end">
<text x="248.8" y="636.6">0</text>
<text x="248.8" y="622.9">5</text>
<text x="248.8" y="609.3">10</text>
<text x="248.8" y="595.6">15</text>
</g><g class="tl">
<text x="436.7" y="636.4">0</text>
<text x="436.7" y="625.9">25</text>
<text x="436.7" y="615.3">50</text>
<text x="436.7" y="604.7">75</text>
<text x="436.7" y="594.2">100</text>
</g>
<text class="yl" transform="translate(236.0 613.3) rotate(-90)" text-anchor="middle">&#8722;log<tspan font-size="3.6" dy="1.2">10</tspan><tspan dy="-1.2">(</tspan><tspan font-style="italic">p</tspan>)</text>
<text class="yl" transform="translate(448.1 613.3) rotate(90)" text-anchor="middle" textLength="36.4" lengthAdjust="spacingAndGlyphs">Recomb. rate</text>
<rect x="251.0" y="638.7" width="183.5" height="36.6" class="fr"/>
<g class="xt" text-anchor="middle">
<text x="290.1" y="682.1">27000000</text>
<text x="330.4" y="682.1">27500000</text>
<text x="370.7" y="682.1">28000000</text>
<text x="411.0" y="682.1">28500000</text>
</g>
<path d="M290.1 675.3v1.6M330.4 675.3v1.6M370.7 675.3v1.6M411.0 675.3v1.6" class="tk"/>
<text class="xl" x="342.8" y="690.1" text-anchor="middle" textLength="72" lengthAdjust="spacingAndGlyphs">Position on chromosome 2</text>
<rect x="263.3" y="693.8" width="158.9" height="10.2" class="lg"/>
<text x="265.1" y="700.6" class="lt">r2</text>
<circle cx="274.7" cy="698.9" r="1.2" fill="none" stroke="#777" stroke-width="0.5"/>
<text x="279.8" y="700.6" class="lt">miss</text>
<circle cx="295.2" cy="698.9" r="1.35" fill="#74e6dc" stroke="#555" stroke-width="0.35"/>
<text x="300.3" y="700.6" class="lt">0.0−0.2</text>
<circle cx="321.3" cy="698.9" r="1.35" fill="#62d43c" stroke="#555" stroke-width="0.35"/>
<text x="326.6" y="700.6" class="lt">0.2−0.4</text>
<circle cx="347.8" cy="698.9" r="1.35" fill="#e3c11e" stroke="#555" stroke-width="0.35"/>
<text x="352.7" y="700.6" class="lt">0.4−0.6</text>
<circle cx="373.8" cy="698.9" r="1.35" fill="#e58a2e" stroke="#555" stroke-width="0.35"/>
<text x="379.2" y="700.6" class="lt">0.6−0.8</text>
<circle cx="400.1" cy="698.9" r="1.35" fill="#c8341c" stroke="#555" stroke-width="0.35"/>
<text x="405.3" y="700.6" class="lt">0.8−1.0</text>
<g class="gt" font-size="3.4">
<text x="253.0" y="643.1">PPM1G</text>
<path d="M255.1 643.7h4.1" class="gb"/>
<text x="257.0" y="645.3">SLC5A6</text>
<path d="M262.4 645.9h2.5" class="gb"/>
<text x="261.8" y="647.4">CIB4</text>
<path d="M264.2 648.0h4.0" class="gb"/>
<text x="266.0" y="649.5">AGBL5</text>
<path d="M268.1 650.1h2.2" class="gb"/>
<text x="270.6" y="651.7">HADHB</text>
<path d="M274.1 652.3h4.7" class="gb"/>
<text x="275.0" y="653.8">RBKS</text>
<path d="M278.9 654.4h3.0" class="gb"/>
<text x="279.5" y="656.0">SUPT7L</text>
<path d="M284.7 656.6h4.3" class="gb"/>
<text x="284.5" y="658.1">ZNF2</text>
<path d="M286.5 658.7h4.7" class="gb"/>
<text x="288.7" y="660.2">CAD</text>
<path d="M289.7 660.8h3.6" class="gb"/>
<text x="293.2" y="662.4">CGREF1</text>
<path d="M298.4 663.0h3.6" class="gb"/>
<text x="298.5" y="664.5">SELI</text>
<path d="M298.9 665.1h4.2" class="gb"/>
<text x="303.2" y="666.7">ABCG5</text>
<path d="M303.9 667.3h3.1" class="gb"/>
<text x="307.6" y="668.8">CENPA</text>
<path d="M310.4 669.4h4.6" class="gb"/>
<text x="312.1" y="670.9">ZNF512</text>
<path d="M316.2 671.5h2.3" class="gb"/>
<text x="309.7" y="643.1">ZNF513</text>
<path d="M315.7 643.7h3.6" class="gb"/>
<text x="310.7" y="645.6">SLC5A6</text>
<path d="M315.4 646.2h4.4" class="gb"/>
<text x="312.5" y="648.1">ZNF2</text>
<path d="M313.4 648.7h2.3" class="gb"/>
<text x="313.2" y="650.5">MIR4263</text>
<path d="M320.2 651.1h3.4" class="gb"/>
<text x="314.4" y="653.0">MPV17</text>
<path d="M315.1 653.6h2.8" class="gb"/>
<text x="316.6" y="655.5">KCNK3</text>
<path d="M320.4 656.1h2.2" class="gb"/>
<text x="317.3" y="658.0">CAD</text>
<path d="M320.3 658.6h2.2" class="gb"/>
<text x="318.4" y="660.4">PREB</text>
<path d="M319.8 661.0h2.6" class="gb"/>
<text x="320.3" y="662.9">TMEM214</text>
<path d="M322.4 663.5h4.0" class="gb"/>
<text x="323.7" y="643.1">FNDC4</text>
<path d="M326.2 643.7h2.1" class="gb"/>
<text x="324.7" y="645.5">SLC5A6</text>
<path d="M324.8 646.1h3.6" class="gb"/>
<text x="325.4" y="647.9">CCDC121</text>
<path d="M329.2 648.5h4.3" class="gb"/>
<text x="327.1" y="650.3">DRC1</text>
<path d="M329.7 650.9h4.0" class="gb"/>
<text x="327.9" y="652.6">IFT172</text>
<path d="M332.3 653.2h2.8" class="gb"/>
<text x="329.2" y="655.0">EMILIN1</text>
<path d="M330.8 655.6h4.8" class="gb"/>
<text x="329.6" y="657.4">CGREF1</text>
<path d="M333.5 658.0h3.4" class="gb"/>
<text x="331.0" y="659.8">BRE</text>
<path d="M332.4 660.4h2.4" class="gb"/>
<text x="332.0" y="662.2">GTF3C2</text>
<path d="M333.5 662.8h4.8" class="gb"/>
<text x="333.4" y="664.5">AGBL5</text>
<path d="M335.7 665.1h4.6" class="gb"/>
<text x="334.1" y="666.9">FAM59B</text>
<path d="M335.1 667.5h4.5" class="gb"/>
<text x="335.1" y="669.3">EIF2B4</text>
<path d="M341.6 669.9h2.9" class="gb"/>
<text x="336.4" y="671.7">AGBL5</text>
<path d="M337.9 672.3h4.7" class="gb"/>
<text x="342.7" y="643.1">SUPT7L</text>
<path d="M346.8 643.7h4.3" class="gb"/>
<text x="344.4" y="645.3">IFT172</text>
<path d="M349.9 645.9h2.7" class="gb"/>
<text x="345.4" y="647.5">GPR113</text>
<path d="M346.1 648.1h3.2" class="gb"/>
<text x="347.5" y="649.7">PPM1G</text>
<path d="M348.2 650.3h3.7" class="gb"/>
<text x="349.0" y="651.9">SLC4A1AP</text>
<path d="M349.3 652.5h3.9" class="gb"/>
<text x="350.7" y="654.1">CGREF1</text>
<path d="M351.3 654.7h3.8" class="gb"/>
<text x="351.6" y="656.3">SLC5A6</text>
<path d="M355.0 656.9h4.0" class="gb"/>
<text x="353.6" y="658.5">GAREM2</text>
<path d="M355.5 659.1h3.4" class="gb"/>
<text x="354.7" y="660.7">GPN1</text>
<path d="M355.7 661.3h3.3" class="gb"/>
<text x="303.6" y="666.6">EMILIN1</text>
<path d="M303.9 667.2h4.1" class="gb"/>
<text x="305.9" y="669.1">MRPL33</text>
<path d="M311.1 669.7h4.6" class="gb"/>
<text x="307.6" y="671.7">XAB1</text>
<path d="M308.2 672.3h4.5" class="gb"/>
<path d="M370.9 664.3H387.1" class="gb"/>
<text x="379.0" y="663.8" text-anchor="middle">ABCG11</text>
<path d="M370.9 666.3H379.5" class="gb"/>
<text x="375.2" y="665.8" text-anchor="middle">GPR113</text>
<path d="M379.5 669.4H415.0" class="gb"/>
<text x="397.3" y="668.9" text-anchor="middle">SAEALKN</text>
<text x="417.9" y="671.4">PGK1</text>
<text x="423.3" y="642.8">PLB1</text>
</g>
<path d="M489.0 573.4V566.0M645.0 573.4V558.0M650.0 573.4V560.0M655.5 573.4V556.0" fill="none" stroke="#9cc8f2" stroke-width="0.7"/>
<g transform="scale(0.5)"><path d="M1004 1138m2 2m11-9m15 16m22-1m10-3m88 3m33-1m27-5m5-5" class="mc3"/><path d="M990 1127m3 5m9 8m3-15m20 6m11 8m21 4m8-3m25 2m2-8m2 5m9-10m1 11m14-12m3 2m3 9m16-10m2-8m4 2m27 2m1 11m0 3m5-16m5 18m17 5m14-3m32-16m9 1m32 6m6-17" class="mcy"/><path d="M1056 1136m0 10m0-10m11 6m12 0m24 4m1-5m2-12m23 4m16 9m31-11m4 9m20-5m7 4m5-16m3 18m44 5m19 0m7 0m1-17m14 10" class="mc3"/><path d="M999 1130m51-3m36-3m14 12m5-10m16 11m8 1m20 6m0-3m1-14m12 10m21-9m17-10m7 14m19 6m7-1m30-7m25-3m15 18" class="mcy"/><path d="M984 1140m26 2m13-11m10 5m35 3m11 0m4 2m17-5m38-3m11-3m31 10m1 4m15 1m8 0m22-4m67-20m16 25" class="mc3"/><path d="M981 1134m83 6m1-4m9 1m0 6m14-15m8 3m1-5m14 19m36-14m3 9m10-16m1 11m16 4m7 3m15-5m7-4m11-9m39 12m29 3m2-20m11 24m9-42" class="mcy"/><path d="M982 1128m27 2m68 10m33 5m36 0m5-3m6-6m18 9m37 1m67 1m3-1m20-19" class="mc3"/><path d="M1006 1127m0 1m12 8m9 7m1-10m4 2m44-8m11 3m10 6m4 2m10 8m29-4m2-21m7 24m5-17m15 15m3-6m8-3m2-7m13 1m10-1m1 3m6-10m22 2m4 17m14-6m30 13m11-25" class="mcy"/><path d="M1022 1146m14-4m50-8m19 4m4-7m26 4m27 6m19 1m19 3m10-2m57-2m3-19m5 16m11-7m1 13" class="mc3"/><path d="M981 1131m4 5m9-6m26 11m18-9m3-2m36 13m47-4m3-14m11-2m11-22m2 37m3-14m14 8m13-11m9 2m2 13m33-10m6 13m7-8m11 3m2 12m22-13m8 5m13-18" class="mcy"/><path d="M1020 1141m7 2m36 1m3-1m17-5m2-8m9 11m4 1m13-12m64 14m9 2m2-6m81-4m17 9" class="mc3"/><path d="M985 1131m18-7m7 16m1-20m5 6m22 14m5-16m9 18m26-1m1-7m9 5m42-5m2 6m17-5m2 11m19 0m48-9m4 4m14 2m2-10m30-11m3 12m5-19m25 26m3-23m4 29" class="mcy"/><path d="M993 1142m3-4m25 5m29-3m12 2m102 5m33-1m24-12m5-3m9 14m43-2m18-7" class="mc3"/><path d="M981 1127m50 1m6 1m14 10m6-2m5-7m11 0m19 4m9 6m32-15m12 12m8 6m8-12m4 2m6-7m2 2m33-2m2 5m2-15m1 22m6 5m29-17m9 6m31-9m5 1m1 7m6-7m2 12" class="mcy"/><path d="M991 1145m29 1m27-10m15 11m1 0m11-12m25 9m7-17m4 8m19 11m25-5m17 3m4-2m5-1m35 1m71 0" class="mc3"/><path d="M1001 1141m14-18m2 3m20-10m14 21m2-13m40 16m20-11m9 6m8 5m18 0m7-16m1 16m20-9m17-4m25 15m12-2m19-9m6-6m7 2m7-6m3 0m20 1m12-6" class="mcy"/><path d="M990 1134m61 13m2-25m7 23m32-3m16-3m18-1m16 4m18-3m78 6m45-13m19 7" class="mc3"/><path d="M986 1139m17 1m1 2m15-19m0 2m55 21m17-10m1 1m6 7m0-17m26 11m7-2m2-6m6-4m6 17m5-19m56 14m23-11m11 5m6-11m2 14m14 8m1-11m2-8m2 1m7-8m6-13m4 29" class="mcy"/><path d="M996 1146m2-5m7 3m67-1m122-7m20 6m58 4m31-21" class="mc3"/><path d="M986 1137m23-9m0 0m6 3m3-4m4 8m27-9m0 5m24 12m8-1m1-17m37 8m0-3m1 9m11-5m21 0m12 2m2-6m18 13m1-8m3 6m20-13m28 12m1-11m4-1m6-6m6 1m21-4m12-2m1 15m10-17m4 5" class="mcy"/><path d="M997 1143m62-2m4-2m20 5m27-3m19-2m10-11m4 6m3 1m18 10m43-9m17 8m56-19m28 19" class="mc3"/><path d="M996 1120m2 18m1-7m9 6m0-10m15-1m13 3m21 10m1 1m3-12m5 3m4-3m8 4m3 2m24 2m4 9m3-14m27-7m17 12m11 6m19-16m24 10m11-2m30 13m16-17m1-22" class="mcy"/><path d="M1013 1131m18 14m18-2m16-4m16 5m63-9m26 7m39 3m6-15m8 12m51-5m16-6m14 15" class="mc3"/><path d="M986 1129m1 5m3 4m11-5m0-10m1 23m4-16m5-5m2 5m21 3m9 12m9-7m4-21m21 13m11-5m23 7m4 10m1-15m31 6m1 6m19-7m26-6m29-2m24 14m13-15m8 1m0 22" class="mcy"/><path d="M998 1141m5 5m17-4m3 1m41 3m6-3m2 0m27-11m31 4m0 6m4 4m7-5m5 4m5 1m6-2m53-6m20 3m59 0m1 5m8 0" class="mc3"/><path d="M981 1138m15-11m7 18m2-22m61 5m11 11m27-5m2 0m22 2m4-2m13 3m2-6m4 5m11-12m19 23m2-12m85-4m23 0m5-6m11-4" class="mcy"/><path d="M995 1144m8 0m21 2m5-1m5 1m1-1m12-3m1-4m7 1m5-1m8 7m28-15m23 8m25 0m72 5m9-2m21-9m19-8m1 22" class="mc3"/><path d="M982 1128m14 15m32-10m22 0m5 0m8 0m6-8m4 0m6 18m21-19m30 7m1 14m6-19m30 5m36-6m36-5m9 17m6-5m9 10m17-15m6 16" class="mcy"/><path d="M987 1134m32 8m21-4m17 5m15-12m3 7m4 0m60-1m15 2m29 3m9 3m17-4m8 1m11 3m51-9" class="mc3"/><path d="M1007 1131m21 6m20-1m11 3m0-4m6-4m50 4m10-1m25-47m17 41m3-2m3-1m12 18m5-4m8-12m8-4m1 10m5 8m16-19m1 7m9 14m1-45m6 48m24-16m1-8" class="mcy"/><path d="M1000 1131m39 15m48 0m9 0m3-15m13 15m17-15m15 13m37-6m16 7m4-16m4 17m17-5m7-5m14 9m1-22m53 9" class="mc3"/><path d="M992 1122m13 8m8 5m1-15m3 20m9-8m17-1m13-3m61 15m6-16m31 3m6-4m34 13m38-14m0 4m8 14m3-14m11 2m1-1m5-5m1 7m40 5m3-8" class="mcy"/><path d="M985 1139m28-8m3 11m9-8m74 11m16-2m42-4m17 2m37-8m19 10m4-5m10 8m14-12m5 4m4 0m9 7m15-3m15-2" class="mc3"/><path d="M987 1129m31-14m36 14m6 5m8-3m22 0m10-3m9-7m2 8m3-4m3 8m13-4m23 11m68-12m12 7m8 11m11-23m1 8m3-1m5-5m18-1m26 16" class="mcy"/><path d="M983 1135m1 10m14-1m15-4m36 1m33 0m18 3m1-3m25 5m23-6m11-4m10 3m26 2m20-6m25 10m8-4" class="mc3"/><path d="M989 1129m7 5m17-13m1 8m14 0m13 10m12-2m20-2m6-13m8 5m8 11m2-11m2 18m7-10m22 0m14-5m5 5m27-4m20 6m1-7m0 2m46 2m2-6m13 1" class="mcy"/><path d="M991 1144m48-16m14-3m2 18m50 4m5 0m39-1m23 1m3-25m4 20m5 0m8-13m70 17m10-5m14-1" class="mc3"/><path d="M995 1119m58 10m8 3m11 10m3-9m13-6m18 19m12-11m15-2m25-11m1 6m10-1m12 4m22 7m12-8m5-2m10 9m10-1m5 1m5-11m2 7m14-3m34-3m0-3m7 16" class="mcy"/><path d="M1003 1145m24-12m12 7m0-2m26 9m56-10m28 5m40 5m27-2m5-4m16-6m16 5m5 1m4 2m5 3m11-10" class="mc3"/><path d="M985 1128m6 8m23-15m5 17m46-6m36 8m21-13m9 8m1 8m1-6m30-11m1 13m16-12m19 3m1 10m1-13m7 1m17 8m13-8m4 0m10-4m12 3m34 17m1-21" class="mcy"/><path d="M1041 1144m2 1m5-1m4-9m17 5m18 6m3-7m10 7m33-5m22 0m7 2m11-12m69 4m34-2m3-5m11 16" class="mc3"/><path d="M988 1126m20-2m13-1m2 22m0-4m11-14m1 7m6 10m39-20m4 4m15 1m5 11m3-16m4 21m15-19m14-3m4 17m13-5m6 12m18-18m4 9m34-2m34-8m18 1" class="mcy"/><path d="M987 1127m11 16m10-16m31 16m26 1m26-4m24 1m10-11m22 12m7-5m1 8m1-5m77 7m1-2m7-15m39 15m8-4m5-7m11 10" class="mc3"/><path d="M1011 1121m1-16m8 17m2-2m1 9m1 10m4 5m5 0m50-19m30-2m15 23m22-4m3-8m11 5m16-17m3 16m18 0m7-19m17 21m46-21m11 17" class="mcy"/><path d="M1044 1132m8 9m21-2m18 5m15-3m3-5m3-1m44 3m12 5m51-2m55 3m26-13m0 9m7 6" class="mc3"/><path d="M987 1121m31 8m19 0m37 0m18 2m18-9m2 0m3 8m4-2m7 14m2 4m13-11m5 4m2-16m19 14m5-15m13 12m16 0m66-12m0 4m4-25m4 37m10-22m5 12m13-10m2-3" class="mcy"/><path d="M995 1140m9 5m4 2m27-12m24 10m2-3m11 3m71-19m12 19m36 1m31-11m3 3m26-2m0-1m3 10m14-2" class="mc3"/><path d="M987 1132m30-6m21-1m3 2m10 18m3-16m3 4m21-7m9 6m39 6m31-6m5-3m2 15m12-13m4-8m14 19m8-15m23 3m17 2m6-9m10 17m19-16m21 5m9 3" class="mcy"/><path d="M1018 1146m3-7m27 4m43-4m59 4m49 3" class="mc3"/><path d="M984 1120m2 26m22-13m94-13m76 5m3 11m18-8m10-6m22 3m2 16" class="mcy"/><path d="M1154 1104m2-3m13 14m11 2m4-2m8 0" class="mgr"/><path d="M1153 1100m5 1m5-1m5 16m9-2m8 0" class="mgr"/><path d="M1157 1103m2 1m11 9m2 4m13-3m6 1" class="mgr"/><path d="M1123 1109m37-4m3 0m1-5m26 16" class="mgr"/><path d="M1150 1125m0 0" class="mye"/><path d="M1117 1132m2-8m19 9" class="mdk"/><path d="M1129 1135m14-3" class="mye"/><path d="M1131 1131m0 0" class="mdk"/><path d="M1140 1136m10-7" class="mye"/><path d="M1118 1132m6-4m20-2m85-5" class="mdk"/><path d="M1139 1134m0 0" class="mye"/><path d="M1130 1131m0 0" class="mdk"/><path d="M1135 1121m9 3" class="mye"/><path d="M1116 1136m20-11" class="mdk"/><path d="M1119 1123m3 5m8-3m8 10m12-4" class="mye"/><path d="M1122 1127m102-6" class="mdk"/><path d="M1132 1125m0 0" class="mye"/><path d="M1225 1120m0 0" class="mdk"/><path d="M1129 1134m1-8m1 7" class="mye"/><path d="M1131 1126m0 0" class="mdk"/><path d="M1133 1128m0 0" class="mye"/><path d="M1137 1125m6 0" class="mdk"/><path d="M1118 1126m26 0" class="mye"/><path d="M1227 1121m0 0" class="mdk"/><path d="M1127 1107m23-16m3 6" class="mor"/><path d="M1150 1074m1 4m1 4m0 12" class="mre"/></g>
<path d="M575.0 533.2l1.7 1.7-1.7 1.7-1.7-1.7z" fill="#9a1de0" stroke="#6a10a0" stroke-width="0.3"/>
<text x="575.3" y="534.0" text-anchor="middle" class="ll">rs780096</text>
<path d="M488.5 634.5V630.0M506.5 634.5V618.1M644.7 634.5V618.7M650.7 634.5V621.1M656.2 634.5V621.9" fill="none" stroke="#9cc8f2" stroke-width="0.7"/>
<g transform="scale(0.5)"><path d="M1021 1269m59-1m1 1m18-2m1-2m68 4m0-3m11-7m1 9m14-17m33 16m16 0m4 1m14-7m45 7" class="mc3"/><path d="M983 1261m42-2m3 1m32-1m3-6m16 5m21-3m15 5m18 5m5-6m7-5m33 0m14 8m8-20m6 11m4 5m4-11m4 18m8-1m2 4m14-11m2 6m11-8m0 6m36 2" class="mcy"/><path d="M1011 1268m59 1m9-8m21 7m20-15m27-2m7 11m15 3m15-8m8 6m24 4m2-13m37 15m21-6m5-3m0 7m10 1m6-1" class="mc3"/><path d="M1007 1264m15-5m34 5m1-4m11 5m32-4m13-1m11-5m17-2m5 13m16-9m41 10m59-13m3 11m1-11m6 0m14 4m7 1m1-1m7 3m2 3m2-1" class="mcy"/><path d="M1009 1262m39 2m4 3m0-2m3-2m10 1m32 0m13 5m50-5m22-10m10 7m8 7m11 0m15-5m10-1m22-1m33 5" class="mc3"/><path d="M1004 1265m9-6m5 2m3-4m3 0m3 3m0-2m17 3m33-7m7 4m3-7m23 3m6 8m11-1m3-5m12 0m7-8m27 6m5 14m48-11m22 9m3-7m32 5" class="mcy"/><path d="M994 1267m33-1m13-3m23 3m26-6m2 7m12-5m9 6m7-1m19 1m4 0m13-3m10-2m20 3m1 1m22 1m18 1m34-3m11-3m5 4m21-2" class="mc3"/><path d="M1005 1260m22 6m8-3m37-8m31 1m47-6m7 8m2-1m1-7m1 16m8-10m23 3m9-6m1 12m33-4m18 0m5 0m26-1m18 0" class="mcy"/><path d="M981 1269m0-6m2 3m8 3m57-6m0 0m4 1m78-2m15-6m0 11m12-9m2 9m9-1m12 1m8-6m34-4m31 1m30 1m4 6" class="mc3"/><path d="M988 1269m10-9m16 0m17 4m7-12m29 3m58 14m13-11m2 11m13-20m27 3m9-3m5 12m3 4m9-22m11 20m19 1m8 0m15-5m20 2m14 2" class="mcy"/><path d="M1031 1269m25-11m8 7m5 4m26-6m10 5m5 0m7-5m8 2m5 0m3-7m22 2m5 6m14-3m7 6m12-8m89-1m8 8m8-1" class="mc3"/><path d="M1013 1265m15 2m10-2m22-15m17 16m40-6m14-6m3 1m9-3m9 13m8-1m6-17m2 15m5 0m21-22m8 14m5 3m38 5m1-1m1 5m7-6" class="mcy"/><path d="M1026 1269m21-1m2-3m3 3m1-11m28 9m13-1m10-1m67 4m55-1m12-1m3 0m3-4m1 2m0 5m25-1m2 0m2-1m2 1m9-1m17 1" class="mc3"/><path d="M992 1268m11-10m24 1m8-2m3 5m5 0m13-5m1 4m65-11m7 8m9-3m71 2m1-3m4-5m7 14m1-8m7-4m52 8m23 1" class="mcy"/><path d="M1004 1268m5-7m114-4m11 11m5-5m15 2m9 1m0 2m2-6m18 4m38-6m8 7m0-2m16 0m8 3m13-3m7 1m4-1m12 0" class="mc3"/><path d="M981 1264m19-5m68-3m11 1m36 4m6-6m21-5m6 9m1-9m2 4m2-3m1 0m17 3m18 4m14 1m11 5m13-12m10 13m9-1m4-1m45 6" class="mcy"/><path d="M1008 1268m2-5m54-1m23 7m30-1m3-7m23 2m31 5m13-6m2-2m42 7m28 0m5-4m15 4m2-1m20 1m1 2" class="mc3"/><path d="M986 1267m23-1m23-6m6-6m13 12m25-3m21-11m3 7m19-10m7 10m60-5m9 9m5-12m19 4m11-1m4 0m1 3m5-1m10 5m4-5m46 8m4-1m2 5" class="mcy"/><path d="M998 1264m3 4m2-2m19 1m19-9m4 8m9 1m4-8m9-5m11 12m3-9m23 6m42 5m8 1m6-7m22 3m17 2m42 2m6-10m20-2m19 9m0 3m2-3m14 1m3 1" class="mc3"/><path d="M985 1262m6 5m10-3m48 2m11-5m55-5m10-5m7 18m30-16m27-1m15 1m25 9m8 2m13-6m0 7" class="mcy"/><path d="M1016 1260m13 6m6 0m3 0m39 2m10-5m25 1m8 1m25 2m45-9m12 10m26-11m23 11m17-2m16-6" class="mc3"/><path d="M990 1264m1 1m0-4m22 2m10-4m8 4m4-4m19-3m7 10m14-12m4 2m40 2m10-6m6 15m20 1m19-17m1 8m8 9m3-2m9-8m2-6m61 16m11-4m10-4m13 1" class="mcy"/><path d="M992 1267m7-2m4 1m9-2m0-2m19 4m5 1m14 2m6-7m95 4m13 1m3 1m10-7m11 6m6-3m41 5m22-9m20 8m8-2m7 1m10-1" class="mc3"/><path d="M986 1266m31-5m55-3m8-3m5 2m1 9m7-14m16 0m3 7m2 1m28 3m8-15m7 4m3 14m2-4m21-3m13 7m38-4m29 3" class="mcy"/><path d="M1036 1265m11 2m18-10m1 6m11-3m1 4m55-6m3 9m28-9m7 5m3 6m17-3m33 3m0-7m15 0m2-2m15 9m5-1" class="mc3"/><path d="M981 1260m23-2m15 3m8-2m1 0m35 1m7 5m8-1m1-10m4 12m6-7m43-2m10-6m22 0m44 4m13 5m53-4m3 12m10-7m3-1m2-3m4 2" class="mcy"/><path d="M986 1269m3-1m5-5m13 3m1 0m43-2m64 2m2-11m11 14m36 0m19 0m31-1m3-7m6 4m7 4m31-3m19-3m14 1m7 2m7-2" class="mc3"/><path d="M985 1264m6-2m31 1m3-4m27 3m3-4m12-3m11 1m31 1m13-3m8 9m26 3m31-9m4 1m5-3m35-1m3-3m3 13m24-7m44 5" class="mcy"/><path d="M992 1265m5 2m13 1m17-4m5 3m5 1m4-2m59 1m45-4m32 5m33-8m15 8m40-3m42-4" class="mc3"/><path d="M995 1264m6-2m8 0m19-4m7 0m8-5m6 12m8-2m23-9m9 0m38 8m14-12m1 1m19 9m20 6m10-9m2 1m22-9m16 17m13-13m12 15m3-7m15 2m11-2m9 1m7-2" class="mcy"/><path d="M1007 1265m30 1m0 2m28-2m7-8m14-2m12 13m1-2m26-16m18 17m40-7m86 5m32 1m1-1m1 0" class="mc3"/><path d="M988 1263m9 3m1 1m36-6m5 2m18-8m8 13m9-10m33 10m10-15m38 1m11 5m0-7m22-13m12 21m8-15m8 18m17-11m8 4m25 11m1-7m5-2m1-4m4 2m30 10" class="mcy"/><path d="M994 1269m31-3m0 0m2 0m3-1m23 0m3-6m13 9m23-6m13-1m44 7m10-4m1 5m8 0m5-5m34-5m10 7m0-4m54 5" class="mc3"/><path d="M1007 1268m11-2m13-4m3-6m21 5m12-8m5 5m27 7m18-5m20-7m5 8m20-6m30-1m1 3m3 6m7-7m6 3m40-1m15-1m3-3m27 12" class="mcy"/><path d="M1008 1268m8 1m8-2m11 1m10-7m5 2m39 3m62-4m5 6m13-9m5 7m7-3m6 4m24-5m3 7m6-7m19 0m5 6m39-1m6 1m4-5m1 4" class="mc3"/><path d="M994 1263m34 1m57-8m9 4m1-3m10 1m8-5m10 1m25 9m1-9m15-5m12 10m5-5m37 9m10-8m30 4m4 0m11 0" class="mcy"/><path d="M991 1268m2-2m6 3m0-3m40-4m3 6m9-6m23 1m3 1m103-1m13-4m8 4m1-6m24 8m12 2m17-3m33 3" class="mc3"/><path d="M982 1266m22 1m1-7m7-2m1 1m19 5m20-7m19-2m4-2m25 12m10-2m22 6m30-14m13-2m7-3m1 7m8 6m7-5m5 2m7 4m3 5m55-11m7 6" class="mcy"/><path d="M997 1266m2 2m30 0m0-5m16-8m10 8m3 2m4-8m2 4m29 6m3 1m6-4m30-1m44 1m8-1m4 2m21-8m39 6m2 4m55-3m1 3m2 2" class="mc3"/><path d="M995 1265m12-6m8-1m1 7m47 4m20-13m12-2m23-6m31 7m7 3m16 2m15 7m42-2m10-13m5 17m26-8m6 5m5 0" class="mcy"/><path d="M1028 1269m20-6m12 2m12 3m8-4m15 4m2-2m12-4m6 2m31 1m36 4m5-4m19-11m41 11m1-4m9-3m14 10m11-4m17 5" class="mc3"/><path d="M985 1261m19-3m2 1m47-1m19-3m9-2m59 4m2-3m15 4m4 0m18 8m21-9m11 3m2-13m22 8m13-1m15 7m8-3m4-1m24 5m5 3" class="mcy"/><path d="M985 1268m14-2m2 0m15-3m61 3m14-2m39 2m8 0m4-12m2 14m12-1m24 1m1-6m29-9m25 13m19-3m19-2m28 6m6 2" class="mc3"/><path d="M988 1261m6 0m47-1m20 0m2 1m4-5m5 5m3-7m32 8m0 2m52-7m43-2m0 2m32 1m24 1m1-2m18-3m17 12m1 0m8-1m5-5" class="mcy"/><path d="M983 1268m15 0m7-1m59 1m21-4m69 5m6-9m38 3m3 2m16 4m56-7m6 5" class="mc3"/><path d="M995 1268m30-7m8 8m35-14m0 1m2 4m3-3m11-1m1-2m12 6m5-11m5 12m8-8m20 0m5 9m20-11m31 5m1 8m4-13m18 6m2-5m13 10m16-12m1 5m10 2m5 10m38-8m4 0" class="mcy"/><path d="M981 1266m10 2m23 0m7-2m16 2m6 0m33-7m3 8m43-7m6 2m12 4m30-8m12 1m17 4m72 1m0 1m15 1m3 1m7 0" class="mc3"/><path d="M986 1262m9-1m37-4m41 1m13-6m2 5m2 0m8-2m0 3m2-5m17-3m1-1m51 9m3 0m1 3m11-10m33 6m13-1m20-5m12 5m13-1" class="mcy"/><path d="M1070 1265m140 4m87-1" class="mc3"/><path d="M1159 1265m31-8m59 1m22-2" class="mcy"/><path d="M1120 1239m7 3m10 1m5-6m11-8m13-7" class="mgr"/><path d="M1129 1234m6 8m8-11m1-3m20-6m38 12" class="mgr"/><path d="M1126 1238m4-3m23 8m5-20m23 8m10 1" class="mgr"/><path d="M1118 1230m13 0m5 11m7-6m3-6m21-3" class="mgr"/><path d="M1137 1245m13-8m2-5m9-10m17 11m32 2" class="mgr"/><path d="M1134 1236m2-1m1 8m25-22m27 11m22 3" class="mgr"/><path d="M1148 1242m8-21m23 11m10 1m14 1" class="mgr"/><path d="M1134 1241m0 0" class="mye"/><path d="M1122 1238m3 4m2-4" class="mdk"/><path d="M1144 1243m0 0" class="mye"/><path d="M1118 1240m15 3m2 1m7-5m0 4m2-1" class="mdk"/><path d="M1141 1241m0 0" class="mye"/><path d="M1120 1242m8-3m6 4m9-5m6 6" class="mdk"/><path d="M1141 1238m0 0" class="mye"/><path d="M1126 1238m0 0" class="mdk"/><path d="M1146 1242m0 0" class="mye"/><path d="M1118 1239m12 3" class="mdk"/><path d="M1132 1243m16-5" class="mye"/><path d="M1123 1242m0 0" class="mdk"/><path d="M1119 1244m0 0" class="mye"/><path d="M1126 1193m22 3m4 5" class="mor"/><path d="M1150 1191m2 23" class="mre"/></g>
<path d="M575.0 602.9l1.7 1.7-1.7 1.7-1.7-1.7z" fill="#9a1de0" stroke="#6a10a0" stroke-width="0.3"/>
<rect x="575.7" y="599.2" width="21.2" height="5.2" rx="0.6" fill="#fff" stroke="#555" stroke-width="0.5"/>
<text x="586.3" y="603.3" text-anchor="middle" class="ll">rs780096</text>
<text class="rb" x="481.9" y="515.4" font-size="10.3">(G)</text>
<text class="rb" x="574.0" y="522.1" font-size="7.2" text-anchor="middle" textLength="50.7" lengthAdjust="spacingAndGlyphs">IFT172 in Thyroid</text>
<text class="rb" x="573.4" y="585.3" font-size="7.2" text-anchor="middle" textLength="15.5" lengthAdjust="spacingAndGlyphs">GDM</text>
<rect x="480.2" y="529.7" width="185.5" height="45.5" class="fr"/>
<path d="M480.2 573.4h-1.5M480.2 565.0h-1.5M480.2 556.7h-1.5M480.2 548.3h-1.5M480.2 540.0h-1.5M480.2 531.6h-1.5M665.7 573.9h1.5M665.7 563.3h1.5M665.7 552.8h1.5M665.7 542.2h1.5M665.7 531.6h1.5" class="tk"/>
<g class="tl" text-anchor="end">
<text x="478.0" y="575.3">0</text>
<text x="478.0" y="566.9">1</text>
<text x="478.0" y="558.6">2</text>
<text x="478.0" y="550.2">3</text>
<text x="478.0" y="541.9">4</text>
<text x="478.0" y="533.5">5</text>
</g><g class="tl">
<text x="667.9" y="575.8">0</text>
<text x="667.9" y="565.2">25</text>
<text x="667.9" y="554.6">50</text>
<text x="667.9" y="544.1">75</text>
<text x="667.9" y="533.5">100</text>
</g>
<text class="yl" transform="translate(467.1 552.5) rotate(-90)" text-anchor="middle">&#8722;log<tspan font-size="3.6" dy="1.2">10</tspan><tspan dy="-1.2">(</tspan><tspan font-style="italic">p</tspan>)</text>
<text class="yl" transform="translate(678.5 552.5) rotate(90)" text-anchor="middle" textLength="36.4" lengthAdjust="spacingAndGlyphs">Recomb. rate</text>
<rect x="480.2" y="590.4" width="185.5" height="45.8" class="fr"/>
<path d="M480.2 634.5h-1.5M480.2 623.9h-1.5M480.2 613.2h-1.5M480.2 602.6h-1.5M480.2 592.0h-1.5M665.7 634.5h1.5M665.7 624.0h1.5M665.7 613.4h1.5M665.7 602.8h1.5M665.7 592.3h1.5" class="tk"/>
<g class="tl" text-anchor="end">
<text x="478.0" y="636.4">0</text>
<text x="478.0" y="625.8">5</text>
<text x="478.0" y="615.1">10</text>
<text x="478.0" y="604.5">15</text>
<text x="478.0" y="593.9">20</text>
</g><g class="tl">
<text x="667.9" y="636.4">0</text>
<text x="667.9" y="625.9">25</text>
<text x="667.9" y="615.3">50</text>
<text x="667.9" y="604.7">75</text>
<text x="667.9" y="594.2">100</text>
</g>
<text class="yl" transform="translate(467.1 613.3) rotate(-90)" text-anchor="middle">&#8722;log<tspan font-size="3.6" dy="1.2">10</tspan><tspan dy="-1.2">(</tspan><tspan font-style="italic">p</tspan>)</text>
<text class="yl" transform="translate(678.5 613.3) rotate(90)" text-anchor="middle" textLength="36.4" lengthAdjust="spacingAndGlyphs">Recomb. rate</text>
<rect x="480.2" y="638.7" width="185.5" height="36.6" class="fr"/>
<g class="xt" text-anchor="middle">
<text x="514.6" y="682.1">27000000</text>
<text x="555.3" y="682.1">27500000</text>
<text x="595.9" y="682.1">28000000</text>
<text x="636.6" y="682.1">28500000</text>
</g>
<path d="M514.6 675.3v1.6M555.3 675.3v1.6M595.9 675.3v1.6M636.6 675.3v1.6" class="tk"/>
<text class="xl" x="572.9" y="690.1" text-anchor="middle" textLength="72" lengthAdjust="spacingAndGlyphs">Position on chromosome 2</text>
<rect x="493.3" y="693.8" width="159.3" height="10.2" class="lg"/>
<text x="495.1" y="700.6" class="lt">r2</text>
<circle cx="504.7" cy="698.9" r="1.2" fill="none" stroke="#777" stroke-width="0.5"/>
<text x="509.9" y="700.6" class="lt">miss</text>
<circle cx="525.3" cy="698.9" r="1.35" fill="#74e6dc" stroke="#555" stroke-width="0.35"/>
<text x="530.4" y="700.6" class="lt">0.0−0.2</text>
<circle cx="551.5" cy="698.9" r="1.35" fill="#62d43c" stroke="#555" stroke-width="0.35"/>
<text x="556.7" y="700.6" class="lt">0.2−0.4</text>
<circle cx="578.1" cy="698.9" r="1.35" fill="#e3c11e" stroke="#555" stroke-width="0.35"/>
<text x="582.9" y="700.6" class="lt">0.4−0.6</text>
<circle cx="604.1" cy="698.9" r="1.35" fill="#e58a2e" stroke="#555" stroke-width="0.35"/>
<text x="609.5" y="700.6" class="lt">0.6−0.8</text>
<circle cx="630.5" cy="698.9" r="1.35" fill="#c8341c" stroke="#555" stroke-width="0.35"/>
<text x="635.6" y="700.6" class="lt">0.8−1.0</text>
<g class="gt" font-size="3.4">
<text x="476.6" y="643.1">MAPRE3</text>
<path d="M478.2 643.7h4.4" class="gb"/>
<text x="481.0" y="645.3">HADHA</text>
<path d="M482.0 645.9h5.0" class="gb"/>
<text x="485.7" y="647.4">CGREF1</text>
<path d="M489.1 648.0h3.8" class="gb"/>
<text x="490.9" y="649.5">TMEM214</text>
<path d="M498.4 650.1h3.1" class="gb"/>
<text x="495.4" y="651.7">FNDC4</text>
<path d="M495.6 652.3h3.9" class="gb"/>
<text x="499.9" y="653.8">C2orf16</text>
<path d="M501.5 654.4h3.9" class="gb"/>
<text x="504.0" y="656.0">ABCG5</text>
<path d="M505.9 656.6h4.5" class="gb"/>
<text x="508.6" y="658.1">DPYSL5</text>
<path d="M510.2 658.7h4.0" class="gb"/>
<text x="513.2" y="660.2">EIF2B4</text>
<path d="M518.5 660.8h4.4" class="gb"/>
<text x="518.0" y="662.4">CENPA</text>
<path d="M520.4 663.0h2.1" class="gb"/>
<text x="522.7" y="664.5">PREB</text>
<path d="M523.1 665.1h2.3" class="gb"/>
<text x="527.0" y="666.7">MRPL33</text>
<path d="M531.0 667.3h3.5" class="gb"/>
<text x="532.3" y="668.8">PPM1G</text>
<path d="M533.1 669.4h4.9" class="gb"/>
<text x="536.7" y="670.9">DNAJC5G</text>
<path d="M540.7 671.5h3.7" class="gb"/>
<text x="534.3" y="643.1">SLC5A6</text>
<path d="M539.1 643.7h4.0" class="gb"/>
<text x="536.0" y="645.6">SNX17</text>
<path d="M540.0 646.2h4.1" class="gb"/>
<text x="536.5" y="648.1">UCN</text>
<path d="M537.4 648.7h2.7" class="gb"/>
<text x="538.6" y="650.5">DRC1</text>
<path d="M539.7 651.1h3.5" class="gb"/>
<text x="539.3" y="653.0">TRIM54</text>
<path d="M539.7 653.6h2.4" class="gb"/>
<text x="540.9" y="655.5">EIF2B4</text>
<path d="M545.8 656.1h2.4" class="gb"/>
<text x="541.8" y="658.0">TMEM214</text>
<path d="M549.2 658.6h3.3" class="gb"/>
<text x="543.3" y="660.4">SNX17</text>
<path d="M546.4 661.0h2.9" class="gb"/>
<text x="544.5" y="662.9">RBKS</text>
<path d="M547.5 663.5h3.7" class="gb"/>
<text x="547.9" y="643.1">XAB1</text>
<path d="M549.6 643.7h3.2" class="gb"/>
<text x="549.6" y="645.5">BRE</text>
<path d="M549.8 646.1h5.0" class="gb"/>
<text x="550.7" y="647.9">CGREF1</text>
<path d="M551.2 648.5h3.3" class="gb"/>
<text x="551.3" y="650.3">DPYSL5</text>
<path d="M552.2 650.9h4.5" class="gb"/>
<text x="552.6" y="652.6">EMILIN1</text>
<path d="M555.6 653.2h3.7" class="gb"/>
<text x="553.7" y="655.0">PPM1G</text>
<path d="M556.9 655.6h3.1" class="gb"/>
<text x="555.1" y="657.4">PPM1G</text>
<path d="M559.4 658.0h2.9" class="gb"/>
<text x="555.9" y="659.8">NRBP1</text>
<path d="M558.9 660.4h4.2" class="gb"/>
<text x="557.3" y="662.2">C2orf16</text>
<path d="M563.6 662.8h3.0" class="gb"/>
<text x="557.8" y="664.5">EMILIN1</text>
<path d="M562.3 665.1h2.3" class="gb"/>
<text x="559.1" y="666.9">GAREM2</text>
<path d="M562.0 667.5h4.7" class="gb"/>
<text x="560.2" y="669.3">DPYSL5</text>
<path d="M563.7 669.9h4.4" class="gb"/>
<text x="561.7" y="671.7">ZNF512</text>
<path d="M567.0 672.3h2.5" class="gb"/>
<text x="567.3" y="643.1">MAPRE3</text>
<path d="M567.6 643.7h4.5" class="gb"/>
<text x="568.5" y="645.3">DPYSL5</text>
<path d="M570.0 645.9h4.2" class="gb"/>
<text x="570.7" y="647.5">DNAJC5G</text>
<path d="M575.1 648.1h2.6" class="gb"/>
<text x="571.7" y="649.7">SLC30A3</text>
<path d="M580.8 650.3h2.0" class="gb"/>
<text x="573.4" y="651.9">FAM59B</text>
<path d="M577.4 652.5h4.3" class="gb"/>
<text x="575.6" y="654.1">MRPL33</text>
<path d="M575.7 654.7h3.5" class="gb"/>
<text x="576.9" y="656.3">ZNF512</text>
<path d="M579.1 656.9h2.3" class="gb"/>
<text x="578.8" y="658.5">GAREM2</text>
<path d="M580.2 659.1h4.9" class="gb"/>
<text x="580.7" y="660.7">SELI</text>
<path d="M580.7 661.3h4.7" class="gb"/>
<text x="528.2" y="666.6">ZNF513</text>
<path d="M534.9 667.2h2.6" class="gb"/>
<text x="530.6" y="669.1">TMEM214</text>
<path d="M534.7 669.7h4.6" class="gb"/>
<text x="532.3" y="671.7">PREB</text>
<path d="M533.7 672.3h2.2" class="gb"/>
<path d="M596.1 664.3H612.5" class="gb"/>
<text x="604.3" y="663.8" text-anchor="middle">ABCG11</text>
<path d="M596.1 666.3H604.8" class="gb"/>
<text x="600.4" y="665.8" text-anchor="middle">GPR113</text>
<path d="M604.8 669.4H640.7" class="gb"/>
<text x="622.7" y="668.9" text-anchor="middle">SAEALKN</text>
<text x="643.5" y="671.4">PGK1</text>
<text x="649.0" y="642.8">PLB1</text>
<path d="M649.6 672.7H654.5" class="gb"/>
<text x="649.2" y="672.4">FOSL2</text>
</g>
<path d="M32.4 777.7V770.3M188.0 777.7V762.3M193.0 777.7V764.3M198.5 777.7V760.3" fill="none" stroke="#9cc8f2" stroke-width="0.7"/>
<g transform="scale(0.5)"><path d="M90 1546m2 3m12-10m15 16m21-1m11-3m87 3m33-1m27-4m5-6" class="mc3"/><path d="M76 1536m4 5m8 8m4-15m20 6m11 7m21 5m8-3m24 2m2-9m2 5m10-9m1 10m13-11m4 2m3 9m16-11m2-8m3 3m27 1m1 11m0 3m6-16m4 18m17 6m14-3m32-16m9 0m32 6m6-16" class="mcy"/><path d="M142 1545m1 10m0-10m11 5m11 0m25 5m0-5m2-12m24 4m15 8m31-11m5 10m19-6m7 4m5-16m4 18m43 6m19 0m7 0m1-18m14 11" class="mc3"/><path d="M85 1539m51-3m37-3m14 12m4-10m16 10m9 2m19 6m0-4m2-13m12 9m20-8m17-10m7 13m19 6m7-1m30-7m25-3m15 19" class="mcy"/><path d="M71 1549m26 1m12-10m10 4m36 3m10 1m5 2m17-5m37-3m11-3m31 10m1 3m15 2m8 0m22-4m67-20m16 25" class="mc3"/><path d="M68 1542m83 7m1-5m8 2m1 6m13-16m8 4m2-5m14 19m35-14m3 8m11-16m1 12m16 3m6 3m16-4m7-4m10-9m39 12m28 2m3-19m11 24m9-42" class="mcy"/><path d="M68 1537m27 2m68 9m33 6m36 0m5-3m6-6m18 8m37 2m67 0m3 0m20-19" class="mc3"/><path d="M93 1535m0 2m12 8m9 6m1-10m4 3m44-8m10 2m11 7m4 1m10 9m28-4m2-21m7 24m5-18m15 15m3-5m8-4m3-6m12 1m11-1m0 2m6-10m22 3m4 16m14-5m30 12m11-24" class="mcy"/><path d="M109 1555m13-4m50-9m19 4m5-6m26 3m26 6m19 2m19 2m10-1m57-2m3-19m5 16m11-7m1 13" class="mc3"/><path d="M67 1539m5 5m9-5m25 11m19-9m3-2m36 13m47-4m2-15m12-1m10-22m2 36m3-14m14 9m13-12m10 2m1 14m33-11m6 13m7-8m11 3m2 12m22-12m8 5m13-19" class="mcy"/><path d="M106 1550m8 2m35 0m3 0m18-5m2-9m8 11m5 2m12-12m64 14m9 2m2-7m81-3m17 9" class="mc3"/><path d="M72 1539m18-6m7 16m0-20m5 5m22 14m6-15m8 17m27 0m0-8m10 6m41-6m2 6m17-5m3 12m18 0m48-10m5 5m13 2m2-10m30-12m3 13m5-20m25 27m3-24m4 29" class="mcy"/><path d="M80 1551m3-4m25 5m29-4m12 3m102 4m32 0m24-13m5-2m9 14m43-2m18-7" class="mc3"/><path d="M68 1536m50 0m6 2m13 10m7-3m4-7m11 1m19 4m9 5m32-14m12 12m8 5m8-11m5 2m5-7m3 1m33-1m1 4m2-14m1 22m6 5m29-18m9 6m31-8m5 1m1 6m6-7m2 13" class="mcy"/><path d="M77 1554m30 0m27-10m15 11m0 0m12-12m24 10m7-17m4 8m20 11m24-5m18 3m3-3m5 0m35 1m71-1" class="mc3"/><path d="M87 1549m15-17m2 2m19-9m14 20m3-13m40 16m19-10m10 6m7 5m18 0m7-16m1 15m20-9m17-3m25 15m12-2m19-9m6-7m7 2m7-6m3 0m20 1m12-6" class="mcy"/><path d="M77 1543m61 12m2-25m6 24m32-4m16-3m18 0m16 4m18-3m78 5m45-12m19 7" class="mc3"/><path d="M73 1548m17 0m1 2m14-18m1 2m54 21m17-11m1 2m6 7m1-18m25 12m8-2m1-6m6-4m7 16m4-18m57 14m22-12m11 6m6-12m2 15m14 7m1-11m2-7m2 1m7-8m6-13m4 28" class="mcy"/><path d="M83 1554m2-5m7 3m67-1m121-7m21 6m57 5m31-22" class="mc3"/><path d="M73 1546m22-10m1 0m5 4m4-5m3 8m28-8m0 5m24 11m8-1m0-16m38 7m0-2m0 8m11-4m21 0m12 1m3-6m17 14m1-8m3 6m20-13m28 11m1-11m4 0m6-6m6 0m21-3m12-2m1 15m10-18m4 5" class="mcy"/><path d="M84 1551m62-2m3-1m20 5m27-3m20-3m9-11m5 6m3 1m17 10m43-8m18 7m55-19m28 19" class="mc3"/><path d="M83 1528m2 18m1-6m9 5m0-9m15-1m12 3m22 9m0 2m3-12m6 2m4-3m7 4m4 3m23 2m5 9m2-14m27-7m18 12m10 6m19-16m24 10m11-2m30 12m17-17m0-22" class="mcy"/><path d="M100 1540m17 13m18-2m17-3m15 5m63-9m27 6m38 3m6-14m8 12m51-5m16-6m14 15" class="mc3"/><path d="M73 1538m1 4m2 5m11-6m1-9m0 22m5-15m5-5m1 4m22 3m8 12m10-6m3-21m22 13m11-6m22 8m5 10m0-15m31 5m2 7m18-8m26-6m30-1m23 13m13-15m8 1m0 23" class="mcy"/><path d="M85 1550m5 5m17-5m3 1m40 4m7-3m2-1m26-11m31 5m1 5m4 5m6-5m5 3m5 2m6-3m53-5m20 3m59 0m1 5m8-1" class="mc3"/><path d="M68 1546m15-10m7 18m2-22m60 5m11 10m27-4m2 0m22 2m5-2m12 3m2-6m4 5m11-13m19 23m2-11m85-4m23-1m5-6m11-4" class="mcy"/><path d="M82 1553m7 0m21 1m6-1m4 2m2-2m11-2m1-4m8 1m5-2m8 7m27-15m24 9m24 0m72 5m10-3m20-8m19-8m1 21" class="mc3"/><path d="M69 1537m13 15m33-11m22 1m4-1m8 0m6-8m4 1m7 18m21-19m29 6m2 15m5-19m31 5m35-6m36-6m9 17m6-4m9 10m17-16m6 16" class="mcy"/><path d="M73 1542m33 9m21-4m16 5m15-12m4 6m3 0m60 0m15 2m29 2m9 3m17-3m9 0m10 4m51-10" class="mc3"/><path d="M94 1540m21 6m19-1m11 3m1-4m6-4m49 4m11-2m24-46m17 41m3-3m3-1m12 19m5-4m8-12m8-5m2 11m4 7m16-18m1 7m9 13m1-44m6 47m24-16m1-8" class="mcy"/><path d="M86 1539m40 16m47-1m10 1m2-15m13 15m18-16m15 13m36-5m16 7m5-17m3 17m17-5m7-4m14 9m1-22m53 9" class="mc3"/><path d="M79 1530m13 9m7 4m1-14m4 20m8-8m17-2m14-3m60 16m6-16m32 2m5-3m35 13m37-15m0 5m8 13m3-13m11 1m1 0m5-5m1 7m40 4m3-8" class="mcy"/><path d="M72 1547m28-8m3 12m8-9m75 12m15-2m42-4m17 2m37-8m19 9m4-5m10 9m14-13m5 5m4-1m9 8m15-4m15-1" class="mc3"/><path d="M73 1538m31-14m36 13m6 6m8-4m22 0m10-2m9-7m2 7m3-3m3 8m14-4m23 11m67-12m12 7m8 10m11-22m1 7m3-1m5-4m18-2m26 17" class="mcy"/><path d="M69 1544m2 10m14-2m14-3m36 1m33 0m18 2m2-2m24 5m23-6m11-4m10 2m26 3m20-6m25 9m8-4" class="mc3"/><path d="M75 1537m8 6m17-13m0 7m15 1m13 9m12-2m20-2m5-12m8 5m8 11m3-11m2 17m6-10m23 0m14-4m4 5m27-4m20 6m1-7m1 1m45 2m2-6m13 2" class="mcy"/><path d="M78 1552m47-16m14-2m2 17m50 4m5 0m39 0m24 0m2-25m4 20m5 0m9-13m69 18m10-5m14-1" class="mc3"/><path d="M81 1528m58 10m8 2m11 10m3-8m14-6m17 19m13-11m15-3m25-10m1 5m9-1m12 5m22 6m12-7m5-2m10 8m10-1m5 2m5-11m2 6m14-2m33-3m1-3m7 15" class="mcy"/><path d="M89 1554m24-13m12 8m1-2m26 8m55-9m28 4m40 5m28-2m4-3m16-7m16 5m5 2m4 2m5 3m11-10" class="mc3"/><path d="M72 1537m6 7m23-14m5 16m46-6m35 9m21-14m9 9m2 8m0-7m30-11m1 13m16-11m19 3m1 9m1-13m7 2m17 7m13-8m4 0m11-4m11 4m34 17m1-22" class="mcy"/><path d="M128 1552m2 1m4-1m5-8m17 5m17 6m4-7m9 7m33-5m22-1m7 2m12-11m68 3m34-1m3-5m11 15" class="mc3"/><path d="M75 1535m20-2m13-2m1 22m1-4m11-13m1 7m5 10m39-20m4 3m15 2m5 11m3-16m4 21m16-20m14-2m3 17m14-5m6 11m18-18m3 10m34-2m34-8m18 0" class="mcy"/><path d="M74 1535m10 16m10-15m32 16m26 1m25-5m24 2m11-12m22 12m6-5m1 9m2-5m76 6m1-2m7-14m39 14m8-4m5-6m11 10" class="mc3"/><path d="M98 1530m0-16m9 17m2-2m1 9m1 9m4 5m5 0m50-18m30-2m15 22m21-3m3-8m12 4m15-17m3 17m19-1m7-18m16 20m46-21m11 18" class="mcy"/><path d="M130 1541m8 8m22-2m17 6m15-3m3-5m3-2m44 4m12 5m51-2m55 3m26-13m0 9m7 6" class="mc3"/><path d="M74 1530m31 8m18-1m37 0m18 2m18-9m2 1m3 7m5-2m6 15m2 4m13-11m5 4m2-17m19 15m5-15m14 11m15 1m66-12m0 4m4-25m4 37m10-23m5 13m13-10m2-3" class="mcy"/><path d="M82 1549m8 5m4 1m27-11m24 10m2-3m12 2m70-18m12 19m36 0m31-11m3 3m26-1m0-2m3 11m14-3" class="mc3"/><path d="M74 1540m30-6m21-1m3 3m9 17m3-15m4 3m21-6m8 6m39 6m32-6m4-3m2 14m12-12m4-8m14 19m9-15m22 2m17 2m6-9m10 17m19-16m21 6m9 2" class="mcy"/><path d="M105 1555m2-7m27 3m43-3m59 4m50 3" class="mc3"/><path d="M71 1529m2 26m22-13m93-13m77 5m2 11m18-8m10-6m22 3m2 16" class="mcy"/><path d="M240 1512m2-3m14 14m10 2m4-1m8-1" class="mgr"/><path d="M239 1509m6 1m5-1m5 16m8-3m8 1" class="mgr"/><path d="M243 1511m2 2m12 9m2 3m12-3m6 1" class="mgr"/><path d="M209 1517m37-4m3 1m1-5m26 16" class="mgr"/><path d="M236 1534m0 0" class="mye"/><path d="M203 1541m3-8m18 8" class="mdk"/><path d="M215 1544m14-3" class="mye"/><path d="M218 1539m0 0" class="mdk"/><path d="M226 1544m11-6" class="mye"/><path d="M205 1541m5-4m20-2m85-5" class="mdk"/><path d="M225 1542m0 0" class="mye"/><path d="M217 1539m0 0" class="mdk"/><path d="M221 1530m10 3" class="mye"/><path d="M202 1544m20-11" class="mdk"/><path d="M205 1531m3 5m8-3m8 10m12-3" class="mye"/><path d="M208 1536m102-6" class="mdk"/><path d="M219 1533m0 0" class="mye"/><path d="M311 1529m0 0" class="mdk"/><path d="M215 1543m2-9m0 8" class="mye"/><path d="M218 1535m0 0" class="mdk"/><path d="M219 1537m0 0" class="mye"/><path d="M223 1534m7 0" class="mdk"/><path d="M205 1535m25-1" class="mye"/><path d="M313 1529m0 0" class="mdk"/><path d="M213 1516m24-17m2 6" class="mor"/><path d="M236 1482m1 4m1 4m0 12" class="mre"/></g>
<path d="M118.2 737.4l1.7 1.7-1.7 1.7-1.7-1.7z" fill="#9a1de0" stroke="#6a10a0" stroke-width="0.3"/>
<text x="118.5" y="738.2" text-anchor="middle" class="ll">rs780096</text>
<path d="M32.3 838.9V836.0M49.4 838.9V821.9M187.6 838.9V822.9M193.4 838.9V825.3M199.2 838.9V826.0" fill="none" stroke="#9cc8f2" stroke-width="0.7"/>
<g transform="scale(0.5)"><path d="M76 1676m15-7m9-1m2 9m14-2m0 1m7-2m1 3m11-7m35 6m2-3m21 1m4 4m15-1m6-3m1-3m6 0m15 2m38-5m19 8m16 1m10 0m5-8m54 9" class="mc3"/><path d="M74 1675m33-7m18 2m4-1m2-3m120-2m12 10m20-6m36 6m3-8m18 5m23 5m1-9m1 1m1 3m3-1" class="mcy"/><path d="M69 1669m22 5m46 3m37-6m6 0m14 1m6-2m43 3m30 1m3 3m28 0m6-4m1 1m22-3m27-2m11 4m4 2m8-4m2 4m10 2" class="mc3"/><path d="M125 1673m3-4m46 7m9-7m9 3m8-9m1 3m16-4m14 6m44-2m20 0m9 4m0-3m9 3m4 6m15 0m5-10m19-6m20 10m17-5" class="mcy"/><path d="M96 1676m16-2m5-5m13 7m6-2m5 1m13-9m16 7m0-3m9-5m9 12m47-4m38 3m18 0m33-4m8 3m17-2m33-2" class="mc3"/><path d="M92 1671m15-7m42 2m2-1m5 2m3 1m28 2m5-5m37 6m9 1m3-9m2 13m0-9m21 11m25-12m11-6m11 15m35-1m6-5m3 4m31 1m3-2" class="mcy"/><path d="M76 1673m7 0m11-1m5 2m33-1m9 2m6 1m34-5m10-1m16-3m39 7m18-2m44 4m25 1m1-1m30 0m13 0m6 2" class="mc3"/><path d="M79 1667m20 0m26 0m2 11m17-8m26 6m1-9m14 1m3 4m18-9m2 8m12-3m12-4m28 6m12-4m16 8m26-3m8 0m8-4m33 6m12 4m3-10" class="mcy"/><path d="M71 1676m34 2m0-3m2-3m8-3m58 7m4-3m17 4m4-11m19 6m16 6m39-5m20 1m14 4m15-6m30 3m43 1" class="mc3"/><path d="M74 1674m1-5m65-11m23 7m1 1m1 5m3-4m5-1m36 5m0 3m5-2m7-1m16-1m14 1m17 1m13-8m2 2m40 3m18 5m4-5m5 2m5-1m30 1" class="mcy"/><path d="M110 1674m14 1m24-5m7 0m5 5m11-5m11 7m13-3m27 3m10-1m2-4m1 5m58-1m3-4m16 1m9-1m72 4" class="mc3"/><path d="M94 1674m9-1m10 0m15-3m0-1m54-3m7 1m1 8m10-6m3-1m1-5m15 8m5 5m7-9m1 0m5 8m23-5m0-4m12 4m45 5m47-2m7-6m23 2" class="mcy"/><path d="M72 1671m40 5m11-7m105 4m17-3m30 3m3 2m52-1m4 2m1 1m1-3m3-6m6 0m7 9m20-6m6 0" class="mc3"/><path d="M80 1668m20-2m2-1m4 2m16-3m12 5m1-5m17 0m7 14m7-5m1-5m7-1m1 4m8-3m27-2m41 0m11 3m17 4m49 3m14-8m7 4m4-5m27-8m10 11" class="mcy"/><path d="M69 1677m10-1m2-2m6 2m16 2m0-5m9 0m30 1m32 3m4-4m1 3m34 1m48-9m12 10m3-4m53 4m2-4m2-5m34 8m23 1" class="mc3"/><path d="M94 1667m53-6m14 6m13 3m20-2m6 6m15-8m17-1m5-1m8-1m1 3m5-16m4 17m5 7m0-5m3-1m5-3m19 2m25 4m53 6" class="mcy"/><path d="M90 1673m5 1m34-5m18 5m56 2m7-5m11 4m2 2m39-3m29-3m33 4m45-1" class="mc3"/><path d="M101 1664m1 8m22 0m23-8m11 1m23 6m0-10m8 1m7-7m2 13m1 2m9-3m26 6m2-2m0-1m3-7m8 9m25 3m1-7m9 1m2-1m9-2m15 5m2-4m8 3m19 3m17 4m8-11" class="mcy"/><path d="M73 1675m41 0m8 1m15-7m83 3m42 3m13-1m17 2m70-1m5-3m5 5m4 1m10-2m3-8" class="mc3"/><path d="M68 1672m0-4m36 1m11-7m8 11m18-4m21 0m11-4m9 8m11-7m2 11m5-9m7-5m38 4m7 1m36 1m0 4m3-7m7 2m15 4m7 3m19 0m12-5m2-2m14 9m6-5" class="mcy"/><path d="M72 1672m22 5m17-4m13 4m50-2m7-4m28 3m25-4m11 1m72 6m30-2m4 3m3-4m14 1m13-4" class="mc3"/><path d="M72 1667m7-1m19-2m13 0m8 3m4 3m13 4m8-9m14 7m16 0m11-4m41-4m9-2m26 7m1 0m8 3m8-6m4-1m4 0m4 1m40-7m8 14m22-5m17 2m14 2" class="mcy"/><path d="M77 1673m17 5m30-3m31-1m24-3m1-1m21 7m9-4m7 0m57 2m55 2m8-9m26 9m1-1m8-1" class="mc3"/><path d="M86 1668m35-2m7 5m11-3m5 1m15-1m3-4m1 1m15 1m8-4m14 6m3-1m31-1m11 0m11-14m0 18m1 6m19-8m35 2m16-1m9 3m40-1m1 6m9-4m6-6" class="mcy"/><path d="M204 1672m17 1m34 3m7 1m1-2m12-4m5 3m4-8m38 5m14 1m2 0m2 6m9-2m44-1" class="mc3"/><path d="M78 1670m13-2m20-2m3 8m19-8m4-2m5 3m12 4m8 1m6-4m21 2m3-7m9 12m10-4m5-2m10-6m16 0m4 6m15-4m29 0m22 6m3 5m44-1m5 0m2-7m24 1" class="mcy"/><path d="M113 1675m7-3m34 5m3-1m73 0m2-3m21 3m4 2m17-7m62-2m2 2m3 1m10 6m14-2" class="mc3"/><path d="M70 1668m1-2m20 6m0-6m4 11m27-6m11 6m3-9m14 5m4-5m8-2m32 1m1-3m7 4m35 6m10-10m1 7m16 3m21 0m14-8m9 0m10-1m8 9m12-4m5 3m25 2" class="mcy"/><path d="M71 1675m6 3m3-2m12-1m10-2m30 3m17-4m23-1m13 4m7 2m7-7m17 7m7-3m4 3m9-12m43 8m8-3m24 2m16-1m58 6" class="mc3"/><path d="M88 1667m4-1m8-9m6 12m32 7m19-4m3-16m29 9m6 6m26-6m20 5m4-4m24 9m45-7m2 7m9-3m15-1m20 3m30-7m2 5" class="mcy"/><path d="M80 1670m14 6m15 0m10-1m29-2m37 1m38-5m26 9m28-3m32-2m15 4m8-3m53 4" class="mc3"/><path d="M78 1665m0 6m3-1m8-3m3 5m0-6m2 3m6 5m9-2m3-8m11 5m7 4m22-13m19 12m5-7m30-1m19 11m18-13m8 2m21 11m23-7m40 7m1-6m3 0m5 7m9-4m6-4" class="mcy"/><path d="M70 1676m8-3m13 4m32-9m7 2m14 5m31-5m45 1m22 6m46-1m24 0m8-1m13 3m28-3m30 3" class="mc3"/><path d="M120 1654m19 9m2 8m2 3m23-3m19 3m43-3m7-4m0 0m16 3m18 0m1-20m17 27m22-11m21 2m5 7m2-4m1 0m1 2m13 3m4-10m5 7m22 1m9-7m1 7" class="mcy"/><path d="M85 1673m33 5m8-1m6 1m20-2m8 2m3-1m13-3m45 3m20-4m4-4m6 8m50-4m12 3m17 0m43 2m7-1" class="mc3"/><path d="M83 1667m7 2m34-5m1 6m11-3m36-1m6-4m23 2m5 5m10 7m7-11m1 6m15-4m23-13m8 18m36 0m26 3m1-8m23-2m8 2m6 3m13 7m5-11" class="mcy"/><path d="M68 1677m19 0m23-9m1 7m5 1m35 0m7-2m4 1m68-6m25 8m20-9m8 4m5-4m4 8m10-6m7 7m47 0m20-6" class="mc3"/><path d="M71 1669m1-3m25 2m4-5m8 12m11-10m35 3m10 5m3 2m31-10m5 2m14-1m13 4m72 3m6-1m14 0m9-6m9 10m14-4m1-1m10-1m17 3" class="mcy"/><path d="M71 1676m15 0m4-6m37 0m20 3m16 2m33 1m1-5m14-1m36 4m4-1m20 3m0-12m31 3m8 9m26 1m12-1m35-1" class="mc3"/><path d="M76 1672m5-7m36 1m17 9m8-5m2 2m21 2m10-3m39-4m3 0m7 2m6 3m0 0m11 4m17-2m17 0m1-6m62 3m6 3m16-1m26-3m5-4" class="mcy"/><path d="M75 1676m30 0m1-2m74-5m10 8m11-6m8-3m6-1m6 10m9-1m30-2m7 3m26-8m38 2m7 6m18-6m17 5" class="mc3"/><path d="M81 1671m2 0m40-5m8 7m2-2m15-6m18 4m6 4m9-11m5 3m77-1m1 6m18-4m28 0m4 5m8-1m0-1m7-4m3 3m8 4m23-2m12 1m2 3" class="mcy"/><path d="M71 1677m43-3m14 2m18-6m26 7m9-1m1-7m14-3m34 8m1 1m3-5m4 4m4-5m60 8m10-1m22 1m14-1m4 1m3-1m9 2" class="mc3"/><path d="M83 1671m7-17m13 16m14-6m32 4m24-1m16-5m6 3m4 2m18 1m7 0m0-1m7 5m43-8m21 3m13 0m35 10m18-11m9 4m7 3" class="mcy"/><path d="M70 1665m14 13m18-4m28 2m2 2m24-3m4 0m33-1m12 0m7 3m2-6m22 7m14-2m16 1m63 1m5-4m15 1m8 0" class="mc3"/><path d="M75 1676m28-7m7 5m15 2m19-15m4 13m32-17m17 15m8-9m42 9m4-6m9-1m23 12m10-8m13-3m8 2m25 6m1-2m8-1m6-4m9 3m26 2" class="mcy"/><path d="M105 1678m62-1m1-6m33 4m44 3m40-5m42-7m22 7m32 0" class="mc3"/><path d="M73 1666m3 4m11-2m10-4m75 2m6-4m3 3m1 2m2-1m12 5m26-1m10-1m1-4m7 8m7-3m10 2m7 1m26-5m10 3m9-2m27 1m4 2m3-5m0 4m7-2m3 1m12-3m1 3m16 3m2-7m9 5" class="mcy"/><path d="M108 1676m8 1m7 0m35 0m94-6m1 6m49 0m6-1m12-2" class="mc3"/><path d="M204 1668m17 1m47-13m14 8m19 6m0-3m19 4" class="mcy"/><path d="M220 1625m23 21m9 2m3 1m8-5m10 6" class="mgr"/><path d="M209 1650m10-26m21 22m1 5m16-4m11 2" class="mgr"/><path d="M253 1638m4 9m4 1m2 2m13 2m13 2" class="mgr"/><path d="M231 1641m23 3m12 1m10 6m17 3m2 1" class="mgr"/><path d="M225 1634m23 12" class="mdk"/><path d="M205 1628m7 4m17 4" class="mye"/><path d="M219 1634m0 0" class="mdk"/><path d="M207 1631m10-5" class="mye"/><path d="M204 1629m18 7m14-4m30 17" class="mdk"/><path d="M219 1626m15 5" class="mye"/><path d="M221 1636m0 0m3-4m4-4" class="mdk"/><path d="M207 1629m0 0" class="mye"/><path d="M211 1636m1-5" class="mdk"/><path d="M228 1635m0 0" class="mye"/><path d="M220 1628m5 1m2 3m39 15" class="mdk"/><path d="M210 1634m9-7m3 8m9 0m1-8" class="mye"/><path d="M210 1633m21 0" class="mdk"/><path d="M208 1636m20-4" class="mye"/><path d="M245 1647m0 0" class="mdk"/><path d="M210 1627m0 0" class="mye"/><path d="M209 1636m0 0" class="mdk"/><path d="M226 1633m0 0" class="mye"/><path d="M205 1628m60 18" class="mdk"/><path d="M211 1635m24-2" class="mye"/><path d="M254 1649m0 0" class="mdk"/><path d="M213 1603m22-3" class="mor"/><path d="M237 1605m1 10" class="mre"/></g>
<path d="M118.2 803.3l1.7 1.7-1.7 1.7-1.7-1.7z" fill="#9a1de0" stroke="#6a10a0" stroke-width="0.3"/>
<rect x="96.2" y="805.1" width="21.2" height="5.2" rx="0.6" fill="#fff" stroke="#555" stroke-width="0.5"/>
<text x="106.8" y="809.2" text-anchor="middle" class="ll">rs780096</text>
<text class="rb" x="11.4" y="723.7" font-size="10.3">(H)</text>
<text class="rb" x="116.3" y="729.2" font-size="7.2" text-anchor="middle" textLength="51.2" lengthAdjust="spacingAndGlyphs">IFT172 in Thyroid</text>
<text class="rb" x="112.2" y="789.6" font-size="7.2" text-anchor="middle" textLength="12.0" lengthAdjust="spacingAndGlyphs">T2D</text>
<rect x="23.5" y="733.9" width="185.0" height="45.5" class="fr"/>
<path d="M23.5 777.7h-1.5M23.5 769.3h-1.5M23.5 760.9h-1.5M23.5 752.6h-1.5M23.5 744.2h-1.5M23.5 735.8h-1.5M208.5 777.7h1.5M208.5 767.2h1.5M208.5 756.8h1.5M208.5 746.3h1.5M208.5 735.8h1.5" class="tk"/>
<g class="tl" text-anchor="end">
<text x="21.3" y="779.6">0</text>
<text x="21.3" y="771.2">1</text>
<text x="21.3" y="762.8">2</text>
<text x="21.3" y="754.5">3</text>
<text x="21.3" y="746.1">4</text>
<text x="21.3" y="737.7">5</text>
</g><g class="tl">
<text x="210.7" y="779.6">0</text>
<text x="210.7" y="769.1">25</text>
<text x="210.7" y="758.6">50</text>
<text x="210.7" y="748.2">75</text>
<text x="210.7" y="737.7">100</text>
</g>
<text class="yl" transform="translate(10.1 756.6) rotate(-90)" text-anchor="middle">&#8722;log<tspan font-size="3.6" dy="1.2">10</tspan><tspan dy="-1.2">(</tspan><tspan font-style="italic">p</tspan>)</text>
<text class="yl" transform="translate(221.8 756.6) rotate(90)" text-anchor="middle" textLength="36.4" lengthAdjust="spacingAndGlyphs">Recomb. rate</text>
<rect x="23.5" y="794.5" width="185.0" height="45.9" class="fr"/>
<path d="M23.5 838.9h-1.5M23.5 825.2h-1.5M23.5 811.6h-1.5M23.5 797.9h-1.5M208.5 838.9h1.5M208.5 828.4h1.5M208.5 817.8h1.5M208.5 807.3h1.5M208.5 796.8h1.5" class="tk"/>
<g class="tl" text-anchor="end">
<text x="21.3" y="840.8">0</text>
<text x="21.3" y="827.1">5</text>
<text x="21.3" y="813.5">10</text>
<text x="21.3" y="799.8">15</text>
</g><g class="tl">
<text x="210.7" y="840.8">0</text>
<text x="210.7" y="830.3">25</text>
<text x="210.7" y="819.7">50</text>
<text x="210.7" y="809.2">75</text>
<text x="210.7" y="798.7">100</text>
</g>
<text class="yl" transform="translate(10.1 817.5) rotate(-90)" text-anchor="middle">&#8722;log<tspan font-size="3.6" dy="1.2">10</tspan><tspan dy="-1.2">(</tspan><tspan font-style="italic">p</tspan>)</text>
<text class="yl" transform="translate(221.8 817.5) rotate(90)" text-anchor="middle" textLength="36.4" lengthAdjust="spacingAndGlyphs">Recomb. rate</text>
<rect x="23.5" y="843.4" width="185.0" height="36.6" class="fr"/>
<g class="xt" text-anchor="middle">
<text x="57.9" y="886.2">27000000</text>
<text x="98.5" y="886.2">27500000</text>
<text x="139.0" y="886.2">28000000</text>
<text x="179.6" y="886.2">28500000</text>
</g>
<path d="M57.9 880.0v1.6M98.5 880.0v1.6M139.0 880.0v1.6M179.6 880.0v1.6" class="tk"/>
<text class="xl" x="115.8" y="894.8" text-anchor="middle" textLength="72" lengthAdjust="spacingAndGlyphs">Position on chromosome 2</text>
<rect x="36.1" y="897.8" width="159.1" height="11.1" class="lg"/>
<text x="37.9" y="905.0" class="lt">r2</text>
<circle cx="47.5" cy="903.3" r="1.2" fill="none" stroke="#777" stroke-width="0.5"/>
<text x="52.6" y="905.0" class="lt">miss</text>
<circle cx="68.1" cy="903.3" r="1.35" fill="#74e6dc" stroke="#555" stroke-width="0.35"/>
<text x="73.1" y="905.0" class="lt">0.0−0.2</text>
<circle cx="94.2" cy="903.3" r="1.35" fill="#62d43c" stroke="#555" stroke-width="0.35"/>
<text x="99.5" y="905.0" class="lt">0.2−0.4</text>
<circle cx="120.7" cy="903.3" r="1.35" fill="#e3c11e" stroke="#555" stroke-width="0.35"/>
<text x="125.6" y="905.0" class="lt">0.4−0.6</text>
<circle cx="146.8" cy="903.3" r="1.35" fill="#e58a2e" stroke="#555" stroke-width="0.35"/>
<text x="152.1" y="905.0" class="lt">0.6−0.8</text>
<circle cx="173.1" cy="903.3" r="1.35" fill="#c8341c" stroke="#555" stroke-width="0.35"/>
<text x="178.3" y="905.0" class="lt">0.8−1.0</text>
<g class="gt" font-size="3.4">
<text x="19.7" y="847.8">DPYSL5</text>
<path d="M20.9 848.4h4.2" class="gb"/>
<text x="25.0" y="850.0">MAPRE3</text>
<path d="M30.4 850.6h3.1" class="gb"/>
<text x="29.5" y="852.1">DPYSL5</text>
<path d="M37.6 852.7h2.4" class="gb"/>
<text x="34.1" y="854.2">GTF3C2</text>
<path d="M38.8 854.8h3.1" class="gb"/>
<text x="38.7" y="856.4">GTF3C2</text>
<path d="M38.8 857.0h3.4" class="gb"/>
<text x="42.7" y="858.5">PPM1G</text>
<path d="M44.7 859.1h2.3" class="gb"/>
<text x="47.2" y="860.7">CCDC121</text>
<path d="M49.3 861.3h4.6" class="gb"/>
<text x="52.2" y="862.8">GCKR</text>
<path d="M53.7 863.4h4.6" class="gb"/>
<text x="56.7" y="864.9">RBKS</text>
<path d="M57.6 865.5h4.1" class="gb"/>
<text x="61.4" y="867.1">XAB1</text>
<path d="M61.9 867.7h3.7" class="gb"/>
<text x="66.5" y="869.2">MPV17</text>
<path d="M68.7 869.8h2.1" class="gb"/>
<text x="70.2" y="871.4">PREB</text>
<path d="M70.6 872.0h4.6" class="gb"/>
<text x="74.8" y="873.5">SUPT7L</text>
<path d="M80.9 874.1h3.5" class="gb"/>
<text x="79.8" y="875.6">OST4</text>
<path d="M82.1 876.2h4.6" class="gb"/>
<text x="77.4" y="847.8">GPR113</text>
<path d="M80.8 848.4h4.5" class="gb"/>
<text x="79.2" y="850.3">SNX17</text>
<path d="M84.4 850.9h3.4" class="gb"/>
<text x="79.8" y="852.8">NRBP1</text>
<path d="M83.1 853.4h3.9" class="gb"/>
<text x="81.3" y="855.2">DRC1</text>
<path d="M84.9 855.8h2.6" class="gb"/>
<text x="82.6" y="857.7">TRIM54</text>
<path d="M87.0 858.3h4.9" class="gb"/>
<text x="84.0" y="860.2">KCNK3</text>
<path d="M88.3 860.8h2.0" class="gb"/>
<text x="85.1" y="862.7">CENPA</text>
<path d="M86.4 863.3h2.0" class="gb"/>
<text x="87.0" y="865.1">XAB1</text>
<path d="M87.3 865.7h4.2" class="gb"/>
<text x="88.2" y="867.6">EIF2B4</text>
<path d="M93.1 868.2h3.1" class="gb"/>
<text x="91.3" y="847.8">ABHD1</text>
<path d="M93.8 848.4h3.6" class="gb"/>
<text x="92.3" y="850.2">ABCG5</text>
<path d="M97.9 850.8h2.3" class="gb"/>
<text x="93.8" y="852.6">IFT172</text>
<path d="M95.8 853.2h4.1" class="gb"/>
<text x="94.8" y="855.0">TRIM54</text>
<path d="M94.9 855.6h4.6" class="gb"/>
<text x="96.2" y="857.3">MRPL33</text>
<path d="M100.4 857.9h2.5" class="gb"/>
<text x="96.9" y="859.7">DRC1</text>
<path d="M96.9 860.3h4.2" class="gb"/>
<text x="98.3" y="862.1">UCN</text>
<path d="M99.1 862.7h3.5" class="gb"/>
<text x="99.1" y="864.5">AGBL5</text>
<path d="M101.8 865.1h4.2" class="gb"/>
<text x="100.0" y="866.9">EMILIN1</text>
<path d="M105.5 867.5h4.1" class="gb"/>
<text x="101.5" y="869.2">CAD</text>
<path d="M101.6 869.8h2.3" class="gb"/>
<text x="101.9" y="871.6">MAPRE3</text>
<path d="M104.9 872.2h4.7" class="gb"/>
<text x="103.6" y="874.0">TRIM54</text>
<path d="M103.7 874.6h3.1" class="gb"/>
<text x="104.8" y="876.4">TMEM214</text>
<path d="M109.6 877.0h4.9" class="gb"/>
<text x="110.2" y="847.8">TRIM54</text>
<path d="M115.3 848.4h3.2" class="gb"/>
<text x="111.7" y="850.0">HADHB</text>
<path d="M116.4 850.6h2.9" class="gb"/>
<text x="113.2" y="852.2">SLC5A6</text>
<path d="M121.2 852.8h2.4" class="gb"/>
<text x="115.5" y="854.4">FAM59B</text>
<path d="M117.7 855.0h4.0" class="gb"/>
<text x="117.3" y="856.6">TCF23</text>
<path d="M118.0 857.2h3.7" class="gb"/>
<text x="118.7" y="858.8">TMEM214</text>
<path d="M125.4 859.4h2.7" class="gb"/>
<text x="119.8" y="861.0">DRC1</text>
<path d="M121.7 861.6h2.3" class="gb"/>
<text x="122.0" y="863.2">SELI</text>
<path d="M124.2 863.8h3.6" class="gb"/>
<text x="123.5" y="865.4">PPM1G</text>
<path d="M127.7 866.0h3.1" class="gb"/>
<text x="72.1" y="871.3">DNAJC5G</text>
<path d="M73.0 871.9h3.3" class="gb"/>
<text x="73.5" y="873.8">RBKS</text>
<path d="M76.6 874.4h2.8" class="gb"/>
<text x="75.6" y="876.4">TMEM214</text>
<path d="M80.0 877.0h4.2" class="gb"/>
<path d="M139.2 869.0H155.6" class="gb"/>
<text x="147.4" y="868.5" text-anchor="middle">ABCG11</text>
<path d="M139.2 871.0H147.9" class="gb"/>
<text x="143.5" y="870.5" text-anchor="middle">GPR113</text>
<path d="M147.9 874.1H183.7" class="gb"/>
<text x="165.8" y="873.6" text-anchor="middle">SAEALKN</text>
<text x="186.5" y="876.1">PGK1</text>
<text x="191.9" y="847.5">PLB1</text>
<path d="M192.6 877.4H197.4" class="gb"/>
<text x="192.2" y="877.1">FOSL2</text>
</g>
<path d="M427.0 777.7V776.0" fill="none" stroke="#9cc8f2" stroke-width="0.7"/>
<g transform="scale(0.5)"><path d="M531 1545m22-12m24 7m0-9m8 22m38-1m11 3m21 0m14-9m5 1m10-5m1 3m3-4m9 14m9-2m13-7m13 2m28-8m22 4m26 11m5-2m21 1m5-25m1 15" class="mc3"/><path d="M544 1529m10 17m5 7m12-2m24-12m8-1m5 7m9-10m4 3m57-3m29 11m3-7m33 1m2 6m42 3m37-8" class="mcy"/><path d="M539 1534m16 12m23-14m7 21m16-7m40-1m7 10m1-25m1 20m3-5m4-13m16 18m23-6m32 9m11-12m0-6m5 11m56-4m10 6m7-8m18 14m9-23m4-1" class="mc3"/><path d="M552 1554m45-8m17 1m10-10m26 2m33-5m55 2m1 14m13-15m39 8m6 0m15 0m6-5m6 3m20-20m0 2m7 11" class="mcy"/><path d="M531 1549m11-7m19-9m5 3m3-2m1 12m1-9m44 16m3 1m41 0m15-3m52 0m4-3m5-11m5 2m24 9m7-12m12 6m0 4m14 3m39-3m10 8" class="mc3"/><path d="M538 1527m4 16m3-9m13 9m1-2m1 5m7-8m25-14m6 14m19 1m39-10m2 6m20 2m1-7m49 16m5-5m38 8m80-13" class="mcy"/><path d="M526 1540m10 15m26-15m5 11m9 0m26-1m7 2m0-1m1-15m38 5m13 11m33 0m12-6m16 7m23 1m23-3m6-1m2-1m3 6m30-2m1 0m4-2m7 2m9-23m10 17" class="mc3"/><path d="M565 1531m17 7m2 15m8-5m31-10m14 8m20-13m72 2m1 2m16-2m2 5m33-35m9 29m10 6m6 4" class="mcy"/><path d="M527 1533m10 20m14 1m2-2m10-7m16-13m12 21m2 1m40 1m26-10m35 0m36 0m12 7m0-3m14-2m4 7m1-14m12-8m3 10m18 3m3 3m17 3m0-3m9 7m17-7" class="mc3"/><path d="M532 1545m34 5m5-15m3 2m60 4m78-3m49 7m4 5m6-17m6 3m10 16m22-14m2 9m8-7m33-34" class="mcy"/><path d="M555 1548m3 1m58 4m3-2m8-8m1 11m8 1m20-24m6 18m39-8m2 13m8-4m13 2m3-7m6 5m101 2m2 2m12-9" class="mc3"/><path d="M527 1548m8-8m27-10m24 12m2-1m63-12m16-5m11 15m29-3m6-6m19 6m2-5m1 14m4-9m8 11m5-13m28 1m6 3m48-13m5 18m5-18m4 23" class="mcy"/><path d="M560 1553m4 2m10-13m3 4m15 9m15-15m2 14m2-2m25 2m0-4m8 3m34-15m2 8m3 8m6 1m27-8m11-5m10 10m19 1m45-4m3 3m25-18m0 19m18-2" class="mc3"/><path d="M543 1533m28-2m26 8m49 2m13 1m22-8m17 9m11-6m14 2m24 0m32-12m22 21m3-10m11 0m4-4m4 0" class="mcy"/><path d="M550 1542m27 7m29-9m53 4m14 9m7-17m13 7m44 4m36 7m32-16m9 5m6-6m4-8m5 5m5 5m2 4m4 1m4 8" class="mc3"/><path d="M559 1522m6 11m5-3m12 6m8-21m0 37m6-13m1 0m8 9m2-7m56-12m0 5m1-17m3 19m24-8m32 13m15-3m43 5m17 3m16-10m5-2m7 14" class="mcy"/><path d="M532 1530m0 22m48-6m9 8m12-10m15 1m40-5m5 7m46 6m8 2m12-6m2-1m23-3m5-5m11 3m10 4m25 0m8-2m2 8m4-15m34 5" class="mc3"/><path d="M525 1529m21 9m28-7m1-4m19 16m20 2m7-5m10-2m35 2m20-3m3 15m5-5m10-1m5-15m11 22m26-5m1-3m56 0m45-41" class="mcy"/><path d="M533 1550m23-7m9-3m24 14m27-3m20 0m3 4m7-2m64 1m27 0m1-20m11 17m9-7m8-1m1 10m22-2m6-10m4 2m33 9m1-26m14 4m2 17" class="mc3"/><path d="M526 1528m21 2m4-2m31 12m33 9m44-13m31 9m4-11m2 11m9-9m2 1m5 5m0-8m32 5m13-5m15-27m7 45m26-7" class="mcy"/><path d="M546 1540m26 5m8-2m9 7m4 4m11 1m32-9m10-4m7 10m3-13m4 13m4 3m21-14m30 8m2 2m4-11m2 1m29 11m10-9m18 8m8 4m14-17m28 17" class="mc3"/><path d="M531 1536m13-5m1 3m20-4m12 8m18-10m61 19m3-14m13 10m7-3m8-10m27 12m6 3m26 0m2-8m35 4m64-48" class="mcy"/><path d="M529 1555m13-2m21-6m94 1m30-14m33 15m0 5m32-2m13-1m5-2m12-8m2 4m20 3m5 7m34-3" class="mc3"/><path d="M551 1542m14-10m1 3m39 14m1-12m15 1m9 0m33-5m31-3m2 4m10-1m13 15m11-11m24 5m7-6m11 15m28-5m1-9m3-2m6 8m2-10m2 5m4-5m6 3m5 5" class="mcy"/><path d="M534 1543m16 12m1-10m15 10m15-4m18 0m16 3m2 1m2-7m12-7m30 11m24-20m24 3m2 1m16 14m12-6m6 8m3 0m34-1m23 4m7-1m6-14m3 7" class="mc3"/><path d="M526 1533m26 7m32 14m23-9m19-7m30 3m16-7m45-32m3 34m16 12m28-15m4 3m18 1m50 4m6-38m2 8m5 13" class="mcy"/><path d="M540 1548m35 2m6 3m3-6m3 8m15-1m8-2m1-4m45-8m28-5m10 13m8 7m21 0m31-16m13 6m1-7m14 12m14 3m14-11m2-3m15 4m6-13m3 16" class="mc3"/><path d="M525 1546m12-17m21 13m46 2m20-6m8 10m20-14m105 6m28 6m3-11m1 4m0 4m2-4m32-5m8-10m3 13m4-29" class="mcy"/><path d="M525 1544m11-12m11 13m0-4m12 11m34 2m5-12m12 1m30 3m15 9m30-8m14-3m12 7m7 4m3-8m10-3m4 5m52 4m23 0m1-12m14-5m15 16m12-9" class="mc3"/><path d="M571 1527m6 13m8-3m11 14m9-27m22 16m53-2m32-3m8 8m1-3m12 2m21 7m8-15m29 14m20-30m10 17m26 5" class="mcy"/><path d="M543 1553m27-1m2-10m21 2m9 11m12-1m6-12m10 6m6 4m8-2m24 5m12-1m21 0m37-6m32 7m21-2m0-4m12 1m7-8m31 6m3 5" class="mc3"/><path d="M527 1527m25 14m71 3m24-6m18-3m21-33m0 1m3 35m2-6m1 5m31 6m7-1m12 5m4-10m1 0m9 10m47-6m29-14m16 21" class="mcy"/><path d="M527 1543m10 11m23-4m6 0m15-8m25 4m41 4m33 4m21-1m30-1m22-2m0 1m1-5m62-2m3 0m18-17m3 13m8-17" class="mc3"/><path d="M526 1537m66 3m8-16m8 24m7-11m30-4m16 13m10 3m3-15m12-50m4 49m34 6m15 0m4 1m1 5m0 0m7-6m43 13m6-12m8-2m28 2m13-19" class="mcy"/><path d="M574 1528m3 21m8 1m10-1m27 3m13 2m7-9m3 1m16 3m1 6m2-1m96-13m6 11m27 0m16-8m2 5m7-4m7 8m17-12" class="mc3"/><path d="M534 1526m2 13m3-10m47 10m18 4m5-4m14-1m86-59m2 72m19-5m23-1m8-2m14-25m4 22m13 2m10-17m8 25m5-4m6-10m1 11m3-12" class="mcy"/><path d="M525 1547m1 7m12-7m5 6m3 2m21 0m1-4m15 4m13 0m31-2m2-8m6 4m0 4m1-1m2-1m5 1m13 0m3-4m1-1m60 1m14-7m18-4m24 8m29 6" class="mc3"/><path d="M593 1549m0 5m26-15m16 10m1-10m30 3m19-16m9 24m11 2m43-9m1-2m7-3m23-1m13 2m2 2m33-3" class="mcy"/><path d="M571 1552m7-1m6-8m23 12m7-5m16-9m0 2m58 12m6-1m0-7m27 3m2-1m7 5m7-18m4 18m46-1m24-9m21-18m2 4m9 23m3-2" class="mc3"/><path d="M550 1533m5-16m27 26m18 6m5-12m19 1m23 1m12 1m12-6m13-6m1 15m37 2m1-10m53 2m9 8m15 3m18-10m5 3m12-8" class="mcy"/><path d="M557 1537m34 8m4 5m4 4m0-3m8-3m6 1m19-9m8 13m32-6m13 7m19-11m5-10m4 12m2 2m31 1m0 4m19 3m15-9m1-3m14-1m10 13m42-13" class="mc3"/><path d="M538 1550m4-5m58-3m3 3m7-7m12 1m51-6m18-4m4 2m15 3m24-5m5 5m45 3m15 2m7-10m18 3m15 13" class="mcy"/><path d="M531 1527m11 10m35 6m6 1m14 1m22 5m1-2m20 5m2-11m5 7m1-1m36-11m1 7m23 9m13-6m15 3m26 2m10-5m23 8m40-26m17 24" class="mc3"/><path d="M542 1532m16 7m4-3m12 16m9-12m5-2m27 13m21-4m2-6m0-3m31 1m1 7m5-8m42 8m9-1m50-10m10 4m21 2m30 1" class="mcy"/><path d="M530 1555m9-13m10 11m38 2m20 0m16-1m19-13m7 1m5 13m2-16m5-2m43 4m29 12m2 0m0-10m34-1m5 1m28 7m13-9m12 12m1 0m3-17m13 18" class="mc3"/><path d="M531 1520m2 8m13 24m8-12m6-3m2-3m28 7m1-2m7 3m33 1m40 6m4-4m27-10m2-56m2 59m92 9m21-2" class="mcy"/><path d="M530 1548m56-2m53 5m8 1m3-4m6 3m1 3m30-4m37-1m32 3m15 0m1 2m5-2m0 1m14-10m10 5m7-5m17 4m27-8" class="mc3"/><path d="M548 1530m23-9m8 13m0 2m7 4m22 1m6-3m2 3m4 4m13-5m21-10m12 7m16-7m6 4m56 8m14-5m34-3m1 3m3 7m12-8m35 4" class="mcy"/><path d="M542 1553m9-19m36 21m3-3m15 3m16-10m5-6m35 11m13-5m10-10m2-1m4-2m0 18m1-5m22-11m3 2m9 0m23 10m8 5m29-14m47 15" class="mc3"/><path d="M530 1543m13 1m2-10m6-3m16 11m25 2m3-6m17 1m9 0m70 4m13-5m5 3m31-7m8 9m29 5m1-10m31-2m2 8m14-15" class="mcy"/><path d="M535 1531m20 23m3-7m17-6m7 8m19 4m9-6m20 8m37-1m1-7m9-3m6-7m9 14m11-5m0 3m42-2m13 4m26-8m11 1m16 2m3-4m6 5m8 3m19-8" class="mc3"/><path d="M542 1532m4-2m4 15m2-18m2 6m32 15m23 2m26-5m4-7m6 6m8-15m17 7m47 13m25-15m40 7m45-12" class="mcy"/><path d="M537 1543m6-1m31-6m32 10m4 2m27-9m14 14m12-16m1 14m9-5m2 7m4-8m3-12m39 19m4 1m8-17m4 18m15-17m20 15m5-9m13 0m22 7m18-6m2 5" class="mc3"/><path d="M540 1527m4 16m14-5m39-22m6 22m4 0m3 14m74-24m0 4m43 4m24 5m27-5m7 4m6-5m5 11m13-5" class="mcy"/><path d="M538 1542m13 6m1-21m3 20m1 5m37-1m13-11m7 9m43 5m2 1m12-14m3 4m7 0m24-11m31 20m16-5m18-5m70 8m2-20m1 5" class="mc3"/><path d="M582 1545m6-6m5-21m29 28m1 1m20-13m21 3m6 4m7-3m9-10m0-44m13 54m3 15m4-21m42 13m92-47m11 40m0-13" class="mcy"/><path d="M743 1523m7-7m7 10m6-13m21 22m3 0" class="mgr"/><path d="M723 1517m8 3m1 2m2-4m14 5m6 2" class="mgr"/><path d="M725 1520m1 0m1 0m20-1m5 7m3-10" class="mgr"/><path d="M698 1518m31-15m5 18m5 3m21-8m6 20" class="mgr"/><path d="M755 1522m2-4" class="mgr"/><path d="M711 1526m0 0" class="mye"/><path d="M706 1528m0 0" class="mdk"/><path d="M705 1528m4 0m12 1" class="mye"/><path d="M702 1527m0 0" class="mdk"/><path d="M709 1528m15-4" class="mye"/><path d="M718 1526m0 0" class="mdk"/><path d="M697 1527m10-2" class="mye"/><path d="M716 1530m0 0" class="mdk"/><path d="M695 1525m7 0m8 4" class="mye"/><path d="M705 1529m0 0" class="mdk"/><path d="M698 1528m4-4m22-1" class="mye"/><path d="M713 1526m0 0" class="mdk"/><path d="M702 1528m5 2m14-2" class="mye"/><path d="M705 1530m15-3" class="mdk"/><path d="M697 1528m20-3" class="mye"/><path d="M716 1525m0 0" class="mdk"/><path d="M725 1526m0 0" class="mye"/><path d="M698 1526m0 0" class="mdk"/><path d="M704 1508m22 1" class="mor"/><path d="M727 1490m1 5m2 4" class="mre"/></g>
<path d="M363.7 741.4l1.7 1.7-1.7 1.7-1.7-1.7z" fill="#9a1de0" stroke="#6a10a0" stroke-width="0.3"/>
<rect x="341.4" y="743.6" width="21.2" height="5.2" rx="0.6" fill="#fff" stroke="#555" stroke-width="0.5"/>
<text x="352.0" y="747.7" text-anchor="middle" class="ll">rs780096</text>
<path d="M294.8 838.9V822.1M427.0 838.9V837.0" fill="none" stroke="#9cc8f2" stroke-width="0.7"/>
<g transform="scale(0.5)"><path d="M525 1675m9 0m3 0m1-2m2 3m14 0m6 0m41-6m29 4m15-1m6 4m6-5m75-5m0 10m5-3m11 3m27-1m2-2m13 4m1-5m34-1m3-4m5 4" class="mc3"/><path d="M553 1674m24-3m4-4m48 7m10-6m10 1m10 1m13 0m5-10m16-1m12 0m18 16m4-6m24-9m37 1m40 9m10-11" class="mcy"/><path d="M542 1677m6 0m0-1m10-3m38 1m6 4m11-2m34-7m7 4m9 5m24-6m3-5m5 8m24-9m9 6m50-7m0 9m14-5m9 8m23-8m5 7m15-4" class="mc3"/><path d="M573 1677m15-11m7 10m4-6m4 2m23 1m37 1m10 1m10-9m16-3m3 12m3-16m14 3m25 3m72-8m25 4m5 6m3 5" class="mcy"/><path d="M524 1674m2 1m25 3m14-5m3 0m10 0m10-2m7 6m4-5m5 1m14-2m5 6m21 1m1-1m10-2m4-1m6 4m2-9m20 6m6 3m42-1m5-16m35 14m16 1m3-13m51 15" class="mc3"/><path d="M530 1676m27-8m24 7m3-10m18 9m26-5m25-2m37 9m19-16m45 16m7-15m36 10m26-4m11 3" class="mcy"/><path d="M530 1675m54 2m6-4m37 2m35-3m2-1m42-1m5 7m21-13m10-1m18 13m42 0m3 1m33-10m12 1m0 7m0 1" class="mc3"/><path d="M533 1670m61-1m10 1m19 0m26 2m6-4m1 7m15-11m1-3m20 7m14-4m1-2m22 3m1-4m33-5m2 14m7 0m5-4m25-6m15 6m4 2m5-5m8-2" class="mcy"/><path d="M549 1675m16 2m2-5m15-3m32-1m14 8m67-2m20-6m8 1m1 5m17-13m30 17m1-13m1 10m32 0m11 0m8 0m14-2" class="mc3"/><path d="M537 1674m27-7m11 7m32-7m15 0m7 9m72 0m4-1m12 2m10-12m3 1m2 7m5-20m2 5m10 5m26-8m13 9m11-6m15 0m0 3m22 12m2-11" class="mcy"/><path d="M530 1677m3 0m10-7m21 7m7-3m7 2m34-7m5 8m66-3m5-2m5-3m0 6m14 2m11-16m39 14m8-1m28-7m25 7m0-9m10 13m9-1m1-8m5 2" class="mc3"/><path d="M564 1676m19-11m1 4m4-2m9 4m7-4m21 7m32-6m3 7m2-8m17 9m27-13m4-5m32 3m28-9m5 13m71 1" class="mcy"/><path d="M529 1675m12-1m2 3m16-3m15 2m15 1m31 0m1 0m28-3m25 0m4 4m1-15m0 7m52-9m23 10m37 6m17 0m2-1m26 1m15-2" class="mc3"/><path d="M539 1674m18-3m33 2m1-2m14-1m6 6m4-7m19-3m42 4m8-8m0 2m13 4m14-2m1-7m20 3m18-1m17 1m6 4m29 7m36 2" class="mcy"/><path d="M526 1677m15 0m3 0m14-3m37 1m12 2m6 1m35-1m1 0m16 0m1-3m36-11m12 11m4 3m23-2m8-2m27 2m1 1m15-13m1 7m55 8" class="mc3"/><path d="M525 1676m7-1m27 0m30-2m16-2m1 4m29-7m13 2m21-5m2-2m22 10m8-11m15-5m9 8m28-4m1 2m9-16m17 23m42-8" class="mcy"/><path d="M526 1677m20 1m5-2m7-8m13 5m6 4m3-2m15-1m19-3m42 6m41-2m6-1m5-4m1-1m5-2m23-2m5 7m8 2m7-8m49 7m5 4m32-3" class="mc3"/><path d="M547 1671m9-1m4 1m5 0m61-3m26 0m5 2m12-9m3 0m0 3m11-1m31 11m1-2m25-6m14-6m4 3m11 7m40-7" class="mcy"/><path d="M524 1677m5-1m24 1m11-3m7 3m96 0m1-1m19-3m5-4m11-7m4 10m4-4m27 7m2 1m3 2m27-1m25-15m0 11m1-1m4 1m17 3m6 0m12-2" class="mc3"/><path d="M530 1671m12 0m8 5m8-9m10 4m42 4m43-6m18-8m30-1m7 1m6-6m1 7m11 3m9-5m32 0m23 15m56-11" class="mcy"/><path d="M534 1674m25-4m12 5m2-2m14 3m29-7m18 7m3 1m4-9m26 9m7-1m12 2m21-4m13-14m0 11m16-5m24 5m4-5m33 9m2-1m48-8m0 5" class="mc3"/><path d="M534 1671m28-5m19 7m0-3m45 0m4 0m7-12m53 11m21-8m12 4m7 7m0-3m2-2m70-4m15-5m7 4m20 1m1 5" class="mcy"/><path d="M533 1672m9 6m14-4m5 4m33-3m1 1m7 1m11-2m7 2m0-9m4 10m6-3m15 2m39-10m11 3m5 3m19-1m13 5m4-14m4 2m5-3m9-1m45 14m17-10m9 7m8 6m1-9" class="mc3"/><path d="M532 1672m78-2m9 1m8 3m10-4m8 4m58-9m14-2m34 12m6-13m16 6m7-11m30 13" class="mcy"/><path d="M543 1678m3-3m2 2m9-2m3 2m19-2m12 1m7-2m37-2m11 5m6-5m15-2m23 4m9-3m2 1m10 5m21-16m23 15m16-5m0 5m31-3m37-3m0 2" class="mc3"/><path d="M528 1675m4-3m24-3m18 1m4 0m11-2m10 3m2-1m13-2m5-1m79 1m23-8m7 2m5 12m57 1m27-10m22-2" class="mcy"/><path d="M536 1670m17 7m20 0m17-4m31 2m24 1m0 0m0 0m35 0m6 1m6 0m12-4m38 3m22-1m30-6m14 4m0-4m43 8" class="mc3"/><path d="M539 1671m62 3m6-5m7-1m5-1m4 3m2 1m0 0m8-4m4 1m28 4m11-11m1 0m22 14m28-13m21 5m4-3m4 4m4-13m32 8m39 1m14 9" class="mcy"/><path d="M549 1676m4-3m35 2m11 0m3 1m2 0m1-4m5 6m15 0m8-10m13 8m0-1m27-4m11 4m35 2m14 0m12 0m7 0m34-6m13-3m14 8m7-2m9 3" class="mc3"/><path d="M541 1671m40-6m10 2m9 3m28-1m13 3m28-4m21-4m3 4m51-11m12 8m4-9m14 5m5-2m17 16m36-5m6 1" class="mcy"/><path d="M528 1676m24-2m28 2m33-5m9 4m4 3m7-3m1-2m12 3m13-6m1 1m3 7m2-4m4 1m9 2m11-14m3 9m53 5m19-7m6 2m59-4m5 8m3 1m6-3m4 3" class="mc3"/><path d="M589 1676m9-3m63-8m25-5m36 2m9-1m7 2m25-6m3-7m0 8m20 2m4 7m23 9m25-6m10-1" class="mcy"/><path d="M532 1675m8 3m12-2m20-3m3 3m39-5m10 6m5-1m13-1m10-1m6-2m34-10m17 15m4-11m6 11m25-6m9 0m51-1m19 7m2-1m12 0m10-4" class="mc3"/><path d="M628 1671m7-2m28-2m11 2m4-7m8 0m7 8m10-5m55-3m22 1m12-5m4 7m7 7m0-7m5 3m27-8m2 9m10-2" class="mcy"/><path d="M536 1676m15 1m1-4m10 2m4-1m15-3m5 2m47 4m21 0m17-3m1-6m20-1m16 3m54 3m22-2m3 3m20 4" class="mc3"/><path d="M533 1671m14 5m11-2m35-4m28 0m37-1m16-3m34-6m2 3m15 8m11-12m15 9m2 5m7-17m20 18m17-7m7 0m8 0m10-7m4 6m3-2m4 10m5-15" class="mcy"/><path d="M545 1678m10-1m16-2m11-1m7 2m44 0m18 1m10 0m0-2m17-1m46 2m22-3m14-2m10 4m5-13m1 13m24 0" class="mc3"/><path d="M530 1673m18-1m8-4m29-3m2 7m4-1m12-4m23 1m43-6m4 3m4 1m2 5m41-8m3-4m24 2m13-1m15-1m2 13m3-11m24 7m12-10m18 9m7 5" class="mcy"/><path d="M571 1672m7-2m10 7m6-4m17 2m45-5m16 6m41 2m9-1m4 1m28-7m1 6m3-4m6-2m8 0m7 6m7-1m9-6m34 2" class="mc3"/><path d="M547 1672m15 1m26-7m4 7m3-3m17-2m1 4m23-6m8 7m16-7m9-2m6 12m15-14m31 9m2-9m2 10m21-6m30-3m10 5m56-4m3 1" class="mcy"/><path d="M547 1675m2 3m0-1m2-3m14 0m6 0m7-2m21 5m11-8m3 7m6 1m6 0m9-2m25-5m29 5m63-12m8-4m12 8m5 10m22-8m5 1m38 7m3-9" class="mc3"/><path d="M546 1671m54 2m2-5m3 5m0 0m15-6m4 8m1-6m4 0m59-4m23-1m34 3m11-6m5 0m53 0m16 7m3-7" class="mcy"/><path d="M541 1678m19-7m1 6m10-3m41 0m1-3m24 1m38-3m28 9m9-6m20 2m7-2m18 2m1 3m30-2m45 2" class="mc3"/><path d="M524 1675m15-4m14-2m3 4m4-5m35 4m36-5m12 4m8-3m3-1m13-2m0 1m16 2m22 2m5-6m5-6m6 14m6-8m5-3m63 6m11 3m11-13m4 5m3 8" class="mcy"/><path d="M535 1678m6 0m1-3m17-1m23-6m2 7m12 3m4-5m0 4m9-2m19-6m2 7m27 1m10-5m1 1m10-3m3 2m6-1m8-6m55 4m2-2m10-9m0 14m39-7m9 12m11-3m11-4m11 6m1-12" class="mc3"/><path d="M569 1671m3 5m36-5m19 1m25 2m74-9m27-3m17 9m2-7m35 4m44-3" class="mcy"/><path d="M528 1678m2-2m16 2m12-5m55 2m35-2m21 4m7 0m10-4m15 1m7-7m2 7m27-6m53 0m2-2m1 2m6 10m16-1m10-6m2 6m21 0m0 0" class="mc3"/><path d="M547 1674m11-8m24 11m4 1m9-9m19-3m5 2m39-2m6-3m7 9m59 0m16-10m5-3m0 8m28-9m10 7m3-2m24-5" class="mcy"/><path d="M525 1673m61 4m45-5m148 2" class="mc3"/><path d="M764 1673m0 0" class="mcy"/><path d="M709 1641m1 1m11-4m5 3m13-12m26 10" class="mgr"/><path d="M702 1645m0-6m6 3m10-4m4 16m18-23" class="mgr"/><path d="M702 1642m24 12m2-25m17 5m13 6m4 0" class="mgr"/><path d="M707 1651m3-6m7 0m7 3m5-5m58 0" class="mgr"/><path d="M696 1645m6-6m38-9m11 11m12-1m20 3" class="mgr"/><path d="M699 1648m7-2m7-7m2 10m26-20m23 12" class="mgr"/><path d="M735 1631m52 12" class="mgr"/><path d="M718 1653m0 0" class="mdk"/><path d="M711 1649m0 0" class="mye"/><path d="M722 1648m0 0" class="mdk"/><path d="M716 1654m0 0" class="mye"/><path d="M713 1652m0 0" class="mdk"/><path d="M713 1648m0 0" class="mye"/><path d="M702 1650m8 4m7 0m4-4m2 0" class="mdk"/><path d="M705 1649m0 0" class="mye"/><path d="M721 1652m0 0" class="mdk"/><path d="M700 1650m0 0" class="mye"/><path d="M697 1649m8 1" class="mdk"/><path d="M716 1650m0 0" class="mye"/><path d="M703 1648m0 0" class="mdk"/><path d="M706 1649m0 0" class="mye"/><path d="M708 1654m4 0m9-6" class="mdk"/><path d="M724 1649m0 0" class="mye"/><path d="M698 1649m10 0m4 2" class="mdk"/><path d="M704 1602m21 3m4 4" class="mor"/><path d="M727 1600m2 23" class="mre"/></g>
<path d="M363.7 807.0l1.7 1.7-1.7 1.7-1.7-1.7z" fill="#9a1de0" stroke="#6a10a0" stroke-width="0.3"/>
<rect x="341.5" y="809.2" width="21.2" height="5.2" rx="0.6" fill="#fff" stroke="#555" stroke-width="0.5"/>
<text x="352.1" y="813.3" text-anchor="middle" class="ll">rs780096</text>
<text class="rb" x="247.8" y="723.7" font-size="10.3">(I)</text>
<text class="rb" x="352.0" y="729.6" font-size="7.2" text-anchor="middle" textLength="142.2" lengthAdjust="spacingAndGlyphs">TRIM54 in Brain_Anterior_cingulate_cortex_BA24</text>
<text class="rb" x="346.5" y="789.3" font-size="7.2" text-anchor="middle" textLength="15.5" lengthAdjust="spacingAndGlyphs">GDM</text>
<rect x="251.8" y="733.6" width="184.7" height="45.6" class="fr"/>
<path d="M251.8 777.7h-1.5M251.8 765.1h-1.5M251.8 752.4h-1.5M251.8 739.8h-1.5M436.5 777.7h1.5M436.5 767.2h1.5M436.5 756.8h1.5M436.5 746.3h1.5M436.5 735.8h1.5" class="tk"/>
<g class="tl" text-anchor="end">
<text x="249.6" y="779.6">0</text>
<text x="249.6" y="767.0">2</text>
<text x="249.6" y="754.3">4</text>
<text x="249.6" y="741.7">6</text>
</g><g class="tl">
<text x="438.7" y="779.6">0</text>
<text x="438.7" y="769.1">25</text>
<text x="438.7" y="758.6">50</text>
<text x="438.7" y="748.2">75</text>
<text x="438.7" y="737.7">100</text>
</g>
<text class="yl" transform="translate(238.5 756.4) rotate(-90)" text-anchor="middle">&#8722;log<tspan font-size="3.6" dy="1.2">10</tspan><tspan dy="-1.2">(</tspan><tspan font-style="italic">p</tspan>)</text>
<text class="yl" transform="translate(450.2 756.4) rotate(90)" text-anchor="middle" textLength="36.4" lengthAdjust="spacingAndGlyphs">Recomb. rate</text>
<rect x="251.8" y="794.5" width="184.7" height="45.9" class="fr"/>
<path d="M251.8 838.9h-1.5M251.8 828.4h-1.5M251.8 817.9h-1.5M251.8 807.5h-1.5M251.8 797.0h-1.5M436.5 838.9h1.5M436.5 828.4h1.5M436.5 817.8h1.5M436.5 807.3h1.5M436.5 796.8h1.5" class="tk"/>
<g class="tl" text-anchor="end">
<text x="249.6" y="840.8">0</text>
<text x="249.6" y="830.3">5</text>
<text x="249.6" y="819.8">10</text>
<text x="249.6" y="809.4">15</text>
<text x="249.6" y="798.9">20</text>
</g><g class="tl">
<text x="438.7" y="840.8">0</text>
<text x="438.7" y="830.3">25</text>
<text x="438.7" y="819.7">50</text>
<text x="438.7" y="809.2">75</text>
<text x="438.7" y="798.7">100</text>
</g>
<text class="yl" transform="translate(238.5 817.5) rotate(-90)" text-anchor="middle">&#8722;log<tspan font-size="3.6" dy="1.2">10</tspan><tspan dy="-1.2">(</tspan><tspan font-style="italic">p</tspan>)</text>
<text class="yl" transform="translate(450.2 817.5) rotate(90)" text-anchor="middle" textLength="36.4" lengthAdjust="spacingAndGlyphs">Recomb. rate</text>
<rect x="251.8" y="843.4" width="184.7" height="36.4" class="fr"/>
<g class="xt" text-anchor="middle">
<text x="262.9" y="886.2">26500000</text>
<text x="303.4" y="886.2">27000000</text>
<text x="343.8" y="886.2">27500000</text>
<text x="384.3" y="886.2">28000000</text>
<text x="424.8" y="886.2">28500000</text>
</g>
<path d="M262.9 879.8v1.6M303.4 879.8v1.6M343.8 879.8v1.6M384.3 879.8v1.6M424.8 879.8v1.6" class="tk"/>
<text class="xl" x="344.3" y="894.8" text-anchor="middle" textLength="72" lengthAdjust="spacingAndGlyphs">Position on chromosome 2</text>
<rect x="264.1" y="897.8" width="160.3" height="11.1" class="lg"/>
<text x="265.9" y="905.0" class="lt">r2</text>
<circle cx="275.6" cy="903.3" r="1.2" fill="none" stroke="#777" stroke-width="0.5"/>
<text x="280.8" y="905.0" class="lt">miss</text>
<circle cx="296.3" cy="903.3" r="1.35" fill="#74e6dc" stroke="#555" stroke-width="0.35"/>
<text x="301.4" y="905.0" class="lt">0.0−0.2</text>
<circle cx="322.6" cy="903.3" r="1.35" fill="#62d43c" stroke="#555" stroke-width="0.35"/>
<text x="327.9" y="905.0" class="lt">0.2−0.4</text>
<circle cx="349.4" cy="903.3" r="1.35" fill="#e3c11e" stroke="#555" stroke-width="0.35"/>
<text x="354.3" y="905.0" class="lt">0.4−0.6</text>
<circle cx="375.6" cy="903.3" r="1.35" fill="#e58a2e" stroke="#555" stroke-width="0.35"/>
<text x="381.0" y="905.0" class="lt">0.6−0.8</text>
<circle cx="402.1" cy="903.3" r="1.35" fill="#c8341c" stroke="#555" stroke-width="0.35"/>
<text x="407.3" y="905.0" class="lt">0.8−1.0</text>
<g class="gt" font-size="3.4">
<text x="254.6" y="847.4">BRE</text>
<path d="M254.9 848.0h3.4" class="gb"/>
<text x="259.1" y="849.7">PREB</text>
<path d="M260.9 850.3h3.5" class="gb"/>
<text x="263.5" y="852.0">ATRAID</text>
<path d="M266.9 852.6h2.1" class="gb"/>
<text x="268.6" y="854.3">CCDC121</text>
<path d="M272.5 854.9h3.1" class="gb"/>
<text x="272.8" y="856.5">GPN1</text>
<path d="M273.0 857.1h2.5" class="gb"/>
<text x="277.0" y="858.8">DPYSL5</text>
<path d="M283.9 859.4h2.6" class="gb"/>
<text x="282.1" y="861.1">SLC4A1AP</text>
<path d="M285.5 861.7h4.2" class="gb"/>
<text x="286.0" y="863.3">CAD</text>
<path d="M286.5 863.9h2.7" class="gb"/>
<text x="291.0" y="865.6">ZNF513</text>
<path d="M295.0 866.2h4.8" class="gb"/>
<text x="295.6" y="867.9">XAB1</text>
<path d="M296.3 868.5h2.7" class="gb"/>
<text x="299.8" y="870.1">TCF23</text>
<path d="M304.2 870.7h2.2" class="gb"/>
<text x="304.3" y="872.4">UCN</text>
<path d="M304.7 873.0h2.4" class="gb"/>
<text x="308.6" y="874.7">HADHB</text>
<path d="M311.9 875.3h4.7" class="gb"/>
<text x="313.1" y="876.9">FNDC4</text>
<path d="M314.0 877.5h4.6" class="gb"/>
<text x="315.1" y="847.4">SELI</text>
<path d="M318.2 848.0h3.3" class="gb"/>
<text x="316.7" y="850.1">TCF23</text>
<path d="M317.7 850.7h3.1" class="gb"/>
<text x="318.2" y="852.8">TCF23</text>
<path d="M324.0 853.4h2.4" class="gb"/>
<text x="319.6" y="855.5">OST4</text>
<path d="M321.5 856.1h4.8" class="gb"/>
<text x="320.5" y="858.2">CIB4</text>
<path d="M322.4 858.8h3.2" class="gb"/>
<text x="322.2" y="860.8">SLC5A6</text>
<path d="M327.4 861.4h2.3" class="gb"/>
<text x="323.1" y="863.5">SLC4A1AP</text>
<path d="M324.0 864.1h3.6" class="gb"/>
<text x="324.4" y="866.2">KHK</text>
<path d="M324.5 866.8h2.7" class="gb"/>
<text x="325.8" y="868.9">TRIM54</text>
<path d="M330.8 869.5h4.1" class="gb"/>
<text x="327.3" y="871.6">SLC35F6</text>
<path d="M334.2 872.2h4.1" class="gb"/>
<text x="328.6" y="874.3">AGBL5</text>
<path d="M329.4 874.9h3.9" class="gb"/>
<text x="330.6" y="876.9">MPV17</text>
<path d="M333.0 877.5h4.3" class="gb"/>
<text x="333.6" y="847.4">KCNK3</text>
<path d="M337.4 848.0h4.9" class="gb"/>
<text x="333.9" y="850.1">C2orf16</text>
<path d="M334.5 850.7h4.5" class="gb"/>
<text x="335.5" y="852.8">SNX17</text>
<path d="M336.9 853.4h3.7" class="gb"/>
<text x="336.3" y="855.5">MRPL33</text>
<path d="M339.6 856.1h3.0" class="gb"/>
<text x="337.5" y="858.2">C2orf16</text>
<path d="M342.4 858.8h2.5" class="gb"/>
<text x="338.6" y="860.8">TMEM214</text>
<path d="M340.8 861.4h4.1" class="gb"/>
<text x="340.0" y="863.5">TCF23</text>
<path d="M342.5 864.1h3.8" class="gb"/>
<text x="341.3" y="866.2">TMEM214</text>
<path d="M342.1 866.8h3.1" class="gb"/>
<text x="342.6" y="868.9">XAB1</text>
<path d="M343.9 869.5h3.6" class="gb"/>
<text x="343.2" y="871.6">CCDC121</text>
<path d="M343.5 872.2h4.3" class="gb"/>
<text x="344.6" y="874.3">TMEM214</text>
<path d="M348.2 874.9h2.4" class="gb"/>
<text x="345.8" y="876.9">MRPL33</text>
<path d="M350.4 877.5h3.5" class="gb"/>
<text x="350.8" y="847.4">BRE</text>
<path d="M352.3 848.0h3.3" class="gb"/>
<text x="353.1" y="850.5">GCKR</text>
<path d="M353.1 851.1h2.0" class="gb"/>
<text x="355.4" y="853.5">TMEM214</text>
<path d="M356.9 854.1h4.2" class="gb"/>
<text x="357.0" y="856.5">AGBL5</text>
<path d="M361.1 857.1h3.3" class="gb"/>
<text x="358.8" y="859.6">DNAJC5G</text>
<path d="M363.6 860.2h4.2" class="gb"/>
<text x="360.9" y="862.6">HADHA</text>
<path d="M361.6 863.2h3.1" class="gb"/>
<text x="362.4" y="865.6">SLC5A6</text>
<path d="M363.0 866.2h4.0" class="gb"/>
<text x="364.5" y="868.7">RBKS</text>
<path d="M365.1 869.3h4.5" class="gb"/>
<text x="366.5" y="871.7">AGBL5</text>
<path d="M367.8 872.3h2.4" class="gb"/>
<text x="368.5" y="874.7">DRC1</text>
<path d="M369.7 875.3h2.6" class="gb"/>
<path d="M384.3 847.0H394.0" class="gb"/>
<text x="389.2" y="846.5" text-anchor="middle">ABAT</text>
<path d="M394.0 850.3H427.2" class="gb"/>
<text x="410.6" y="849.8" text-anchor="middle">BASSN</text>
<path d="M384.3 876.2H401.3" class="gb"/>
<text x="392.8" y="875.7" text-anchor="middle">ABBL11</text>
</g>
<path d="M654.1 777.2V775.5" fill="none" stroke="#9cc8f2" stroke-width="0.7"/>
<g transform="scale(0.5)"><path d="M985 1544m23-12m23 7m1-9m7 22m38-1m12 3m20 0m15-9m5 1m9-5m1 3m3-4m9 14m9-2m13-7m13 1m29-7m22 4m26 11m4-2m21 1m5-26m1 16" class="mc3"/><path d="M998 1528m11 17m5 7m12-2m24-12m8-1m5 7m8-10m5 3m56-3m30 11m2-8m34 2m2 6m42 3m36-8" class="mcy"/><path d="M994 1533m16 12m23-14m7 21m16-7m39-1m8 10m0-25m1 20m4-5m4-13m15 18m23-6m32 9m11-12m0-6m6 11m55-4m10 6m7-8m18 14m9-24m5 0" class="mc3"/><path d="M1007 1553m45-8m16 1m10-10m26 2m33-5m55 2m2 14m12-15m40 8m5 0m15 0m7-5m6 3m19-20m0 2m7 11" class="mcy"/><path d="M985 1548m11-7m20-10m5 4m3-2m1 12m1-9m43 16m3 1m41 0m16-3m52 0m3-3m5-11m5 2m24 9m7-12m12 6m1 4m14 3m38-3m11 8" class="mc3"/><path d="M993 1526m4 16m3-10m12 10m2-2m1 5m7-8m25-14m6 14m19 1m39-10m2 6m20 2m1-7m48 16m6-5m38 8m80-13" class="mcy"/><path d="M980 1539m11 15m26-15m5 11m9 0m25-1m7 2m0-1m2-15m37 5m13 11m33 0m12-6m16 7m23 1m23-3m6-1m3-1m2 6m30-2m2 0m3-2m7 2m9-24m10 18" class="mc3"/><path d="M1020 1530m17 7m2 15m8-5m31-10m14 7m20-12m71 2m1 1m16-2m2 6m33-35m9 29m10 6m6 3" class="mcy"/><path d="M982 1531m9 21m14 1m2-2m11-7m15-13m12 21m3 1m40 1m25-10m36 0m35 0m12 7m0-3m15-2m4 7m0-14m12-8m3 9m18 4m4 3m16 3m1-3m9 7m16-7" class="mc3"/><path d="M987 1544m34 5m4-15m4 2m60 3m78-2m49 7m3 5m7-17m6 3m9 16m22-14m3 9m7-7m33-34" class="mcy"/><path d="M1010 1547m3 1m58 4m3-2m8-8m0 11m9 1m20-24m6 18m38-8m3 13m7-4m13 2m4-7m5 5m101 2m3 2m11-9" class="mc3"/><path d="M982 1547m8-8m27-10m23 12m3-1m63-12m15-6m12 16m28-3m7-7m18 7m3-5m0 14m5-10m7 12m5-13m29 1m5 3m49-13m4 18m5-18m4 22" class="mcy"/><path d="M1015 1552m4 2m9-14m3 5m16 9m14-15m3 14m2-2m25 2m0-4m8 3m33-16m3 9m3 8m6 1m27-8m11-5m10 10m19 1m44-4m4 3m24-18m0 19m19-2" class="mc3"/><path d="M998 1532m28-2m25 8m49 2m14 1m21-8m17 9m11-6m15 2m23 0m32-12m22 21m3-11m12 1m4-4m4 0" class="mcy"/><path d="M1005 1541m27 7m29-9m52 4m14 9m8-17m13 7m44 4m35 6m32-15m10 5m5-6m5-8m4 5m5 5m3 4m3 1m4 8" class="mc3"/><path d="M1014 1521m6 11m5-4m12 7m7-21m1 37m5-13m1 0m8 9m3-7m55-12m1 5m1-18m2 20m24-8m32 13m15-3m44 5m17 3m15-10m5-2m7 14" class="mcy"/><path d="M986 1529m1 22m48-6m9 8m12-10m15 1m40-5m5 7m45 6m9 2m12-6m1-1m23-3m6-5m11 3m9 3m25 1m8-3m2 9m4-15m35 5" class="mc3"/><path d="M980 1528m20 9m29-7m1-4m19 16m20 2m6-5m11-2m35 2m20-3m3 15m5-5m9-1m6-15m10 22m26-5m1-3m56 0m45-41" class="mcy"/><path d="M988 1549m23-7m8-3m24 14m28-3m20 0m2 4m8-3m63 2m27 0m1-20m11 17m10-7m7-1m2 10m21-2m6-10m4 2m34 9m0-26m14 4m2 17" class="mc3"/><path d="M980 1527m22 2m4-2m31 12m33 9m44-14m30 9m4-10m2 11m9-9m2 1m5 5m1-9m31 6m13-6m16-26m6 45m27-7" class="mcy"/><path d="M1001 1539m26 5m8-2m8 7m5 4m11 1m31-9m10-4m8 10m3-13m4 13m3 3m22-14m30 8m1 2m4-11m3 1m29 11m9-9m18 8m9 4m14-18m27 18" class="mc3"/><path d="M986 1535m13-5m1 3m20-4m12 8m18-10m60 19m4-14m12 10m7-3m8-10m27 12m6 3m26 0m2-8m35 3m64-47" class="mcy"/><path d="M984 1554m13-2m21-6m94 1m30-14m32 15m1 5m32-2m12-1m6-2m12-8m1 4m21 2m4 8m34-3" class="mc3"/><path d="M1006 1541m14-10m1 3m38 14m1-12m16 1m9 0m32-5m31-3m2 4m10-2m13 16m12-11m23 5m7-6m11 15m28-5m1-9m4-2m5 8m3-10m1 5m4-5m6 3m5 5" class="mcy"/><path d="M988 1542m16 12m2-10m15 10m15-4m17 0m17 3m2 1m1-7m13-7m30 11m24-20m24 3m2 0m15 15m12-6m6 7m3 1m34-1m23 4m7-1m6-14m3 7" class="mc3"/><path d="M980 1532m27 7m32 14m23-9m18-7m31 3m15-7m45-33m3 35m17 12m27-15m4 3m19 1m50 4m5-38m2 8m5 12" class="mcy"/><path d="M995 1547m35 2m6 3m3-6m3 8m15-1m8-2m1-4m45-8m28-5m9 13m8 6m22 1m30-16m14 6m0-7m14 12m14 3m14-11m2-3m15 4m7-13m2 16" class="mc3"/><path d="M979 1545m13-17m21 13m46 2m20-6m8 10m20-14m105 6m27 6m4-11m1 4m0 4m1-4m32-5m9-10m2 13m4-29" class="mcy"/><path d="M980 1543m11-13m10 14m1-4m12 11m34 2m4-12m12 1m31 3m14 9m31-8m13-3m12 7m8 4m2-8m10-3m5 5m51 4m23 0m1-12m14-5m15 16m12-9" class="mc3"/><path d="M1026 1526m6 13m8-3m10 14m10-28m22 17m53-2m31-3m9 8m0-3m12 2m21 7m8-16m29 15m20-30m10 17m27 5" class="mcy"/><path d="M998 1552m27-1m1-10m22 2m9 11m12-1m5-12m11 6m5 4m9-2m24 5m12-1m21 0m37-6m32 7m20-2m0-4m12 1m7-8m31 6m3 5" class="mc3"/><path d="M982 1526m25 14m71 3m23-6m18-3m22-34m0 1m2 36m2-6m1 4m32 7m6-1m13 5m3-10m1 0m9 10m48-7m28-13m16 21" class="mcy"/><path d="M982 1542m10 11m23-4m6 0m15-8m25 4m40 4m34 4m21-1m29-1m22-2m1 0m1-4m61-2m3 0m18-17m4 13m7-17" class="mc3"/><path d="M981 1536m66 3m8-16m7 24m8-11m29-4m16 13m11 2m2-14m13-50m4 48m33 7m15 0m4 1m1 5m0 0m7-6m43 13m6-12m8-2m28 2m13-19" class="mcy"/><path d="M1029 1527m3 21m8 1m9-1m28 3m13 2m6-10m3 2m16 3m2 6m2-1m95-14m6 12m27 0m17-8m1 5m8-4m6 8m17-12" class="mc3"/><path d="M988 1525m3 13m3-10m46 10m19 4m5-4m13-1m86-59m2 72m20-5m23-1m8-3m14-24m3 22m13 2m10-17m9 25m4-5m6-9m1 11m3-12" class="mcy"/><path d="M980 1546m1 7m12-8m5 7m3 2m21 0m1-4m15 4m13 0m30-2m3-8m5 3m0 5m2-1m2-1m5 1m13 0m2-4m2-1m60 1m13-7m19-4m23 8m29 6" class="mc3"/><path d="M1048 1548m0 5m26-15m16 10m1-10m30 3m19-16m8 24m12 2m42-9m1-2m8-3m22-1m13 2m2 2m33-3" class="mcy"/><path d="M1026 1551m7-1m6-8m23 12m7-5m15-10m1 3m57 12m6-1m0-7m27 3m2-1m8 5m6-18m4 18m46-1m24-9m21-18m3 4m8 23m4-2" class="mc3"/><path d="M1004 1532m5-17m28 27m18 6m5-12m19 1m22 1m12 1m12-6m13-6m2 15m37 2m0-10m53 2m9 8m16 3m17-10m5 3m12-8" class="mcy"/><path d="M1012 1536m33 8m5 5m3 4m1-3m8-3m6 1m18-9m8 13m33-6m12 7m19-11m6-10m3 12m3 2m30 1m1 3m18 4m15-9m2-3m13-1m10 12m42-13" class="mc3"/><path d="M992 1549m5-5m58-3m3 3m7-7m12 1m50-6m18-4m4 1m15 4m24-5m5 5m45 2m16 3m7-11m17 4m15 13" class="mcy"/><path d="M986 1526m11 10m35 6m5 1m14 1m23 5m1-2m19 5m2-11m6 6m1 0m36-12m0 8m23 8m13-5m16 3m26 2m10-5m22 8m40-26m17 24" class="mc3"/><path d="M997 1531m15 7m5-3m12 16m9-12m5-2m26 13m22-4m1-6m1-3m30 1m2 7m4-8m43 8m8-1m51-10m9 4m22 2m29 1" class="mcy"/><path d="M984 1554m10-13m9 11m38 2m21 0m16-1m19-13m6 1m5 13m2-16m5-2m43 4m29 12m2 0m0-10m34-1m5 1m29 7m12-9m12 12m1 0m3-17m13 18" class="mc3"/><path d="M986 1519m2 8m12 24m9-12m6-3m2-3m28 7m0-2m7 3m34 1m40 6m4-4m27-10m2-56m1 59m93 9m20-3" class="mcy"/><path d="M985 1546m55-1m53 5m9 1m3-4m6 3m1 3m29-4m38-1m31 3m15 0m2 2m4-2m0 1m14-10m10 5m8-5m16 4m27-8" class="mc3"/><path d="M1003 1529m23-9m7 13m1 2m6 4m23 0m6-2m2 2m3 5m14-5m20-10m13 7m16-7m6 4m55 8m14-5m34-3m1 3m4 6m11-7m35 3" class="mcy"/><path d="M997 1552m9-19m36 21m3-3m15 3m16-10m4-6m35 11m13-5m10-10m2-1m4-2m1 18m0-5m23-12m3 2m8 1m24 10m7 5m29-14m47 15" class="mc3"/><path d="M985 1542m13 1m2-10m6-4m16 12m25 2m2-6m18 1m9-1m70 5m13-5m4 3m31-7m8 9m30 5m0-10m31-2m3 8m13-16" class="mcy"/><path d="M990 1530m20 23m3-7m17-6m7 8m19 4m8-6m21 8m36-1m2-7m9-3m5-7m10 14m10-5m1 3m41-2m14 4m25-8m11 1m17 2m3-4m5 5m8 3m20-8" class="mc3"/><path d="M997 1531m4-2m4 15m2-19m2 7m32 15m23 2m26-5m3-7m7 6m8-15m16 7m48 13m25-15m39 7m45-12" class="mcy"/><path d="M991 1542m7-1m31-6m32 10m3 2m27-9m15 14m11-16m2 14m9-5m2 7m4-8m3-12m38 19m5 1m7-17m4 18m16-17m19 15m6-9m12 0m22 7m18-6m2 5" class="mc3"/><path d="M995 1525m4 17m13-5m39-22m7 22m4 0m3 14m73-24m1 4m43 4m24 5m26-5m8 4m6-5m4 11m13-5" class="mcy"/><path d="M993 1541m13 6m1-21m3 20m1 5m36-1m14-11m7 9m43 5m2 1m12-14m3 4m6 0m25-11m31 20m15-5m19-5m69 8m2-20m1 5" class="mc3"/><path d="M1036 1544m7-6m5-21m28 27m2 2m20-13m21 3m6 4m6-4m10-9m0-45m12 55m3 15m5-21m41 13m92-47m11 39m1-12" class="mcy"/><path d="M1197 1522m7-7m8 10m5-13m22 22m2 0" class="mgr"/><path d="M1177 1516m8 3m2 2m1-4m15 5m6 2" class="mgr"/><path d="M1179 1519m2 0m0 0m21-1m4 7m4-10" class="mgr"/><path d="M1152 1517m31-15m5 18m5 3m22-8m5 20" class="mgr"/><path d="M1209 1521m2-4" class="mgr"/><path d="M1166 1525m0 0" class="mye"/><path d="M1161 1527m0 0" class="mdk"/><path d="M1159 1527m4 0m12 1" class="mye"/><path d="M1156 1526m0 0" class="mdk"/><path d="M1163 1527m15-4" class="mye"/><path d="M1173 1525m0 0" class="mdk"/><path d="M1151 1526m10-2" class="mye"/><path d="M1170 1529m0 0" class="mdk"/><path d="M1150 1524m7 0m8 4" class="mye"/><path d="M1159 1528m0 0" class="mdk"/><path d="M1153 1527m3-4m22-1" class="mye"/><path d="M1167 1525m0 0" class="mdk"/><path d="M1156 1527m5 2m14-2" class="mye"/><path d="M1159 1529m15-4" class="mdk"/><path d="M1152 1527m19-3" class="mye"/><path d="M1170 1524m0 0" class="mdk"/><path d="M1179 1525m0 0" class="mye"/><path d="M1152 1525m0 0" class="mdk"/><path d="M1158 1507m22 1" class="mor"/><path d="M1182 1489m1 4m1 5" class="mre"/></g>
<path d="M590.9 740.7l1.7 1.7-1.7 1.7-1.7-1.7z" fill="#9a1de0" stroke="#6a10a0" stroke-width="0.3"/>
<rect x="568.6" y="743.0" width="21.2" height="5.2" rx="0.6" fill="#fff" stroke="#555" stroke-width="0.5"/>
<text x="579.2" y="747.1" text-anchor="middle" class="ll">rs780096</text>
<path d="M522.6 838.3V821.9M490.0 838.3V836.0M655.0 838.3V836.0" fill="none" stroke="#9cc8f2" stroke-width="0.7"/>
<g transform="scale(0.5)"><path d="M994 1673m7-4m24 5m2 2m4 1m13-1m16-1m25-5m12 2m10 3m16-6m28 1m12 3m6-7m28 11m12-6m26-3m14 4m18 3m37 1" class="mc3"/><path d="M987 1668m3 0m31 0m12-2m8 0m37 0m6 2m24-5m11 5m25 2m18-9m2 7m1-4m22 1m21 3m33 6m12-4m9-5m34 0m5 2" class="mcy"/><path d="M983 1674m3-1m8 3m19-2m3 2m0-5m20-3m5 5m1 0m6-1m20 4m10 0m13-4m1 2m6-6m9 4m6-5m28 9m30-1m2 1m3 0m8-7m55 6m0 1m18 0m2-4m11 0" class="mc3"/><path d="M992 1670m57-5m61 8m3-7m61-2m7 8m12-2m20-13m13 15m6-2m2 1m1-1m41-4" class="mcy"/><path d="M982 1674m3 1m2-4m57 5m12 0m2-5m4 4m2 0m9-1m5-1m7-5m0 1m9 0m12 3m83 3m21 0m15-2m1-2m8 6m30-11m3 0" class="mc3"/><path d="M1019 1673m7-7m8 2m60 2m1 2m7-2m30-6m4 9m8-4m4-4m4-4m3 3m3-1m0 8m5-4m58-1m3 10m1 0m2-12" class="mcy"/><path d="M981 1676m36-2m1 0m12 1m3 1m8-3m26 2m10-5m34 2m11 1m7 3m11-1m7 1m20 0m18 0m14 0m21-3m3-6m20-1m4 10m9-2m22-2m5 2m10-2m3 1m1-6" class="mc3"/><path d="M990 1668m1 2m0 0m6-3m15 2m65-3m11-4m41 7m21 5m18 1m17-28m4 23m41-1m11-2" class="mcy"/><path d="M985 1673m16 0m0-2m26 5m5-4m0 0m12-4m37 5m17-7m10 9m45-8m2 8m3-8m23 3m39 6m7 0m16-2m39 2m5-7m4 3m3 3" class="mc3"/><path d="M985 1668m2 2m15 2m1 2m23-7m24-1m2-1m4 0m0 3m37 4m2-8m85 10m28-19m30 19m10-6m38 4m14-2m4 0m3 2" class="mcy"/><path d="M980 1672m40 2m14-8m4 10m13-4m12-3m1 6m70-13m39 13m0-1m2-2m14 3m9 1m12-6m5-1m3 4m9-2m4-1m42 3m11 3m6 0m12-1m3 1" class="mc3"/><path d="M989 1670m6 0m11 1m82-17m41 6m29 9m18 2m2-2m17-6m3 12m4-22m5 11m46 9m9-9m28 3m5 8m9-6" class="mcy"/><path d="M1019 1667m6 1m23 0m2 0m2 2m11 1m15 2m6-1m1-1m12 3m27-2m21-5m5 3m10 1m8-1m1 3m18-1m4 3m45-1m6 3m7-7m18 5m25-5" class="mc3"/><path d="M987 1673m46-9m16 0m10 0m24 9m14-4m5-4m55 0m9 5m13 1m27 0m14-7m10 5m35-2m3 7m26-7m11 2" class="mcy"/><path d="M982 1676m47-5m7 1m2 3m2-1m1 2m3-3m6 0m2 2m51-3m3 3m25-7m6 3m4 4m3-6m10 1m14 4m18-4m30 7m4-1m14-6m14 1m25-2m6 5m15 2m1-1" class="mc3"/><path d="M984 1669m37 1m9-4m36-1m10 2m5 5m19-8m3 8m44-1m54-8m41 3m8 2m21 0m36 1" class="mcy"/><path d="M1004 1671m9 1m1 2m31 0m7 1m63-1m35-7m5 4m4 5m8-4m9 0m11-2m12 6m20-1m3-4m10 4m17-6m0 6m19-3m15-1m3 0m5 5m13-4" class="mc3"/><path d="M995 1673m31-7m1 5m21-6m12 9m16-3m4-3m16-6m12 12m10-12m1-8m59 11m1 2m25-3m1-1m8 4m6 1" class="mcy"/><path d="M1027 1672m0-4m45 4m5 4m3-1m11 1m19-9m24 2m10 3m3 2m36-3m22 2m17-5m6 9m3-1m14-1m1-2m2 2m6 0m1-1m23-6m7 0m14 7m5 0" class="mc3"/><path d="M982 1675m0 0m24-4m23-6m56 0m1 1m32 9m50-11m10 2m5 8m38-9m12 0m21 3m5-4m12 8m6-7" class="mcy"/><path d="M983 1673m28 0m6-1m14 3m13-4m30 0m8 4m40-8m22 9m11 1m20-1m45-10m1 9m25-5m0-1m3 6m2 1m6 0m26-6m22 5" class="mc3"/><path d="M980 1669m76-4m9-1m8 4m4 2m5 2m8-3m6 0m10-1m9 4m2-1m6-9m19 8m0-7m5 2m8 9m68-9m27 4m2 3m8 2" class="mcy"/><path d="M996 1675m22-1m50 2m25-2m21 1m45-3m4 3m3-5m14 6m1 0m17-8m2 5m12 0m2 1m35-1m6-1m0-1m21 4m1-6m5 6" class="mc3"/><path d="M981 1669m12 4m9 0m30-7m5 0m0-11m43 13m1-3m12-8m48 8m22 1m47 6m12-8m3 7m2 5m16-10m13 6m9-7m19 3m1-1" class="mcy"/><path d="M983 1658m1 18m6-1m15-5m19 6m3-3m4-8m12 6m11 3m31 0m10 3m0-2m8-2m3-2m9 0m1 2m2 3m2-1m10 0m17-3m25 2m3 0m46-3m49 2m32 2" class="mc3"/><path d="M1012 1673m31-1m7-9m39 11m3-6m15 1m80-4m9-1m13 3m13-1m4 9m29-10m12 5m25 1m7-3" class="mcy"/><path d="M982 1671m31 5m18-9m4 8m8-5m16 5m4 0m58-1m32-6m4-3m11 11m6 1m17-2m11-1m4 1m30-10m8 11m18 0m42-1" class="mc3"/><path d="M991 1669m1 0m14 3m13-2m8 3m7-4m0-2m69 2m6 2m6-8m7-1m39 13m7-12m11 1m14-1m15 10m5-8m5 3m51 1m9-3m10 7" class="mcy"/><path d="M999 1676m21-3m35 4m14-11m27 7m35 0m4-7m13 8m5-11m7 9m3 1m11-4m10 4m3-2m13 5m1-7m13 3m32-1m23 4m7-1m1-1m9-2m9 4m6-2m0-1" class="mc3"/><path d="M999 1672m96-1m17-8m35 1m2 4m20-5m12 4m4 4m18 4m4-6m61-3m12 4m18-1m3-3m3 5" class="mcy"/><path d="M984 1676m10 1m27-9m6 8m27-4m8 5m13-3m8 0m11-3m38 1m11-2m6-3m39 10m1-6m3-7m1 7m3 5m6-5m8 2m17 1m1-4m20 1m7 2m14 0m13 4m22-1" class="mc3"/><path d="M1003 1675m112-7m56 2m1-1m4 3m7-1m14-3m2-6m25 7m27-1m5-1m13-1m8 3m30 0" class="mcy"/><path d="M982 1674m14-5m17 6m1 0m24 0m18-5m9-1m19 3m11 2m21-3m32 2m14-11m5 2m5 4m54 7m13-3m29 2m0 2m3-3m20 2m5 0" class="mc3"/><path d="M1010 1669m22-3m17 1m9 4m14 2m7-3m4-5m20 0m4 4m8 2m4 0m30-8m47-12m30 16m21 7m2-7m13 2m24 2m12-6" class="mcy"/><path d="M987 1675m30-2m59-3m3 0m7 7m2-2m24-3m8-3m19 7m3-12m3 12m1-8m2 5m50-5m17 7m21 0m15-1m15 2" class="mc3"/><path d="M989 1668m20 6m34-17m5 8m3 2m2 4m11-8m1 4m29-5m8 4m4 8m6-10m1 4m39-5m23 1m6 0m0-2m44 8m2-4m6 1m4 5m55-4" class="mcy"/><path d="M1002 1673m9 1m6 1m7 0m2-3m10 4m17 0m17-4m19 3m6-6m3 6m5 2m10-5m2-7m63 7m1-3m19 6m6 2m10-2m4 0m1 1m3-1m23-3m30 0m17-1m3 3" class="mc3"/><path d="M990 1669m31-1m31-3m86 0m69 10m3-8m16 5m34-6m8 2m13-3m7 2m9 5m2-1m7-4" class="mcy"/><path d="M1001 1668m2 5m1 3m13-4m30-5m25 3m5 3m7 0m9 2m16-3m2 2m9-1m2 2m16-3m32-1m5-3m47 3m5 3m13-2m26 4m1-1m21 1m3 1m0-4m9-3m1-4" class="mc3"/><path d="M982 1673m5-5m20 2m30-4m10-2m71 6m11 3m32-4m4-9m12 8m15-4m5-1m53 7m15-4" class="mcy"/><path d="M980 1676m11-4m8-2m5 4m35 1m34-7m16 6m14 2m29-2m16-4m19 1m59 0m8 5m0-2m20-2m4-7m13 8m21-6m9 2m3 6" class="mc3"/><path d="M982 1670m3 3m15-1m19-2m17-2m6 1m24 1m8-1m33 4m27-12m35 1m32 1m6 8m12-1m1-2m22-1m16-3m17 7m23-4m9 8" class="mcy"/><path d="M988 1670m4 5m9 1m50-1m1-1m16-2m9 4m20-4m27 2m8 1m6-12m21 12m5-12m8 11m9-8m2 6m3-9m1 13m14 1m40-6m1 4m12-4m34 5m2-2" class="mc3"/><path d="M995 1671m4-2m25-3m1 0m24 2m32 6m10-11m25 0m13-3m9 4m48-2m9 3m6 6m10-5m30 2m40-3" class="mcy"/><path d="M1002 1675m75 1m15-5m4 5m27-1m12-8m24 0m2 9m28 0m10-2m5-7m10 5m35 0m21-4m7 5m20 1" class="mc3"/><path d="M1005 1669m37 2m1-3m13-1m0-4m3 6m21 0m15-4m5-2m16-1m15 10m8 0m2-7m27 2m1-6m13 7m7-5m1-14m7 21m1 2m10-7m23 4m43 1m7-3" class="mcy"/><path d="M1004 1675m28-4m0-2m17 0m7 1m8 2m4 3m11-3m5 3m26 1m31-5m2 5m11 0m15-6m9 4m24-4m35 6m8-1m5-2m4 0m1-4m48-1" class="mc3"/><path d="M981 1671m0 0m50 3m66-8m1-2m6 2m6-3m20-1m7 2m12 9m3-8m7 5m8 1m9-5m47 2m7 2m19 5m53-7" class="mcy"/><path d="M1038 1674m74-2m115 4" class="mc3"/><path d="M985 1670m13-3m66 8m40-10m29 0m5 5m4-19m27 12m12 5m58 5" class="mcy"/><path d="M1165 1624m21 24m26 1m1-4m9 6m21 1" class="mgr"/><path d="M1154 1649m22-8m28 4m10 5m2-6m23 9" class="mgr"/><path d="M1151 1633m33 15m13-11m4 10m2-4m10 1" class="mgr"/><path d="M1192 1647m7-4m2 3m12 1m28 6" class="mgr"/><path d="M1152 1636m57 13" class="mdk"/><path d="M1148 1631m6 4m7-8" class="mye"/><path d="M1179 1629m0 0" class="mdk"/><path d="M1154 1635m1 1m1-7m6 3m12-6" class="mye"/><path d="M1149 1631m6-3m40 18" class="mdk"/><path d="M1150 1635m25-1" class="mye"/><path d="M1189 1647m0 0" class="mdk"/><path d="M1166 1636m12-2" class="mye"/><path d="M1161 1636m2-2" class="mdk"/><path d="M1151 1635m24-1" class="mye"/><path d="M1159 1636m0 0" class="mdk"/><path d="M1153 1626m14 0" class="mye"/><path d="M1150 1629m21 7" class="mdk"/><path d="M1179 1634m4-3" class="mye"/><path d="M1184 1634m3 12m6-1m19 1" class="mdk"/><path d="M1159 1601m21-2" class="mor"/><path d="M1181 1603m1 9m1 3" class="mre"/></g>
<path d="M590.5 802.4l1.7 1.7-1.7 1.7-1.7-1.7z" fill="#9a1de0" stroke="#6a10a0" stroke-width="0.3"/>
<rect x="591.6" y="799.2" width="21.2" height="5.2" rx="0.6" fill="#fff" stroke="#555" stroke-width="0.5"/>
<text x="602.2" y="803.3" text-anchor="middle" class="ll">rs780096</text>
<text class="rb" x="481.9" y="725.4" font-size="10.3">(J)</text>
<text class="rb" x="579.8" y="729.2" font-size="7.2" text-anchor="middle" textLength="142.7" lengthAdjust="spacingAndGlyphs">TRIM54 in Brain_Anterior_cingulate_cortex_BA24</text>
<text class="rb" x="577.9" y="788.8" font-size="7.2" text-anchor="middle" textLength="12.0" lengthAdjust="spacingAndGlyphs">T2D</text>
<rect x="479.7" y="733.1" width="184.3" height="45.8" class="fr"/>
<path d="M479.7 777.2h-1.5M479.7 764.5h-1.5M479.7 751.8h-1.5M479.7 739.1h-1.5M664.0 777.2h1.5M664.0 766.7h1.5M664.0 756.2h1.5M664.0 745.8h1.5M664.0 735.3h1.5" class="tk"/>
<g class="tl" text-anchor="end">
<text x="477.5" y="779.1">0</text>
<text x="477.5" y="766.4">2</text>
<text x="477.5" y="753.7">4</text>
<text x="477.5" y="741.0">6</text>
</g><g class="tl">
<text x="666.2" y="779.1">0</text>
<text x="666.2" y="768.6">25</text>
<text x="666.2" y="758.1">50</text>
<text x="666.2" y="747.7">75</text>
<text x="666.2" y="737.2">100</text>
</g>
<text class="yl" transform="translate(465.8 756.0) rotate(-90)" text-anchor="middle">&#8722;log<tspan font-size="3.6" dy="1.2">10</tspan><tspan dy="-1.2">(</tspan><tspan font-style="italic">p</tspan>)</text>
<text class="yl" transform="translate(677.7 756.0) rotate(90)" text-anchor="middle" textLength="36.4" lengthAdjust="spacingAndGlyphs">Recomb. rate</text>
<rect x="479.7" y="794.3" width="184.3" height="45.7" class="fr"/>
<path d="M479.7 838.3h-1.5M479.7 824.7h-1.5M479.7 811.2h-1.5M479.7 797.6h-1.5M664.0 838.3h1.5M664.0 827.8h1.5M664.0 817.3h1.5M664.0 806.8h1.5M664.0 796.3h1.5" class="tk"/>
<g class="tl" text-anchor="end">
<text x="477.5" y="840.2">0</text>
<text x="477.5" y="826.6">5</text>
<text x="477.5" y="813.1">10</text>
<text x="477.5" y="799.5">15</text>
</g><g class="tl">
<text x="666.2" y="840.2">0</text>
<text x="666.2" y="829.7">25</text>
<text x="666.2" y="819.2">50</text>
<text x="666.2" y="808.7">75</text>
<text x="666.2" y="798.2">100</text>
</g>
<text class="yl" transform="translate(465.8 817.1) rotate(-90)" text-anchor="middle">&#8722;log<tspan font-size="3.6" dy="1.2">10</tspan><tspan dy="-1.2">(</tspan><tspan font-style="italic">p</tspan>)</text>
<text class="yl" transform="translate(677.7 817.1) rotate(90)" text-anchor="middle" textLength="36.4" lengthAdjust="spacingAndGlyphs">Recomb. rate</text>
<rect x="479.7" y="842.5" width="184.3" height="36.5" class="fr"/>
<g class="xt" text-anchor="middle">
<text x="490.3" y="885.4">26500000</text>
<text x="530.7" y="885.4">27000000</text>
<text x="571.1" y="885.4">27500000</text>
<text x="611.5" y="885.4">28000000</text>
<text x="651.9" y="885.4">28500000</text>
</g>
<path d="M490.3 879.0v1.6M530.7 879.0v1.6M571.1 879.0v1.6M611.5 879.0v1.6M651.9 879.0v1.6" class="tk"/>
<text class="xl" x="571.6" y="894.0" text-anchor="middle" textLength="72" lengthAdjust="spacingAndGlyphs">Position on chromosome 2</text>
<rect x="492.3" y="897.4" width="159.5" height="10.9" class="lg"/>
<text x="494.1" y="904.5" class="lt">r2</text>
<circle cx="503.7" cy="902.8" r="1.2" fill="none" stroke="#777" stroke-width="0.5"/>
<text x="508.9" y="904.5" class="lt">miss</text>
<circle cx="524.4" cy="902.8" r="1.35" fill="#74e6dc" stroke="#555" stroke-width="0.35"/>
<text x="529.4" y="904.5" class="lt">0.0−0.2</text>
<circle cx="550.6" cy="902.8" r="1.35" fill="#62d43c" stroke="#555" stroke-width="0.35"/>
<text x="555.8" y="904.5" class="lt">0.2−0.4</text>
<circle cx="577.2" cy="902.8" r="1.35" fill="#e3c11e" stroke="#555" stroke-width="0.35"/>
<text x="582.0" y="904.5" class="lt">0.4−0.6</text>
<circle cx="603.3" cy="902.8" r="1.35" fill="#e58a2e" stroke="#555" stroke-width="0.35"/>
<text x="608.6" y="904.5" class="lt">0.6−0.8</text>
<circle cx="629.7" cy="902.8" r="1.35" fill="#c8341c" stroke="#555" stroke-width="0.35"/>
<text x="634.8" y="904.5" class="lt">0.8−1.0</text>
<g class="gt" font-size="3.4">
<text x="482.6" y="846.6">BRE</text>
<path d="M482.8 847.2h4.6" class="gb"/>
<text x="487.0" y="848.8">TRIM54</text>
<path d="M492.5 849.4h4.6" class="gb"/>
<text x="491.0" y="851.1">SUPT7L</text>
<path d="M494.2 851.7h4.4" class="gb"/>
<text x="495.4" y="853.4">DNAJC5G</text>
<path d="M500.1 854.0h2.9" class="gb"/>
<text x="499.6" y="855.7">BRE</text>
<path d="M502.6 856.3h2.1" class="gb"/>
<text x="504.3" y="857.9">SLC30A3</text>
<path d="M507.4 858.5h4.9" class="gb"/>
<text x="508.8" y="860.2">KCNK3</text>
<path d="M508.8 860.8h4.6" class="gb"/>
<text x="514.0" y="862.5">TRIM54</text>
<path d="M515.1 863.1h4.0" class="gb"/>
<text x="517.6" y="864.7">MPV17</text>
<path d="M519.1 865.3h4.1" class="gb"/>
<text x="522.0" y="867.0">C2orf70</text>
<path d="M529.2 867.6h4.5" class="gb"/>
<text x="526.9" y="869.3">EMILIN1</text>
<path d="M530.3 869.9h3.5" class="gb"/>
<text x="531.6" y="871.6">DPYSL5</text>
<path d="M538.9 872.2h2.5" class="gb"/>
<text x="535.9" y="873.8">C2orf16</text>
<path d="M537.8 874.4h3.9" class="gb"/>
<text x="540.8" y="876.1">CGREF1</text>
<path d="M544.4 876.7h3.3" class="gb"/>
<text x="542.5" y="846.6">UCN</text>
<path d="M542.6 847.2h5.0" class="gb"/>
<text x="543.6" y="849.2">C2orf70</text>
<path d="M548.0 849.8h3.7" class="gb"/>
<text x="545.0" y="851.9">TRIM54</text>
<path d="M545.8 852.5h3.1" class="gb"/>
<text x="546.6" y="854.6">TRIM54</text>
<path d="M548.9 855.2h3.9" class="gb"/>
<text x="548.3" y="857.3">HADHB</text>
<path d="M552.7 857.9h2.7" class="gb"/>
<text x="548.8" y="860.0">ABCG5</text>
<path d="M551.5 860.6h4.2" class="gb"/>
<text x="550.3" y="862.7">MAPRE3</text>
<path d="M552.0 863.3h4.5" class="gb"/>
<text x="551.6" y="865.4">C2orf70</text>
<path d="M555.7 866.0h4.9" class="gb"/>
<text x="553.3" y="868.1">FAM59B</text>
<path d="M559.2 868.7h4.0" class="gb"/>
<text x="554.5" y="870.7">TCF23</text>
<path d="M559.3 871.3h3.2" class="gb"/>
<text x="555.6" y="873.4">C2orf70</text>
<path d="M557.0 874.0h4.6" class="gb"/>
<text x="557.5" y="876.1">RBKS</text>
<path d="M558.8 876.7h4.4" class="gb"/>
<text x="560.1" y="846.6">SUPT7L</text>
<path d="M564.3 847.2h4.7" class="gb"/>
<text x="561.6" y="849.2">GAREM2</text>
<path d="M564.8 849.8h3.6" class="gb"/>
<text x="562.9" y="851.9">UCN</text>
<path d="M564.2 852.5h3.7" class="gb"/>
<text x="564.2" y="854.6">SELI</text>
<path d="M564.9 855.2h2.9" class="gb"/>
<text x="564.6" y="857.3">MIR4263</text>
<path d="M570.0 857.9h3.2" class="gb"/>
<text x="565.6" y="860.0">SLC30A3</text>
<path d="M568.8 860.6h4.1" class="gb"/>
<text x="567.1" y="862.7">DPYSL5</text>
<path d="M573.2 863.3h2.7" class="gb"/>
<text x="568.7" y="865.4">SLC30A3</text>
<path d="M570.0 866.0h2.6" class="gb"/>
<text x="569.3" y="868.1">EIF2B4</text>
<path d="M571.0 868.7h2.2" class="gb"/>
<text x="570.9" y="870.7">HADHA</text>
<path d="M571.9 871.3h2.5" class="gb"/>
<text x="571.3" y="873.4">KCNK3</text>
<path d="M575.1 874.0h3.1" class="gb"/>
<text x="573.1" y="876.1">EMILIN1</text>
<path d="M576.2 876.7h2.9" class="gb"/>
<text x="578.7" y="846.6">ZNF513</text>
<path d="M584.6 847.2h3.8" class="gb"/>
<text x="579.9" y="849.6">PPM1G</text>
<path d="M583.4 850.2h4.5" class="gb"/>
<text x="582.2" y="852.6">XAB1</text>
<path d="M582.5 853.2h2.7" class="gb"/>
<text x="583.8" y="855.7">EMILIN1</text>
<path d="M588.9 856.3h4.8" class="gb"/>
<text x="586.2" y="858.7">DPYSL5</text>
<path d="M589.2 859.3h3.1" class="gb"/>
<text x="587.8" y="861.8">SNX17</text>
<path d="M590.0 862.4h3.4" class="gb"/>
<text x="590.1" y="864.8">UCN</text>
<path d="M592.4 865.4h2.0" class="gb"/>
<text x="592.0" y="867.8">CIB4</text>
<path d="M594.0 868.4h4.7" class="gb"/>
<text x="593.6" y="870.9">FNDC4</text>
<path d="M596.3 871.5h3.2" class="gb"/>
<text x="595.1" y="873.9">KHK</text>
<path d="M596.3 874.5h3.9" class="gb"/>
<path d="M611.5 846.1H621.2" class="gb"/>
<text x="616.3" y="845.6" text-anchor="middle">ABAT</text>
<path d="M621.2 849.4H654.3" class="gb"/>
<text x="637.8" y="848.9" text-anchor="middle">BASSN</text>
<path d="M611.5 875.4H628.5" class="gb"/>
<text x="620.0" y="874.9" text-anchor="middle">ABBL11</text>
</g>
</svg></body></html>
